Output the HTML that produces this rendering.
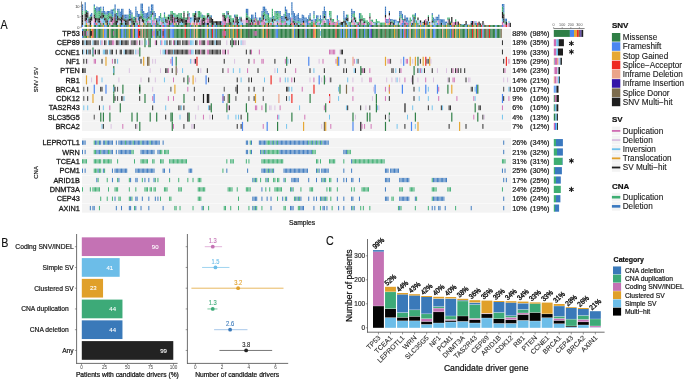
<!DOCTYPE html>
<html><head><meta charset="utf-8"><style>
html,body{margin:0;padding:0;background:#fff;width:685px;height:379px;overflow:hidden}
svg{display:block;will-change:transform}
text{font-family:"Liberation Sans", sans-serif;stroke-linejoin:round}
</style></head><body>
<svg width="685" height="379" viewBox="0 0 685 379" shape-rendering="auto">
<text x="0" y="0" font-size="12.6" fill="#111" stroke="#111" stroke-width="0.15" transform="translate(0.55,28.7) scale(0.85,1)">A</text>
<rect x="82.00" y="28.88" width="429.00" height="9.05" fill="#f3f3f3"/>
<rect x="82.00" y="38.18" width="429.00" height="9.05" fill="#f3f3f3"/>
<rect x="82.00" y="47.48" width="429.00" height="9.05" fill="#f3f3f3"/>
<rect x="82.00" y="56.77" width="429.00" height="9.05" fill="#f3f3f3"/>
<rect x="82.00" y="66.07" width="429.00" height="9.05" fill="#f3f3f3"/>
<rect x="82.00" y="75.38" width="429.00" height="9.05" fill="#f3f3f3"/>
<rect x="82.00" y="84.67" width="429.00" height="9.05" fill="#f3f3f3"/>
<rect x="82.00" y="93.97" width="429.00" height="9.05" fill="#f3f3f3"/>
<rect x="82.00" y="103.28" width="429.00" height="9.05" fill="#f3f3f3"/>
<rect x="82.00" y="112.57" width="429.00" height="9.05" fill="#f3f3f3"/>
<rect x="82.00" y="121.88" width="429.00" height="9.05" fill="#f3f3f3"/>
<rect x="82.00" y="138.12" width="429.00" height="9.05" fill="#f3f3f3"/>
<rect x="82.00" y="147.47" width="429.00" height="9.05" fill="#f3f3f3"/>
<rect x="82.00" y="156.82" width="429.00" height="9.05" fill="#f3f3f3"/>
<rect x="82.00" y="166.17" width="429.00" height="9.05" fill="#f3f3f3"/>
<rect x="82.00" y="175.53" width="429.00" height="9.05" fill="#f3f3f3"/>
<rect x="82.00" y="184.88" width="429.00" height="9.05" fill="#f3f3f3"/>
<rect x="82.00" y="194.22" width="429.00" height="9.05" fill="#f3f3f3"/>
<rect x="82.00" y="203.58" width="429.00" height="9.05" fill="#f3f3f3"/>
<rect x="82.00" y="28.88" width="1.18" height="9.05" fill="#4a86f0"/>
<rect x="82.05" y="31.00" width="0.92" height="4.80" fill="#1e1e1e"/>
<rect x="83.30" y="28.88" width="1.18" height="9.05" fill="#2f7f46"/>
<rect x="83.35" y="31.00" width="0.92" height="4.80" fill="#cf6cb2"/>
<rect x="84.60" y="28.88" width="1.18" height="9.05" fill="#2f7f46"/>
<rect x="84.65" y="31.00" width="0.92" height="4.80" fill="#404040"/>
<rect x="85.90" y="28.88" width="1.18" height="9.05" fill="#2f7f46"/>
<rect x="85.95" y="31.00" width="0.92" height="4.80" fill="#cf6cb2"/>
<rect x="87.20" y="28.88" width="1.18" height="9.05" fill="#e6a834"/>
<rect x="87.25" y="31.00" width="0.92" height="4.80" fill="#6cc0ec"/>
<rect x="88.50" y="28.88" width="1.18" height="9.05" fill="#7c6c4e"/>
<rect x="88.55" y="31.00" width="0.92" height="4.80" fill="#d9bfe0"/>
<rect x="89.80" y="28.88" width="1.18" height="9.05" fill="#2f7f46"/>
<rect x="89.85" y="31.00" width="0.92" height="4.80" fill="#1e1e1e"/>
<rect x="91.10" y="28.88" width="1.18" height="9.05" fill="#e6a834"/>
<rect x="91.15" y="31.00" width="0.92" height="4.80" fill="#1e1e1e"/>
<rect x="92.40" y="28.88" width="1.18" height="9.05" fill="#ee2a24"/>
<rect x="93.70" y="28.88" width="1.18" height="9.05" fill="#2f7f46"/>
<rect x="95.00" y="28.88" width="1.18" height="9.05" fill="#2f7f46"/>
<rect x="96.30" y="28.88" width="1.18" height="9.05" fill="#4a86f0"/>
<rect x="97.60" y="28.88" width="1.18" height="9.05" fill="#2f7f46"/>
<rect x="98.90" y="28.88" width="1.18" height="9.05" fill="#2f7f46"/>
<rect x="100.20" y="28.88" width="1.18" height="9.05" fill="#2f7f46"/>
<rect x="101.50" y="28.88" width="1.18" height="9.05" fill="#2f7f46"/>
<rect x="102.80" y="28.88" width="1.18" height="9.05" fill="#e6a834"/>
<rect x="104.10" y="28.88" width="1.18" height="9.05" fill="#4a86f0"/>
<rect x="105.40" y="28.88" width="1.18" height="9.05" fill="#4a86f0"/>
<rect x="106.70" y="28.88" width="1.18" height="9.05" fill="#2f7f46"/>
<rect x="108.00" y="28.88" width="1.18" height="9.05" fill="#2f7f46"/>
<rect x="109.30" y="28.88" width="1.18" height="9.05" fill="#eba48a"/>
<rect x="110.60" y="28.88" width="1.18" height="9.05" fill="#2f7f46"/>
<rect x="111.90" y="28.88" width="1.18" height="9.05" fill="#2f7f46"/>
<rect x="113.20" y="28.88" width="1.18" height="9.05" fill="#2f7f46"/>
<rect x="113.25" y="31.00" width="0.92" height="4.80" fill="#cf6cb2"/>
<rect x="114.50" y="28.88" width="1.18" height="9.05" fill="#2f7f46"/>
<rect x="115.80" y="28.88" width="1.18" height="9.05" fill="#2f7f46"/>
<rect x="117.10" y="28.88" width="1.18" height="9.05" fill="#2f7f46"/>
<rect x="118.40" y="28.88" width="1.18" height="9.05" fill="#e6a834"/>
<rect x="119.70" y="28.88" width="1.18" height="9.05" fill="#2f7f46"/>
<rect x="121.00" y="28.88" width="1.18" height="9.05" fill="#4a86f0"/>
<rect x="122.30" y="28.88" width="1.18" height="9.05" fill="#4a86f0"/>
<rect x="123.60" y="28.88" width="1.18" height="9.05" fill="#2f7f46"/>
<rect x="124.90" y="28.88" width="1.18" height="9.05" fill="#4a86f0"/>
<rect x="126.20" y="28.88" width="1.18" height="9.05" fill="#2f7f46"/>
<rect x="127.50" y="28.88" width="1.18" height="9.05" fill="#2f7f46"/>
<rect x="128.80" y="28.88" width="1.18" height="9.05" fill="#e6a834"/>
<rect x="130.10" y="28.88" width="1.18" height="9.05" fill="#2f7f46"/>
<rect x="131.40" y="28.88" width="1.18" height="9.05" fill="#3414a8"/>
<rect x="132.70" y="28.88" width="1.18" height="9.05" fill="#e6a834"/>
<rect x="134.00" y="28.88" width="1.18" height="9.05" fill="#2f7f46"/>
<rect x="135.30" y="28.88" width="1.18" height="9.05" fill="#4a86f0"/>
<rect x="136.60" y="28.88" width="1.18" height="9.05" fill="#4a86f0"/>
<rect x="137.90" y="28.88" width="1.18" height="9.05" fill="#ee2a24"/>
<rect x="139.20" y="28.88" width="1.18" height="9.05" fill="#ee2a24"/>
<rect x="139.25" y="31.00" width="0.92" height="4.80" fill="#1e1e1e"/>
<rect x="140.50" y="28.88" width="1.18" height="9.05" fill="#2f7f46"/>
<rect x="141.80" y="28.88" width="1.18" height="9.05" fill="#eba48a"/>
<rect x="143.10" y="28.88" width="1.18" height="9.05" fill="#2f7f46"/>
<rect x="144.40" y="28.88" width="1.18" height="9.05" fill="#7c6c4e"/>
<rect x="145.70" y="28.88" width="1.18" height="9.05" fill="#2f7f46"/>
<rect x="147.00" y="28.88" width="1.18" height="9.05" fill="#7c6c4e"/>
<rect x="148.30" y="28.88" width="1.18" height="9.05" fill="#2f7f46"/>
<rect x="149.60" y="28.88" width="1.18" height="9.05" fill="#2f7f46"/>
<rect x="150.90" y="28.88" width="1.18" height="9.05" fill="#2f7f46"/>
<rect x="152.20" y="28.88" width="1.18" height="9.05" fill="#4a86f0"/>
<rect x="152.25" y="31.00" width="0.92" height="4.80" fill="#cf6cb2"/>
<rect x="153.50" y="28.88" width="1.18" height="9.05" fill="#e6a834"/>
<rect x="153.55" y="31.00" width="0.92" height="4.80" fill="#cf6cb2"/>
<rect x="154.80" y="28.88" width="1.18" height="9.05" fill="#4a86f0"/>
<rect x="156.10" y="28.88" width="1.18" height="9.05" fill="#2f7f46"/>
<rect x="157.40" y="28.88" width="1.18" height="9.05" fill="#2f7f46"/>
<rect x="157.45" y="31.00" width="0.92" height="4.80" fill="#1e1e1e"/>
<rect x="158.70" y="28.88" width="1.18" height="9.05" fill="#2f7f46"/>
<rect x="158.75" y="31.00" width="0.92" height="4.80" fill="#6cc0ec"/>
<rect x="160.00" y="28.88" width="1.18" height="9.05" fill="#2f7f46"/>
<rect x="161.30" y="28.88" width="1.18" height="9.05" fill="#4a86f0"/>
<rect x="162.60" y="28.88" width="1.18" height="9.05" fill="#ee2a24"/>
<rect x="162.65" y="31.00" width="0.92" height="4.80" fill="#404040"/>
<rect x="163.90" y="28.88" width="1.18" height="9.05" fill="#4a86f0"/>
<rect x="165.20" y="28.88" width="1.18" height="9.05" fill="#4a86f0"/>
<rect x="166.50" y="28.88" width="1.18" height="9.05" fill="#2f7f46"/>
<rect x="167.80" y="28.88" width="1.18" height="9.05" fill="#7c6c4e"/>
<rect x="169.10" y="28.88" width="1.18" height="9.05" fill="#2f7f46"/>
<rect x="170.40" y="28.88" width="1.18" height="9.05" fill="#4a86f0"/>
<rect x="171.70" y="28.88" width="1.18" height="9.05" fill="#4a86f0"/>
<rect x="173.00" y="28.88" width="1.18" height="9.05" fill="#4a86f0"/>
<rect x="174.30" y="28.88" width="1.18" height="9.05" fill="#2f7f46"/>
<rect x="175.60" y="28.88" width="1.18" height="9.05" fill="#2f7f46"/>
<rect x="176.90" y="28.88" width="1.18" height="9.05" fill="#2f7f46"/>
<rect x="178.20" y="28.88" width="1.18" height="9.05" fill="#2f7f46"/>
<rect x="179.50" y="28.88" width="1.18" height="9.05" fill="#2f7f46"/>
<rect x="180.80" y="28.88" width="1.18" height="9.05" fill="#2f7f46"/>
<rect x="182.10" y="28.88" width="1.18" height="9.05" fill="#2f7f46"/>
<rect x="183.40" y="28.88" width="1.18" height="9.05" fill="#2f7f46"/>
<rect x="184.70" y="28.88" width="1.18" height="9.05" fill="#ee2a24"/>
<rect x="186.00" y="28.88" width="1.18" height="9.05" fill="#2f7f46"/>
<rect x="187.30" y="28.88" width="1.18" height="9.05" fill="#2f7f46"/>
<rect x="188.60" y="28.88" width="1.18" height="9.05" fill="#2f7f46"/>
<rect x="189.90" y="28.88" width="1.18" height="9.05" fill="#4a86f0"/>
<rect x="191.20" y="28.88" width="1.18" height="9.05" fill="#2f7f46"/>
<rect x="192.50" y="28.88" width="1.18" height="9.05" fill="#2f7f46"/>
<rect x="193.80" y="28.88" width="1.18" height="9.05" fill="#eba48a"/>
<rect x="195.10" y="28.88" width="1.18" height="9.05" fill="#2f7f46"/>
<rect x="196.40" y="28.88" width="1.18" height="9.05" fill="#e6a834"/>
<rect x="197.70" y="28.88" width="1.18" height="9.05" fill="#2f7f46"/>
<rect x="199.00" y="28.88" width="1.18" height="9.05" fill="#2f7f46"/>
<rect x="200.30" y="28.88" width="1.18" height="9.05" fill="#1e1e1e"/>
<rect x="201.60" y="28.88" width="1.18" height="9.05" fill="#2f7f46"/>
<rect x="202.90" y="28.88" width="1.18" height="9.05" fill="#2f7f46"/>
<rect x="204.20" y="28.88" width="1.18" height="9.05" fill="#2f7f46"/>
<rect x="205.50" y="28.88" width="1.18" height="9.05" fill="#4a86f0"/>
<rect x="206.80" y="28.88" width="1.18" height="9.05" fill="#e6a834"/>
<rect x="208.10" y="28.88" width="1.18" height="9.05" fill="#2f7f46"/>
<rect x="209.40" y="28.88" width="1.18" height="9.05" fill="#4a86f0"/>
<rect x="210.70" y="28.88" width="1.18" height="9.05" fill="#2f7f46"/>
<rect x="212.00" y="28.88" width="1.18" height="9.05" fill="#ee2a24"/>
<rect x="213.30" y="28.88" width="1.18" height="9.05" fill="#4a86f0"/>
<rect x="214.60" y="28.88" width="1.18" height="9.05" fill="#2f7f46"/>
<rect x="215.90" y="28.88" width="1.18" height="9.05" fill="#4a86f0"/>
<rect x="217.20" y="28.88" width="1.18" height="9.05" fill="#2f7f46"/>
<rect x="218.50" y="28.88" width="1.18" height="9.05" fill="#2f7f46"/>
<rect x="219.80" y="28.88" width="1.18" height="9.05" fill="#2f7f46"/>
<rect x="221.10" y="28.88" width="1.18" height="9.05" fill="#2f7f46"/>
<rect x="222.40" y="28.88" width="1.18" height="9.05" fill="#2f7f46"/>
<rect x="222.45" y="31.00" width="0.92" height="4.80" fill="#cf6cb2"/>
<rect x="223.70" y="28.88" width="1.18" height="9.05" fill="#ee2a24"/>
<rect x="223.75" y="31.00" width="0.92" height="4.80" fill="#cf6cb2"/>
<rect x="225.00" y="28.88" width="1.18" height="9.05" fill="#2f7f46"/>
<rect x="225.05" y="31.00" width="0.92" height="4.80" fill="#cf6cb2"/>
<rect x="226.30" y="28.88" width="1.18" height="9.05" fill="#2f7f46"/>
<rect x="227.60" y="28.88" width="1.18" height="9.05" fill="#2f7f46"/>
<rect x="228.90" y="28.88" width="1.18" height="9.05" fill="#e6a834"/>
<rect x="230.20" y="28.88" width="1.18" height="9.05" fill="#2f7f46"/>
<rect x="231.50" y="28.88" width="1.18" height="9.05" fill="#2f7f46"/>
<rect x="232.80" y="28.88" width="1.18" height="9.05" fill="#e6a834"/>
<rect x="234.10" y="28.88" width="1.18" height="9.05" fill="#2f7f46"/>
<rect x="235.40" y="28.88" width="1.18" height="9.05" fill="#2f7f46"/>
<rect x="236.70" y="28.88" width="1.18" height="9.05" fill="#ee2a24"/>
<rect x="238.00" y="28.88" width="1.18" height="9.05" fill="#2f7f46"/>
<rect x="239.30" y="28.88" width="1.18" height="9.05" fill="#2f7f46"/>
<rect x="240.60" y="28.88" width="1.18" height="9.05" fill="#e6a834"/>
<rect x="241.90" y="28.88" width="1.18" height="9.05" fill="#2f7f46"/>
<rect x="243.20" y="28.88" width="1.18" height="9.05" fill="#2f7f46"/>
<rect x="244.50" y="28.88" width="1.18" height="9.05" fill="#2f7f46"/>
<rect x="245.80" y="28.88" width="1.18" height="9.05" fill="#2f7f46"/>
<rect x="247.10" y="28.88" width="1.18" height="9.05" fill="#2f7f46"/>
<rect x="248.40" y="28.88" width="1.18" height="9.05" fill="#1e1e1e"/>
<rect x="249.70" y="28.88" width="1.18" height="9.05" fill="#2f7f46"/>
<rect x="251.00" y="28.88" width="1.18" height="9.05" fill="#2f7f46"/>
<rect x="252.30" y="28.88" width="1.18" height="9.05" fill="#2f7f46"/>
<rect x="253.60" y="28.88" width="1.18" height="9.05" fill="#2f7f46"/>
<rect x="253.65" y="31.00" width="0.92" height="4.80" fill="#cf6cb2"/>
<rect x="254.90" y="28.88" width="1.18" height="9.05" fill="#2f7f46"/>
<rect x="254.95" y="31.00" width="0.92" height="4.80" fill="#cf6cb2"/>
<rect x="256.20" y="28.88" width="1.18" height="9.05" fill="#2f7f46"/>
<rect x="256.25" y="31.00" width="0.92" height="4.80" fill="#cf6cb2"/>
<rect x="257.50" y="28.88" width="1.18" height="9.05" fill="#2f7f46"/>
<rect x="258.80" y="28.88" width="1.18" height="9.05" fill="#2f7f46"/>
<rect x="260.10" y="28.88" width="1.18" height="9.05" fill="#2f7f46"/>
<rect x="261.40" y="28.88" width="1.18" height="9.05" fill="#2f7f46"/>
<rect x="262.70" y="28.88" width="1.18" height="9.05" fill="#e6a834"/>
<rect x="264.00" y="28.88" width="1.18" height="9.05" fill="#2f7f46"/>
<rect x="265.30" y="28.88" width="1.18" height="9.05" fill="#2f7f46"/>
<rect x="266.60" y="28.88" width="1.18" height="9.05" fill="#ee2a24"/>
<rect x="267.90" y="28.88" width="1.18" height="9.05" fill="#2f7f46"/>
<rect x="269.20" y="28.88" width="1.18" height="9.05" fill="#7c6c4e"/>
<rect x="270.50" y="28.88" width="1.18" height="9.05" fill="#2f7f46"/>
<rect x="271.80" y="28.88" width="1.18" height="9.05" fill="#2f7f46"/>
<rect x="273.10" y="28.88" width="1.18" height="9.05" fill="#2f7f46"/>
<rect x="274.40" y="28.88" width="1.18" height="9.05" fill="#2f7f46"/>
<rect x="275.70" y="28.88" width="1.18" height="9.05" fill="#4a86f0"/>
<rect x="277.00" y="28.88" width="1.18" height="9.05" fill="#4a86f0"/>
<rect x="278.30" y="28.88" width="1.18" height="9.05" fill="#2f7f46"/>
<rect x="279.60" y="28.88" width="1.18" height="9.05" fill="#2f7f46"/>
<rect x="280.90" y="28.88" width="1.18" height="9.05" fill="#2f7f46"/>
<rect x="282.20" y="28.88" width="1.18" height="9.05" fill="#2f7f46"/>
<rect x="283.50" y="28.88" width="1.18" height="9.05" fill="#2f7f46"/>
<rect x="284.80" y="28.88" width="1.18" height="9.05" fill="#2f7f46"/>
<rect x="286.10" y="28.88" width="1.18" height="9.05" fill="#2f7f46"/>
<rect x="287.40" y="28.88" width="1.18" height="9.05" fill="#2f7f46"/>
<rect x="288.70" y="28.88" width="1.18" height="9.05" fill="#2f7f46"/>
<rect x="290.00" y="28.88" width="1.18" height="9.05" fill="#2f7f46"/>
<rect x="291.30" y="28.88" width="1.18" height="9.05" fill="#2f7f46"/>
<rect x="292.60" y="28.88" width="1.18" height="9.05" fill="#e6a834"/>
<rect x="293.90" y="28.88" width="1.18" height="9.05" fill="#4a86f0"/>
<rect x="295.20" y="28.88" width="1.18" height="9.05" fill="#2f7f46"/>
<rect x="296.50" y="28.88" width="1.18" height="9.05" fill="#2f7f46"/>
<rect x="297.80" y="28.88" width="1.18" height="9.05" fill="#1e1e1e"/>
<rect x="299.10" y="28.88" width="1.18" height="9.05" fill="#2f7f46"/>
<rect x="300.40" y="28.88" width="1.18" height="9.05" fill="#2f7f46"/>
<rect x="301.70" y="28.88" width="1.18" height="9.05" fill="#2f7f46"/>
<rect x="303.00" y="28.88" width="1.18" height="9.05" fill="#2f7f46"/>
<rect x="304.30" y="28.88" width="1.18" height="9.05" fill="#7c6c4e"/>
<rect x="305.60" y="28.88" width="1.18" height="9.05" fill="#4a86f0"/>
<rect x="306.90" y="28.88" width="1.18" height="9.05" fill="#2f7f46"/>
<rect x="308.20" y="28.88" width="1.18" height="9.05" fill="#2f7f46"/>
<rect x="309.50" y="28.88" width="1.18" height="9.05" fill="#2f7f46"/>
<rect x="310.80" y="28.88" width="1.18" height="9.05" fill="#2f7f46"/>
<rect x="312.10" y="28.88" width="1.18" height="9.05" fill="#2f7f46"/>
<rect x="313.40" y="28.88" width="1.18" height="9.05" fill="#ee2a24"/>
<rect x="314.70" y="28.88" width="1.18" height="9.05" fill="#e6a834"/>
<rect x="316.00" y="28.88" width="1.18" height="9.05" fill="#2f7f46"/>
<rect x="317.30" y="28.88" width="1.18" height="9.05" fill="#2f7f46"/>
<rect x="318.60" y="28.88" width="1.18" height="9.05" fill="#2f7f46"/>
<rect x="319.90" y="28.88" width="1.18" height="9.05" fill="#f3f3f3"/>
<rect x="319.95" y="31.00" width="0.92" height="4.80" fill="#6cc0ec"/>
<rect x="321.20" y="28.88" width="1.18" height="9.05" fill="#2f7f46"/>
<rect x="322.50" y="28.88" width="1.18" height="9.05" fill="#2f7f46"/>
<rect x="323.80" y="28.88" width="1.18" height="9.05" fill="#2f7f46"/>
<rect x="325.10" y="28.88" width="1.18" height="9.05" fill="#2f7f46"/>
<rect x="326.40" y="28.88" width="1.18" height="9.05" fill="#2f7f46"/>
<rect x="327.70" y="28.88" width="1.18" height="9.05" fill="#2f7f46"/>
<rect x="329.00" y="28.88" width="1.18" height="9.05" fill="#2f7f46"/>
<rect x="330.30" y="28.88" width="1.18" height="9.05" fill="#2f7f46"/>
<rect x="331.60" y="28.88" width="1.18" height="9.05" fill="#2f7f46"/>
<rect x="332.90" y="28.88" width="1.18" height="9.05" fill="#2f7f46"/>
<rect x="334.20" y="28.88" width="1.18" height="9.05" fill="#2f7f46"/>
<rect x="335.50" y="28.88" width="1.18" height="9.05" fill="#ee2a24"/>
<rect x="336.80" y="28.88" width="1.18" height="9.05" fill="#2f7f46"/>
<rect x="338.10" y="28.88" width="1.18" height="9.05" fill="#2f7f46"/>
<rect x="339.40" y="28.88" width="1.18" height="9.05" fill="#2f7f46"/>
<rect x="340.70" y="28.88" width="1.18" height="9.05" fill="#4a86f0"/>
<rect x="342.00" y="28.88" width="1.18" height="9.05" fill="#2f7f46"/>
<rect x="343.30" y="28.88" width="1.18" height="9.05" fill="#4a86f0"/>
<rect x="344.60" y="28.88" width="1.18" height="9.05" fill="#2f7f46"/>
<rect x="345.90" y="28.88" width="1.18" height="9.05" fill="#e6a834"/>
<rect x="347.20" y="28.88" width="1.18" height="9.05" fill="#2f7f46"/>
<rect x="348.50" y="28.88" width="1.18" height="9.05" fill="#4a86f0"/>
<rect x="349.80" y="28.88" width="1.18" height="9.05" fill="#2f7f46"/>
<rect x="351.10" y="28.88" width="1.18" height="9.05" fill="#4a86f0"/>
<rect x="352.40" y="28.88" width="1.18" height="9.05" fill="#2f7f46"/>
<rect x="353.70" y="28.88" width="1.18" height="9.05" fill="#2f7f46"/>
<rect x="355.00" y="28.88" width="1.18" height="9.05" fill="#2f7f46"/>
<rect x="356.30" y="28.88" width="1.18" height="9.05" fill="#ee2a24"/>
<rect x="357.60" y="28.88" width="1.18" height="9.05" fill="#4a86f0"/>
<rect x="358.90" y="28.88" width="1.18" height="9.05" fill="#2f7f46"/>
<rect x="360.20" y="28.88" width="1.18" height="9.05" fill="#2f7f46"/>
<rect x="361.50" y="28.88" width="1.18" height="9.05" fill="#2f7f46"/>
<rect x="362.80" y="28.88" width="1.18" height="9.05" fill="#2f7f46"/>
<rect x="364.10" y="28.88" width="1.18" height="9.05" fill="#4a86f0"/>
<rect x="365.40" y="28.88" width="1.18" height="9.05" fill="#2f7f46"/>
<rect x="366.70" y="28.88" width="1.18" height="9.05" fill="#2f7f46"/>
<rect x="368.00" y="28.88" width="1.18" height="9.05" fill="#2f7f46"/>
<rect x="369.30" y="28.88" width="1.18" height="9.05" fill="#4a86f0"/>
<rect x="370.60" y="28.88" width="1.18" height="9.05" fill="#3414a8"/>
<rect x="371.90" y="28.88" width="1.18" height="9.05" fill="#2f7f46"/>
<rect x="373.20" y="28.88" width="1.18" height="9.05" fill="#2f7f46"/>
<rect x="374.50" y="28.88" width="1.18" height="9.05" fill="#2f7f46"/>
<rect x="375.80" y="28.88" width="1.18" height="9.05" fill="#2f7f46"/>
<rect x="377.10" y="28.88" width="1.18" height="9.05" fill="#2f7f46"/>
<rect x="378.40" y="28.88" width="1.18" height="9.05" fill="#7c6c4e"/>
<rect x="379.70" y="28.88" width="1.18" height="9.05" fill="#2f7f46"/>
<rect x="381.00" y="28.88" width="1.18" height="9.05" fill="#2f7f46"/>
<rect x="382.30" y="28.88" width="1.18" height="9.05" fill="#2f7f46"/>
<rect x="383.60" y="28.88" width="1.18" height="9.05" fill="#2f7f46"/>
<rect x="384.90" y="28.88" width="1.18" height="9.05" fill="#7c6c4e"/>
<rect x="386.20" y="28.88" width="1.18" height="9.05" fill="#2f7f46"/>
<rect x="387.50" y="28.88" width="1.18" height="9.05" fill="#2f7f46"/>
<rect x="388.80" y="28.88" width="1.18" height="9.05" fill="#2f7f46"/>
<rect x="390.10" y="28.88" width="1.18" height="9.05" fill="#2f7f46"/>
<rect x="391.40" y="28.88" width="1.18" height="9.05" fill="#2f7f46"/>
<rect x="392.70" y="28.88" width="1.18" height="9.05" fill="#2f7f46"/>
<rect x="394.00" y="28.88" width="1.18" height="9.05" fill="#e6a834"/>
<rect x="395.30" y="28.88" width="1.18" height="9.05" fill="#2f7f46"/>
<rect x="396.60" y="28.88" width="1.18" height="9.05" fill="#7c6c4e"/>
<rect x="397.90" y="28.88" width="1.18" height="9.05" fill="#2f7f46"/>
<rect x="399.20" y="28.88" width="1.18" height="9.05" fill="#2f7f46"/>
<rect x="400.50" y="28.88" width="1.18" height="9.05" fill="#4a86f0"/>
<rect x="401.80" y="28.88" width="1.18" height="9.05" fill="#2f7f46"/>
<rect x="403.10" y="28.88" width="1.18" height="9.05" fill="#4a86f0"/>
<rect x="404.40" y="28.88" width="1.18" height="9.05" fill="#ee2a24"/>
<rect x="405.70" y="28.88" width="1.18" height="9.05" fill="#2f7f46"/>
<rect x="407.00" y="28.88" width="1.18" height="9.05" fill="#4a86f0"/>
<rect x="408.30" y="28.88" width="1.18" height="9.05" fill="#2f7f46"/>
<rect x="409.60" y="28.88" width="1.18" height="9.05" fill="#eba48a"/>
<rect x="410.90" y="28.88" width="1.18" height="9.05" fill="#2f7f46"/>
<rect x="412.20" y="28.88" width="1.18" height="9.05" fill="#2f7f46"/>
<rect x="413.50" y="28.88" width="1.18" height="9.05" fill="#2f7f46"/>
<rect x="414.80" y="28.88" width="1.18" height="9.05" fill="#e6a834"/>
<rect x="416.10" y="28.88" width="1.18" height="9.05" fill="#4a86f0"/>
<rect x="417.40" y="28.88" width="1.18" height="9.05" fill="#2f7f46"/>
<rect x="418.70" y="28.88" width="1.18" height="9.05" fill="#2f7f46"/>
<rect x="420.00" y="28.88" width="1.18" height="9.05" fill="#e6a834"/>
<rect x="421.30" y="28.88" width="1.18" height="9.05" fill="#2f7f46"/>
<rect x="422.60" y="28.88" width="1.18" height="9.05" fill="#2f7f46"/>
<rect x="423.90" y="28.88" width="1.18" height="9.05" fill="#4a86f0"/>
<rect x="425.20" y="28.88" width="1.18" height="9.05" fill="#e6a834"/>
<rect x="426.50" y="28.88" width="1.18" height="9.05" fill="#2f7f46"/>
<rect x="427.80" y="28.88" width="1.18" height="9.05" fill="#2f7f46"/>
<rect x="429.10" y="28.88" width="1.18" height="9.05" fill="#2f7f46"/>
<rect x="430.40" y="28.88" width="1.18" height="9.05" fill="#e6a834"/>
<rect x="431.70" y="28.88" width="1.18" height="9.05" fill="#2f7f46"/>
<rect x="433.00" y="28.88" width="1.18" height="9.05" fill="#4a86f0"/>
<rect x="434.30" y="28.88" width="1.18" height="9.05" fill="#4a86f0"/>
<rect x="435.60" y="28.88" width="1.18" height="9.05" fill="#2f7f46"/>
<rect x="436.90" y="28.88" width="1.18" height="9.05" fill="#2f7f46"/>
<rect x="438.20" y="28.88" width="1.18" height="9.05" fill="#2f7f46"/>
<rect x="439.50" y="28.88" width="1.18" height="9.05" fill="#2f7f46"/>
<rect x="440.80" y="28.88" width="1.18" height="9.05" fill="#2f7f46"/>
<rect x="442.10" y="28.88" width="1.18" height="9.05" fill="#eba48a"/>
<rect x="443.40" y="28.88" width="1.18" height="9.05" fill="#2f7f46"/>
<rect x="444.70" y="28.88" width="1.18" height="9.05" fill="#2f7f46"/>
<rect x="446.00" y="28.88" width="1.18" height="9.05" fill="#e6a834"/>
<rect x="447.30" y="28.88" width="1.18" height="9.05" fill="#2f7f46"/>
<rect x="448.60" y="28.88" width="1.18" height="9.05" fill="#2f7f46"/>
<rect x="449.90" y="28.88" width="1.18" height="9.05" fill="#4a86f0"/>
<rect x="451.20" y="28.88" width="1.18" height="9.05" fill="#2f7f46"/>
<rect x="452.50" y="28.88" width="1.18" height="9.05" fill="#ee2a24"/>
<rect x="453.80" y="28.88" width="1.18" height="9.05" fill="#2f7f46"/>
<rect x="455.10" y="28.88" width="1.18" height="9.05" fill="#e6a834"/>
<rect x="456.40" y="28.88" width="1.18" height="9.05" fill="#2f7f46"/>
<rect x="457.70" y="28.88" width="1.18" height="9.05" fill="#2f7f46"/>
<rect x="459.00" y="28.88" width="1.18" height="9.05" fill="#e6a834"/>
<rect x="460.30" y="28.88" width="1.18" height="9.05" fill="#2f7f46"/>
<rect x="461.60" y="28.88" width="1.18" height="9.05" fill="#2f7f46"/>
<rect x="462.90" y="28.88" width="1.18" height="9.05" fill="#2f7f46"/>
<rect x="464.20" y="28.88" width="1.18" height="9.05" fill="#2f7f46"/>
<rect x="465.50" y="28.88" width="1.18" height="9.05" fill="#4a86f0"/>
<rect x="466.80" y="28.88" width="1.18" height="9.05" fill="#2f7f46"/>
<rect x="468.10" y="28.88" width="1.18" height="9.05" fill="#e6a834"/>
<rect x="469.40" y="28.88" width="1.18" height="9.05" fill="#2f7f46"/>
<rect x="470.70" y="28.88" width="1.18" height="9.05" fill="#2f7f46"/>
<rect x="472.00" y="28.88" width="1.18" height="9.05" fill="#ee2a24"/>
<rect x="473.30" y="28.88" width="1.18" height="9.05" fill="#2f7f46"/>
<rect x="474.60" y="28.88" width="1.18" height="9.05" fill="#e6a834"/>
<rect x="475.90" y="28.88" width="1.18" height="9.05" fill="#2f7f46"/>
<rect x="477.20" y="28.88" width="1.18" height="9.05" fill="#ee2a24"/>
<rect x="478.50" y="28.88" width="1.18" height="9.05" fill="#2f7f46"/>
<rect x="479.80" y="28.88" width="1.18" height="9.05" fill="#2f7f46"/>
<rect x="481.10" y="28.88" width="1.18" height="9.05" fill="#ee2a24"/>
<rect x="482.40" y="28.88" width="1.18" height="9.05" fill="#4a86f0"/>
<rect x="483.70" y="28.88" width="1.18" height="9.05" fill="#2f7f46"/>
<rect x="485.00" y="28.88" width="1.18" height="9.05" fill="#7c6c4e"/>
<rect x="486.30" y="28.88" width="1.18" height="9.05" fill="#7c6c4e"/>
<rect x="487.60" y="28.88" width="1.18" height="9.05" fill="#2f7f46"/>
<rect x="488.90" y="28.88" width="1.18" height="9.05" fill="#ee2a24"/>
<rect x="490.20" y="28.88" width="1.18" height="9.05" fill="#2f7f46"/>
<rect x="491.50" y="28.88" width="1.18" height="9.05" fill="#2f7f46"/>
<rect x="492.80" y="28.88" width="1.18" height="9.05" fill="#2f7f46"/>
<rect x="494.10" y="28.88" width="1.18" height="9.05" fill="#2f7f46"/>
<rect x="495.40" y="28.88" width="1.18" height="9.05" fill="#4a86f0"/>
<rect x="496.70" y="28.88" width="1.18" height="9.05" fill="#2f7f46"/>
<rect x="498.00" y="28.88" width="1.18" height="9.05" fill="#2f7f46"/>
<rect x="499.30" y="28.88" width="1.18" height="9.05" fill="#2f7f46"/>
<rect x="500.60" y="28.88" width="1.18" height="9.05" fill="#7c6c4e"/>
<rect x="82.05" y="40.30" width="0.92" height="4.80" fill="#1e1e1e"/>
<rect x="83.35" y="40.30" width="0.92" height="4.80" fill="#404040"/>
<rect x="84.65" y="40.30" width="0.92" height="4.80" fill="#6cc0ec"/>
<rect x="85.95" y="40.30" width="0.92" height="4.80" fill="#1e1e1e"/>
<rect x="87.25" y="40.30" width="0.92" height="4.80" fill="#404040"/>
<rect x="88.55" y="40.30" width="0.92" height="4.80" fill="#1e1e1e"/>
<rect x="89.85" y="40.30" width="0.92" height="4.80" fill="#404040"/>
<rect x="92.45" y="40.30" width="0.92" height="4.80" fill="#6cc0ec"/>
<rect x="93.75" y="40.30" width="0.92" height="4.80" fill="#1e1e1e"/>
<rect x="95.05" y="40.30" width="0.92" height="4.80" fill="#404040"/>
<rect x="96.35" y="40.30" width="0.92" height="4.80" fill="#404040"/>
<rect x="97.65" y="40.30" width="0.92" height="4.80" fill="#1e1e1e"/>
<rect x="100.25" y="40.30" width="0.92" height="4.80" fill="#6cc0ec"/>
<rect x="101.55" y="40.30" width="0.92" height="4.80" fill="#cf6cb2"/>
<rect x="104.15" y="40.30" width="0.92" height="4.80" fill="#1e1e1e"/>
<rect x="105.45" y="40.30" width="0.92" height="4.80" fill="#404040"/>
<rect x="108.05" y="40.30" width="0.92" height="4.80" fill="#6cc0ec"/>
<rect x="109.35" y="40.30" width="0.92" height="4.80" fill="#1e1e1e"/>
<rect x="110.65" y="40.30" width="0.92" height="4.80" fill="#1e1e1e"/>
<rect x="111.95" y="40.30" width="0.92" height="4.80" fill="#cf6cb2"/>
<rect x="113.25" y="40.30" width="0.92" height="4.80" fill="#cf6cb2"/>
<rect x="115.85" y="40.30" width="0.92" height="4.80" fill="#1e1e1e"/>
<rect x="117.15" y="40.30" width="0.92" height="4.80" fill="#404040"/>
<rect x="118.45" y="40.30" width="0.92" height="4.80" fill="#404040"/>
<rect x="119.75" y="40.30" width="0.92" height="4.80" fill="#6cc0ec"/>
<rect x="121.05" y="40.30" width="0.92" height="4.80" fill="#1e1e1e"/>
<rect x="122.35" y="40.30" width="0.92" height="4.80" fill="#1e1e1e"/>
<rect x="123.65" y="40.30" width="0.92" height="4.80" fill="#404040"/>
<rect x="124.95" y="40.30" width="0.92" height="4.80" fill="#404040"/>
<rect x="126.25" y="40.30" width="0.92" height="4.80" fill="#1e1e1e"/>
<rect x="127.55" y="40.30" width="0.92" height="4.80" fill="#1e1e1e"/>
<rect x="130.15" y="40.30" width="0.92" height="4.80" fill="#d9bfe0"/>
<rect x="131.45" y="40.30" width="0.92" height="4.80" fill="#1e1e1e"/>
<rect x="132.75" y="40.30" width="0.92" height="4.80" fill="#404040"/>
<rect x="134.05" y="40.30" width="0.92" height="4.80" fill="#404040"/>
<rect x="135.35" y="40.30" width="0.92" height="4.80" fill="#1e1e1e"/>
<rect x="136.65" y="40.30" width="0.92" height="4.80" fill="#cf6cb2"/>
<rect x="139.25" y="40.30" width="0.92" height="4.80" fill="#1e1e1e"/>
<rect x="140.55" y="40.30" width="0.92" height="4.80" fill="#d9bfe0"/>
<rect x="141.85" y="40.30" width="0.92" height="4.80" fill="#d9bfe0"/>
<rect x="144.40" y="38.18" width="1.18" height="9.05" fill="#2f7f46"/>
<rect x="145.75" y="40.30" width="0.92" height="4.80" fill="#6cc0ec"/>
<rect x="148.30" y="38.18" width="1.18" height="9.05" fill="#2f7f46"/>
<rect x="148.35" y="40.30" width="0.92" height="4.80" fill="#cf6cb2"/>
<rect x="149.60" y="38.18" width="1.18" height="9.05" fill="#2f7f46"/>
<rect x="154.85" y="40.30" width="0.92" height="4.80" fill="#cf6cb2"/>
<rect x="156.15" y="40.30" width="0.92" height="4.80" fill="#1e1e1e"/>
<rect x="160.05" y="40.30" width="0.92" height="4.80" fill="#6cc0ec"/>
<rect x="161.35" y="40.30" width="0.92" height="4.80" fill="#cf6cb2"/>
<rect x="163.95" y="40.30" width="0.92" height="4.80" fill="#6cc0ec"/>
<rect x="165.25" y="40.30" width="0.92" height="4.80" fill="#6cc0ec"/>
<rect x="166.55" y="40.30" width="0.92" height="4.80" fill="#1e1e1e"/>
<rect x="169.15" y="40.30" width="0.92" height="4.80" fill="#404040"/>
<rect x="170.45" y="40.30" width="0.92" height="4.80" fill="#404040"/>
<rect x="173.05" y="40.30" width="0.92" height="4.80" fill="#cf6cb2"/>
<rect x="174.35" y="40.30" width="0.92" height="4.80" fill="#1e1e1e"/>
<rect x="175.65" y="40.30" width="0.92" height="4.80" fill="#6cc0ec"/>
<rect x="176.95" y="40.30" width="0.92" height="4.80" fill="#1e1e1e"/>
<rect x="178.25" y="40.30" width="0.92" height="4.80" fill="#404040"/>
<rect x="179.55" y="40.30" width="0.92" height="4.80" fill="#1e1e1e"/>
<rect x="182.15" y="40.30" width="0.92" height="4.80" fill="#404040"/>
<rect x="183.45" y="40.30" width="0.92" height="4.80" fill="#404040"/>
<rect x="184.75" y="40.30" width="0.92" height="4.80" fill="#404040"/>
<rect x="186.05" y="40.30" width="0.92" height="4.80" fill="#404040"/>
<rect x="187.35" y="40.30" width="0.92" height="4.80" fill="#404040"/>
<rect x="188.65" y="40.30" width="0.92" height="4.80" fill="#cf6cb2"/>
<rect x="189.95" y="40.30" width="0.92" height="4.80" fill="#6cc0ec"/>
<rect x="191.25" y="40.30" width="0.92" height="4.80" fill="#6cc0ec"/>
<rect x="192.55" y="40.30" width="0.92" height="4.80" fill="#6cc0ec"/>
<rect x="195.15" y="40.30" width="0.92" height="4.80" fill="#1e1e1e"/>
<rect x="196.45" y="40.30" width="0.92" height="4.80" fill="#1e1e1e"/>
<rect x="199.05" y="40.30" width="0.92" height="4.80" fill="#cf6cb2"/>
<rect x="200.35" y="40.30" width="0.92" height="4.80" fill="#cf6cb2"/>
<rect x="201.65" y="40.30" width="0.92" height="4.80" fill="#1e1e1e"/>
<rect x="202.95" y="40.30" width="0.92" height="4.80" fill="#404040"/>
<rect x="204.25" y="40.30" width="0.92" height="4.80" fill="#1e1e1e"/>
<rect x="206.85" y="40.30" width="0.92" height="4.80" fill="#cf6cb2"/>
<rect x="208.15" y="40.30" width="0.92" height="4.80" fill="#cf6cb2"/>
<rect x="209.45" y="40.30" width="0.92" height="4.80" fill="#1e1e1e"/>
<rect x="210.75" y="40.30" width="0.92" height="4.80" fill="#404040"/>
<rect x="212.05" y="40.30" width="0.92" height="4.80" fill="#1e1e1e"/>
<rect x="213.35" y="40.30" width="0.92" height="4.80" fill="#404040"/>
<rect x="214.65" y="40.30" width="0.92" height="4.80" fill="#6cc0ec"/>
<rect x="215.95" y="40.30" width="0.92" height="4.80" fill="#1e1e1e"/>
<rect x="217.25" y="40.30" width="0.92" height="4.80" fill="#404040"/>
<rect x="218.55" y="40.30" width="0.92" height="4.80" fill="#1e1e1e"/>
<rect x="219.85" y="40.30" width="0.92" height="4.80" fill="#404040"/>
<rect x="226.35" y="40.30" width="0.92" height="4.80" fill="#d9bfe0"/>
<rect x="230.25" y="40.30" width="0.92" height="4.80" fill="#1e1e1e"/>
<rect x="231.50" y="38.18" width="1.18" height="9.05" fill="#2f7f46"/>
<rect x="232.85" y="40.30" width="0.92" height="4.80" fill="#1e1e1e"/>
<rect x="234.15" y="40.30" width="0.92" height="4.80" fill="#cf6cb2"/>
<rect x="235.45" y="40.30" width="0.92" height="4.80" fill="#1e1e1e"/>
<rect x="238.05" y="40.30" width="0.92" height="4.80" fill="#1e1e1e"/>
<rect x="240.65" y="40.30" width="0.92" height="4.80" fill="#6cc0ec"/>
<rect x="241.95" y="40.30" width="0.92" height="4.80" fill="#d9bfe0"/>
<rect x="243.25" y="40.30" width="0.92" height="4.80" fill="#d9bfe0"/>
<rect x="244.55" y="40.30" width="0.92" height="4.80" fill="#d9bfe0"/>
<rect x="501.95" y="40.30" width="0.92" height="4.80" fill="#1e1e1e"/>
<rect x="82.05" y="49.60" width="0.92" height="4.80" fill="#1e1e1e"/>
<rect x="83.35" y="49.60" width="0.92" height="4.80" fill="#6cc0ec"/>
<rect x="85.95" y="49.60" width="0.92" height="4.80" fill="#1e1e1e"/>
<rect x="87.25" y="49.60" width="0.92" height="4.80" fill="#6cc0ec"/>
<rect x="88.55" y="49.60" width="0.92" height="4.80" fill="#1e1e1e"/>
<rect x="89.85" y="49.60" width="0.92" height="4.80" fill="#404040"/>
<rect x="92.40" y="47.48" width="1.18" height="9.05" fill="#2f7f46"/>
<rect x="92.45" y="49.60" width="0.92" height="4.80" fill="#6cc0ec"/>
<rect x="93.75" y="49.60" width="0.92" height="4.80" fill="#cf6cb2"/>
<rect x="95.05" y="49.60" width="0.92" height="4.80" fill="#1e1e1e"/>
<rect x="97.65" y="49.60" width="0.92" height="4.80" fill="#404040"/>
<rect x="98.95" y="49.60" width="0.92" height="4.80" fill="#1e1e1e"/>
<rect x="102.85" y="49.60" width="0.92" height="4.80" fill="#6cc0ec"/>
<rect x="104.15" y="49.60" width="0.92" height="4.80" fill="#6cc0ec"/>
<rect x="105.45" y="49.60" width="0.92" height="4.80" fill="#1e1e1e"/>
<rect x="106.75" y="49.60" width="0.92" height="4.80" fill="#404040"/>
<rect x="109.35" y="49.60" width="0.92" height="4.80" fill="#6cc0ec"/>
<rect x="110.65" y="49.60" width="0.92" height="4.80" fill="#1e1e1e"/>
<rect x="111.95" y="49.60" width="0.92" height="4.80" fill="#1e1e1e"/>
<rect x="115.85" y="49.60" width="0.92" height="4.80" fill="#1e1e1e"/>
<rect x="119.75" y="49.60" width="0.92" height="4.80" fill="#1e1e1e"/>
<rect x="121.05" y="49.60" width="0.92" height="4.80" fill="#404040"/>
<rect x="123.65" y="49.60" width="0.92" height="4.80" fill="#6cc0ec"/>
<rect x="124.95" y="49.60" width="0.92" height="4.80" fill="#1e1e1e"/>
<rect x="126.25" y="49.60" width="0.92" height="4.80" fill="#1e1e1e"/>
<rect x="127.55" y="49.60" width="0.92" height="4.80" fill="#404040"/>
<rect x="128.85" y="49.60" width="0.92" height="4.80" fill="#404040"/>
<rect x="130.15" y="49.60" width="0.92" height="4.80" fill="#1e1e1e"/>
<rect x="131.45" y="49.60" width="0.92" height="4.80" fill="#1e1e1e"/>
<rect x="132.75" y="49.60" width="0.92" height="4.80" fill="#404040"/>
<rect x="135.35" y="49.60" width="0.92" height="4.80" fill="#6cc0ec"/>
<rect x="136.65" y="49.60" width="0.92" height="4.80" fill="#d9bfe0"/>
<rect x="137.95" y="49.60" width="0.92" height="4.80" fill="#d9bfe0"/>
<rect x="139.20" y="47.48" width="1.18" height="9.05" fill="#2f7f46"/>
<rect x="160.05" y="49.60" width="0.92" height="4.80" fill="#d9bfe0"/>
<rect x="162.65" y="49.60" width="0.92" height="4.80" fill="#6cc0ec"/>
<rect x="163.95" y="49.60" width="0.92" height="4.80" fill="#6cc0ec"/>
<rect x="165.25" y="49.60" width="0.92" height="4.80" fill="#1e1e1e"/>
<rect x="166.55" y="49.60" width="0.92" height="4.80" fill="#cf6cb2"/>
<rect x="167.85" y="49.60" width="0.92" height="4.80" fill="#1e1e1e"/>
<rect x="169.15" y="49.60" width="0.92" height="4.80" fill="#404040"/>
<rect x="170.45" y="49.60" width="0.92" height="4.80" fill="#1e1e1e"/>
<rect x="171.75" y="49.60" width="0.92" height="4.80" fill="#404040"/>
<rect x="173.05" y="49.60" width="0.92" height="4.80" fill="#6cc0ec"/>
<rect x="174.35" y="49.60" width="0.92" height="4.80" fill="#1e1e1e"/>
<rect x="175.65" y="49.60" width="0.92" height="4.80" fill="#1e1e1e"/>
<rect x="176.95" y="49.60" width="0.92" height="4.80" fill="#1e1e1e"/>
<rect x="178.25" y="49.60" width="0.92" height="4.80" fill="#404040"/>
<rect x="179.55" y="49.60" width="0.92" height="4.80" fill="#1e1e1e"/>
<rect x="180.85" y="49.60" width="0.92" height="4.80" fill="#404040"/>
<rect x="182.15" y="49.60" width="0.92" height="4.80" fill="#1e1e1e"/>
<rect x="183.45" y="49.60" width="0.92" height="4.80" fill="#404040"/>
<rect x="184.75" y="49.60" width="0.92" height="4.80" fill="#1e1e1e"/>
<rect x="186.05" y="49.60" width="0.92" height="4.80" fill="#404040"/>
<rect x="187.35" y="49.60" width="0.92" height="4.80" fill="#1e1e1e"/>
<rect x="188.65" y="49.60" width="0.92" height="4.80" fill="#cf6cb2"/>
<rect x="189.95" y="49.60" width="0.92" height="4.80" fill="#cf6cb2"/>
<rect x="191.25" y="49.60" width="0.92" height="4.80" fill="#6cc0ec"/>
<rect x="192.55" y="49.60" width="0.92" height="4.80" fill="#6cc0ec"/>
<rect x="195.15" y="49.60" width="0.92" height="4.80" fill="#1e1e1e"/>
<rect x="196.45" y="49.60" width="0.92" height="4.80" fill="#404040"/>
<rect x="197.75" y="49.60" width="0.92" height="4.80" fill="#1e1e1e"/>
<rect x="199.05" y="49.60" width="0.92" height="4.80" fill="#404040"/>
<rect x="200.35" y="49.60" width="0.92" height="4.80" fill="#cf6cb2"/>
<rect x="201.65" y="49.60" width="0.92" height="4.80" fill="#1e1e1e"/>
<rect x="202.95" y="49.60" width="0.92" height="4.80" fill="#404040"/>
<rect x="204.25" y="49.60" width="0.92" height="4.80" fill="#1e1e1e"/>
<rect x="206.85" y="49.60" width="0.92" height="4.80" fill="#cf6cb2"/>
<rect x="208.15" y="49.60" width="0.92" height="4.80" fill="#cf6cb2"/>
<rect x="209.45" y="49.60" width="0.92" height="4.80" fill="#1e1e1e"/>
<rect x="210.75" y="49.60" width="0.92" height="4.80" fill="#404040"/>
<rect x="212.05" y="49.60" width="0.92" height="4.80" fill="#1e1e1e"/>
<rect x="213.35" y="49.60" width="0.92" height="4.80" fill="#404040"/>
<rect x="214.65" y="49.60" width="0.92" height="4.80" fill="#1e1e1e"/>
<rect x="215.95" y="49.60" width="0.92" height="4.80" fill="#404040"/>
<rect x="217.25" y="49.60" width="0.92" height="4.80" fill="#1e1e1e"/>
<rect x="218.55" y="49.60" width="0.92" height="4.80" fill="#404040"/>
<rect x="219.85" y="49.60" width="0.92" height="4.80" fill="#1e1e1e"/>
<rect x="222.45" y="49.60" width="0.92" height="4.80" fill="#cf6cb2"/>
<rect x="223.75" y="49.60" width="0.92" height="4.80" fill="#cf6cb2"/>
<rect x="225.05" y="49.60" width="0.92" height="4.80" fill="#1e1e1e"/>
<rect x="227.65" y="49.60" width="0.92" height="4.80" fill="#cf6cb2"/>
<rect x="245.85" y="49.60" width="0.92" height="4.80" fill="#1e1e1e"/>
<rect x="249.75" y="49.60" width="0.92" height="4.80" fill="#1e1e1e"/>
<rect x="251.05" y="49.60" width="0.92" height="4.80" fill="#cf6cb2"/>
<rect x="258.85" y="49.60" width="0.92" height="4.80" fill="#cf6cb2"/>
<rect x="329.05" y="49.60" width="0.92" height="4.80" fill="#cf6cb2"/>
<rect x="330.35" y="49.60" width="0.92" height="4.80" fill="#cf6cb2"/>
<rect x="331.65" y="49.60" width="0.92" height="4.80" fill="#cf6cb2"/>
<rect x="332.95" y="49.60" width="0.92" height="4.80" fill="#cf6cb2"/>
<rect x="334.25" y="49.60" width="0.92" height="4.80" fill="#cf6cb2"/>
<rect x="339.45" y="49.60" width="0.92" height="4.80" fill="#d9bfe0"/>
<rect x="340.75" y="49.60" width="0.92" height="4.80" fill="#1e1e1e"/>
<rect x="342.05" y="49.60" width="0.92" height="4.80" fill="#1e1e1e"/>
<rect x="501.95" y="49.60" width="0.92" height="4.80" fill="#1e1e1e"/>
<rect x="83.35" y="58.90" width="0.92" height="4.80" fill="#1e1e1e"/>
<rect x="85.95" y="58.90" width="0.92" height="4.80" fill="#404040"/>
<rect x="87.25" y="58.90" width="0.92" height="4.80" fill="#d9bfe0"/>
<rect x="93.75" y="58.90" width="0.92" height="4.80" fill="#cf6cb2"/>
<rect x="95.05" y="58.90" width="0.92" height="4.80" fill="#cf6cb2"/>
<rect x="101.55" y="58.90" width="0.92" height="4.80" fill="#1e1e1e"/>
<rect x="105.40" y="56.77" width="1.18" height="9.05" fill="#e6a834"/>
<rect x="111.95" y="58.90" width="0.92" height="4.80" fill="#cf6cb2"/>
<rect x="114.55" y="58.90" width="0.92" height="4.80" fill="#1e1e1e"/>
<rect x="117.15" y="58.90" width="0.92" height="4.80" fill="#6cc0ec"/>
<rect x="140.55" y="58.90" width="0.92" height="4.80" fill="#1e1e1e"/>
<rect x="143.10" y="56.77" width="1.18" height="9.05" fill="#e6a834"/>
<rect x="147.00" y="56.77" width="1.18" height="9.05" fill="#7c6c4e"/>
<rect x="148.30" y="56.77" width="1.18" height="9.05" fill="#7c6c4e"/>
<rect x="152.25" y="58.90" width="0.92" height="4.80" fill="#d9bfe0"/>
<rect x="154.85" y="58.90" width="0.92" height="4.80" fill="#d9bfe0"/>
<rect x="170.45" y="58.90" width="0.92" height="4.80" fill="#cf6cb2"/>
<rect x="171.70" y="56.77" width="1.18" height="9.05" fill="#4a86f0"/>
<rect x="175.60" y="56.77" width="1.18" height="9.05" fill="#2f7f46"/>
<rect x="189.95" y="58.90" width="0.92" height="4.80" fill="#6cc0ec"/>
<rect x="191.25" y="58.90" width="0.92" height="4.80" fill="#d9bfe0"/>
<rect x="193.85" y="58.90" width="0.92" height="4.80" fill="#cf6cb2"/>
<rect x="195.15" y="58.90" width="0.92" height="4.80" fill="#1e1e1e"/>
<rect x="196.40" y="56.77" width="1.18" height="9.05" fill="#ee2a24"/>
<rect x="223.75" y="58.90" width="0.92" height="4.80" fill="#1e1e1e"/>
<rect x="234.15" y="58.90" width="0.92" height="4.80" fill="#d9bfe0"/>
<rect x="248.45" y="58.90" width="0.92" height="4.80" fill="#1e1e1e"/>
<rect x="253.65" y="58.90" width="0.92" height="4.80" fill="#cf6cb2"/>
<rect x="261.45" y="58.90" width="0.92" height="4.80" fill="#cf6cb2"/>
<rect x="262.75" y="58.90" width="0.92" height="4.80" fill="#cf6cb2"/>
<rect x="274.45" y="58.90" width="0.92" height="4.80" fill="#1e1e1e"/>
<rect x="284.85" y="58.90" width="0.92" height="4.80" fill="#cf6cb2"/>
<rect x="286.10" y="56.77" width="1.18" height="9.05" fill="#2f7f46"/>
<rect x="287.45" y="58.90" width="0.92" height="4.80" fill="#6cc0ec"/>
<rect x="290.05" y="58.90" width="0.92" height="4.80" fill="#1e1e1e"/>
<rect x="308.20" y="56.77" width="1.18" height="9.05" fill="#4a86f0"/>
<rect x="318.65" y="58.90" width="0.92" height="4.80" fill="#d9bfe0"/>
<rect x="322.55" y="58.90" width="0.92" height="4.80" fill="#cf6cb2"/>
<rect x="335.55" y="58.90" width="0.92" height="4.80" fill="#cf6cb2"/>
<rect x="336.80" y="56.77" width="1.18" height="9.05" fill="#e6a834"/>
<rect x="338.10" y="56.77" width="1.18" height="9.05" fill="#4a86f0"/>
<rect x="344.65" y="58.90" width="0.92" height="4.80" fill="#404040"/>
<rect x="352.40" y="56.77" width="1.18" height="9.05" fill="#eba48a"/>
<rect x="353.75" y="58.90" width="0.92" height="4.80" fill="#cf6cb2"/>
<rect x="356.35" y="58.90" width="0.92" height="4.80" fill="#6cc0ec"/>
<rect x="357.65" y="58.90" width="0.92" height="4.80" fill="#404040"/>
<rect x="384.90" y="56.77" width="1.18" height="9.05" fill="#e6a834"/>
<rect x="387.55" y="58.90" width="0.92" height="4.80" fill="#cf6cb2"/>
<rect x="388.85" y="58.90" width="0.92" height="4.80" fill="#cf6cb2"/>
<rect x="390.15" y="58.90" width="0.92" height="4.80" fill="#404040"/>
<rect x="400.55" y="58.90" width="0.92" height="4.80" fill="#d9bfe0"/>
<rect x="403.10" y="56.77" width="1.18" height="9.05" fill="#4a86f0"/>
<rect x="405.75" y="58.90" width="0.92" height="4.80" fill="#cf6cb2"/>
<rect x="407.05" y="58.90" width="0.92" height="4.80" fill="#cf6cb2"/>
<rect x="409.60" y="56.77" width="1.18" height="9.05" fill="#e6a834"/>
<rect x="412.25" y="58.90" width="0.92" height="4.80" fill="#d9bfe0"/>
<rect x="414.80" y="56.77" width="1.18" height="9.05" fill="#e6a834"/>
<rect x="417.40" y="56.77" width="1.18" height="9.05" fill="#2f7f46"/>
<rect x="418.75" y="58.90" width="0.92" height="4.80" fill="#d9bfe0"/>
<rect x="420.05" y="58.90" width="0.92" height="4.80" fill="#404040"/>
<rect x="422.60" y="56.77" width="1.18" height="9.05" fill="#e6a834"/>
<rect x="425.20" y="56.77" width="1.18" height="9.05" fill="#ee2a24"/>
<rect x="426.55" y="58.90" width="0.92" height="4.80" fill="#404040"/>
<rect x="427.85" y="58.90" width="0.92" height="4.80" fill="#404040"/>
<rect x="429.10" y="56.77" width="1.18" height="9.05" fill="#e6a834"/>
<rect x="430.45" y="58.90" width="0.92" height="4.80" fill="#d9bfe0"/>
<rect x="503.25" y="58.90" width="0.92" height="4.80" fill="#1e1e1e"/>
<rect x="505.80" y="56.77" width="1.18" height="9.05" fill="#ee2a24"/>
<rect x="508.45" y="58.90" width="0.92" height="4.80" fill="#cf6cb2"/>
<rect x="82.05" y="68.20" width="0.92" height="4.80" fill="#1e1e1e"/>
<rect x="83.35" y="68.20" width="0.92" height="4.80" fill="#1e1e1e"/>
<rect x="84.65" y="68.20" width="0.92" height="4.80" fill="#1e1e1e"/>
<rect x="113.20" y="66.07" width="1.18" height="9.05" fill="#2f7f46"/>
<rect x="113.25" y="68.20" width="0.92" height="4.80" fill="#6cc0ec"/>
<rect x="128.85" y="68.20" width="0.92" height="4.80" fill="#d9bfe0"/>
<rect x="149.65" y="68.20" width="0.92" height="4.80" fill="#d9bfe0"/>
<rect x="160.05" y="68.20" width="0.92" height="4.80" fill="#d9bfe0"/>
<rect x="165.25" y="68.20" width="0.92" height="4.80" fill="#1e1e1e"/>
<rect x="166.55" y="68.20" width="0.92" height="4.80" fill="#1e1e1e"/>
<rect x="167.85" y="68.20" width="0.92" height="4.80" fill="#cf6cb2"/>
<rect x="171.75" y="68.20" width="0.92" height="4.80" fill="#1e1e1e"/>
<rect x="175.60" y="66.07" width="1.18" height="9.05" fill="#7c6c4e"/>
<rect x="176.95" y="68.20" width="0.92" height="4.80" fill="#d9bfe0"/>
<rect x="182.15" y="68.20" width="0.92" height="4.80" fill="#6cc0ec"/>
<rect x="197.75" y="68.20" width="0.92" height="4.80" fill="#1e1e1e"/>
<rect x="200.35" y="68.20" width="0.92" height="4.80" fill="#d9bfe0"/>
<rect x="206.85" y="68.20" width="0.92" height="4.80" fill="#1e1e1e"/>
<rect x="222.45" y="68.20" width="0.92" height="4.80" fill="#1e1e1e"/>
<rect x="227.65" y="68.20" width="0.92" height="4.80" fill="#cf6cb2"/>
<rect x="232.85" y="68.20" width="0.92" height="4.80" fill="#6cc0ec"/>
<rect x="239.35" y="68.20" width="0.92" height="4.80" fill="#6cc0ec"/>
<rect x="247.15" y="68.20" width="0.92" height="4.80" fill="#cf6cb2"/>
<rect x="257.55" y="68.20" width="0.92" height="4.80" fill="#1e1e1e"/>
<rect x="274.45" y="68.20" width="0.92" height="4.80" fill="#d9bfe0"/>
<rect x="277.05" y="68.20" width="0.92" height="4.80" fill="#6cc0ec"/>
<rect x="284.85" y="68.20" width="0.92" height="4.80" fill="#404040"/>
<rect x="295.25" y="68.20" width="0.92" height="4.80" fill="#cf6cb2"/>
<rect x="309.55" y="68.20" width="0.92" height="4.80" fill="#1e1e1e"/>
<rect x="313.45" y="68.20" width="0.92" height="4.80" fill="#6cc0ec"/>
<rect x="323.85" y="68.20" width="0.92" height="4.80" fill="#1e1e1e"/>
<rect x="343.35" y="68.20" width="0.92" height="4.80" fill="#1e1e1e"/>
<rect x="345.95" y="68.20" width="0.92" height="4.80" fill="#1e1e1e"/>
<rect x="353.75" y="68.20" width="0.92" height="4.80" fill="#6cc0ec"/>
<rect x="355.05" y="68.20" width="0.92" height="4.80" fill="#1e1e1e"/>
<rect x="360.20" y="66.07" width="1.18" height="9.05" fill="#2f7f46"/>
<rect x="361.55" y="68.20" width="0.92" height="4.80" fill="#1e1e1e"/>
<rect x="362.85" y="68.20" width="0.92" height="4.80" fill="#cf6cb2"/>
<rect x="364.15" y="68.20" width="0.92" height="4.80" fill="#1e1e1e"/>
<rect x="369.35" y="68.20" width="0.92" height="4.80" fill="#cf6cb2"/>
<rect x="391.45" y="68.20" width="0.92" height="4.80" fill="#1e1e1e"/>
<rect x="392.75" y="68.20" width="0.92" height="4.80" fill="#404040"/>
<rect x="395.35" y="68.20" width="0.92" height="4.80" fill="#6cc0ec"/>
<rect x="399.25" y="68.20" width="0.92" height="4.80" fill="#1e1e1e"/>
<rect x="400.55" y="68.20" width="0.92" height="4.80" fill="#cf6cb2"/>
<rect x="413.50" y="66.07" width="1.18" height="9.05" fill="#2f7f46"/>
<rect x="417.45" y="68.20" width="0.92" height="4.80" fill="#1e1e1e"/>
<rect x="418.75" y="68.20" width="0.92" height="4.80" fill="#6cc0ec"/>
<rect x="420.05" y="68.20" width="0.92" height="4.80" fill="#cf6cb2"/>
<rect x="421.35" y="68.20" width="0.92" height="4.80" fill="#6cc0ec"/>
<rect x="423.95" y="68.20" width="0.92" height="4.80" fill="#1e1e1e"/>
<rect x="431.75" y="68.20" width="0.92" height="4.80" fill="#1e1e1e"/>
<rect x="436.95" y="68.20" width="0.92" height="4.80" fill="#d9bfe0"/>
<rect x="446.05" y="68.20" width="0.92" height="4.80" fill="#d9bfe0"/>
<rect x="451.25" y="68.20" width="0.92" height="4.80" fill="#1e1e1e"/>
<rect x="452.55" y="68.20" width="0.92" height="4.80" fill="#cf6cb2"/>
<rect x="455.15" y="68.20" width="0.92" height="4.80" fill="#1e1e1e"/>
<rect x="456.45" y="68.20" width="0.92" height="4.80" fill="#cf6cb2"/>
<rect x="457.75" y="68.20" width="0.92" height="4.80" fill="#1e1e1e"/>
<rect x="460.35" y="68.20" width="0.92" height="4.80" fill="#1e1e1e"/>
<rect x="464.25" y="68.20" width="0.92" height="4.80" fill="#1e1e1e"/>
<rect x="503.25" y="68.20" width="0.92" height="4.80" fill="#1e1e1e"/>
<rect x="504.55" y="68.20" width="0.92" height="4.80" fill="#cf6cb2"/>
<rect x="85.90" y="75.38" width="1.18" height="9.05" fill="#e6a834"/>
<rect x="91.15" y="77.50" width="0.92" height="4.80" fill="#d9bfe0"/>
<rect x="96.30" y="75.38" width="1.18" height="9.05" fill="#ee2a24"/>
<rect x="101.55" y="77.50" width="0.92" height="4.80" fill="#6cc0ec"/>
<rect x="118.45" y="77.50" width="0.92" height="4.80" fill="#d9bfe0"/>
<rect x="140.55" y="77.50" width="0.92" height="4.80" fill="#d9bfe0"/>
<rect x="148.35" y="77.50" width="0.92" height="4.80" fill="#1e1e1e"/>
<rect x="154.85" y="77.50" width="0.92" height="4.80" fill="#d9bfe0"/>
<rect x="163.95" y="77.50" width="0.92" height="4.80" fill="#6cc0ec"/>
<rect x="173.05" y="77.50" width="0.92" height="4.80" fill="#cf6cb2"/>
<rect x="183.45" y="77.50" width="0.92" height="4.80" fill="#1e1e1e"/>
<rect x="187.30" y="75.38" width="1.18" height="9.05" fill="#2f7f46"/>
<rect x="188.65" y="77.50" width="0.92" height="4.80" fill="#cf6cb2"/>
<rect x="192.50" y="75.38" width="1.18" height="9.05" fill="#e6a834"/>
<rect x="195.15" y="77.50" width="0.92" height="4.80" fill="#d9bfe0"/>
<rect x="205.50" y="75.38" width="1.18" height="9.05" fill="#4a86f0"/>
<rect x="208.15" y="77.50" width="0.92" height="4.80" fill="#1e1e1e"/>
<rect x="236.75" y="77.50" width="0.92" height="4.80" fill="#1e1e1e"/>
<rect x="240.65" y="77.50" width="0.92" height="4.80" fill="#6cc0ec"/>
<rect x="248.45" y="77.50" width="0.92" height="4.80" fill="#1e1e1e"/>
<rect x="251.05" y="77.50" width="0.92" height="4.80" fill="#1e1e1e"/>
<rect x="264.05" y="77.50" width="0.92" height="4.80" fill="#6cc0ec"/>
<rect x="270.50" y="75.38" width="1.18" height="9.05" fill="#ee2a24"/>
<rect x="279.65" y="77.50" width="0.92" height="4.80" fill="#cf6cb2"/>
<rect x="284.85" y="77.50" width="0.92" height="4.80" fill="#6cc0ec"/>
<rect x="287.45" y="77.50" width="0.92" height="4.80" fill="#6cc0ec"/>
<rect x="291.35" y="77.50" width="0.92" height="4.80" fill="#cf6cb2"/>
<rect x="293.95" y="77.50" width="0.92" height="4.80" fill="#1e1e1e"/>
<rect x="309.55" y="77.50" width="0.92" height="4.80" fill="#d9bfe0"/>
<rect x="313.45" y="77.50" width="0.92" height="4.80" fill="#cf6cb2"/>
<rect x="318.60" y="75.38" width="1.18" height="9.05" fill="#4a86f0"/>
<rect x="321.25" y="77.50" width="0.92" height="4.80" fill="#d9bfe0"/>
<rect x="323.80" y="75.38" width="1.18" height="9.05" fill="#2f7f46"/>
<rect x="325.15" y="77.50" width="0.92" height="4.80" fill="#d9bfe0"/>
<rect x="329.05" y="77.50" width="0.92" height="4.80" fill="#d9bfe0"/>
<rect x="330.35" y="77.50" width="0.92" height="4.80" fill="#1e1e1e"/>
<rect x="347.25" y="77.50" width="0.92" height="4.80" fill="#6cc0ec"/>
<rect x="352.45" y="77.50" width="0.92" height="4.80" fill="#d9bfe0"/>
<rect x="361.55" y="77.50" width="0.92" height="4.80" fill="#d9bfe0"/>
<rect x="369.35" y="77.50" width="0.92" height="4.80" fill="#cf6cb2"/>
<rect x="370.65" y="77.50" width="0.92" height="4.80" fill="#cf6cb2"/>
<rect x="386.25" y="77.50" width="0.92" height="4.80" fill="#d9bfe0"/>
<rect x="391.45" y="77.50" width="0.92" height="4.80" fill="#d9bfe0"/>
<rect x="395.35" y="77.50" width="0.92" height="4.80" fill="#d9bfe0"/>
<rect x="396.65" y="77.50" width="0.92" height="4.80" fill="#6cc0ec"/>
<rect x="399.25" y="77.50" width="0.92" height="4.80" fill="#d9bfe0"/>
<rect x="404.45" y="77.50" width="0.92" height="4.80" fill="#cf6cb2"/>
<rect x="410.95" y="77.50" width="0.92" height="4.80" fill="#d9bfe0"/>
<rect x="412.20" y="75.38" width="1.18" height="9.05" fill="#1e1e1e"/>
<rect x="417.45" y="77.50" width="0.92" height="4.80" fill="#d9bfe0"/>
<rect x="425.25" y="77.50" width="0.92" height="4.80" fill="#cf6cb2"/>
<rect x="433.05" y="77.50" width="0.92" height="4.80" fill="#d9bfe0"/>
<rect x="447.35" y="77.50" width="0.92" height="4.80" fill="#d9bfe0"/>
<rect x="448.65" y="77.50" width="0.92" height="4.80" fill="#1e1e1e"/>
<rect x="452.55" y="77.50" width="0.92" height="4.80" fill="#cf6cb2"/>
<rect x="453.85" y="77.50" width="0.92" height="4.80" fill="#cf6cb2"/>
<rect x="465.55" y="77.50" width="0.92" height="4.80" fill="#1e1e1e"/>
<rect x="468.15" y="77.50" width="0.92" height="4.80" fill="#d9bfe0"/>
<rect x="469.45" y="77.50" width="0.92" height="4.80" fill="#d9bfe0"/>
<rect x="503.25" y="77.50" width="0.92" height="4.80" fill="#d9bfe0"/>
<rect x="507.15" y="77.50" width="0.92" height="4.80" fill="#d9bfe0"/>
<rect x="83.35" y="86.80" width="0.92" height="4.80" fill="#404040"/>
<rect x="87.25" y="86.80" width="0.92" height="4.80" fill="#1e1e1e"/>
<rect x="93.70" y="84.67" width="1.18" height="9.05" fill="#4a86f0"/>
<rect x="100.25" y="86.80" width="0.92" height="4.80" fill="#1e1e1e"/>
<rect x="101.55" y="86.80" width="0.92" height="4.80" fill="#1e1e1e"/>
<rect x="105.40" y="84.67" width="1.18" height="9.05" fill="#4a86f0"/>
<rect x="113.20" y="84.67" width="1.18" height="9.05" fill="#2f7f46"/>
<rect x="113.25" y="86.80" width="0.92" height="4.80" fill="#6cc0ec"/>
<rect x="114.55" y="86.80" width="0.92" height="4.80" fill="#1e1e1e"/>
<rect x="117.15" y="86.80" width="0.92" height="4.80" fill="#404040"/>
<rect x="122.30" y="84.67" width="1.18" height="9.05" fill="#2f7f46"/>
<rect x="139.20" y="84.67" width="1.18" height="9.05" fill="#2f7f46"/>
<rect x="139.25" y="86.80" width="0.92" height="4.80" fill="#1e1e1e"/>
<rect x="152.25" y="86.80" width="0.92" height="4.80" fill="#d9bfe0"/>
<rect x="170.45" y="86.80" width="0.92" height="4.80" fill="#404040"/>
<rect x="174.30" y="84.67" width="1.18" height="9.05" fill="#e6a834"/>
<rect x="187.35" y="86.80" width="0.92" height="4.80" fill="#cf6cb2"/>
<rect x="193.85" y="86.80" width="0.92" height="4.80" fill="#404040"/>
<rect x="223.75" y="86.80" width="0.92" height="4.80" fill="#404040"/>
<rect x="235.45" y="86.80" width="0.92" height="4.80" fill="#404040"/>
<rect x="236.70" y="84.67" width="1.18" height="9.05" fill="#1e1e1e"/>
<rect x="248.45" y="86.80" width="0.92" height="4.80" fill="#1e1e1e"/>
<rect x="253.65" y="86.80" width="0.92" height="4.80" fill="#1e1e1e"/>
<rect x="262.75" y="86.80" width="0.92" height="4.80" fill="#404040"/>
<rect x="286.15" y="86.80" width="0.92" height="4.80" fill="#1e1e1e"/>
<rect x="287.45" y="86.80" width="0.92" height="4.80" fill="#1e1e1e"/>
<rect x="288.75" y="86.80" width="0.92" height="4.80" fill="#6cc0ec"/>
<rect x="291.35" y="86.80" width="0.92" height="4.80" fill="#6cc0ec"/>
<rect x="301.75" y="86.80" width="0.92" height="4.80" fill="#cf6cb2"/>
<rect x="313.40" y="84.67" width="1.18" height="9.05" fill="#ee2a24"/>
<rect x="338.15" y="86.80" width="0.92" height="4.80" fill="#6cc0ec"/>
<rect x="339.40" y="84.67" width="1.18" height="9.05" fill="#2f7f46"/>
<rect x="345.90" y="84.67" width="1.18" height="9.05" fill="#7c6c4e"/>
<rect x="352.45" y="86.80" width="0.92" height="4.80" fill="#cf6cb2"/>
<rect x="373.25" y="86.80" width="0.92" height="4.80" fill="#d9bfe0"/>
<rect x="374.50" y="84.67" width="1.18" height="9.05" fill="#4a86f0"/>
<rect x="384.95" y="86.80" width="0.92" height="4.80" fill="#cf6cb2"/>
<rect x="388.80" y="84.67" width="1.18" height="9.05" fill="#e6a834"/>
<rect x="388.85" y="86.80" width="0.92" height="4.80" fill="#cf6cb2"/>
<rect x="401.80" y="84.67" width="1.18" height="9.05" fill="#4a86f0"/>
<rect x="413.55" y="86.80" width="0.92" height="4.80" fill="#1e1e1e"/>
<rect x="418.75" y="86.80" width="0.92" height="4.80" fill="#6cc0ec"/>
<rect x="425.20" y="84.67" width="1.18" height="9.05" fill="#4a86f0"/>
<rect x="427.85" y="86.80" width="0.92" height="4.80" fill="#6cc0ec"/>
<rect x="436.90" y="84.67" width="1.18" height="9.05" fill="#4a86f0"/>
<rect x="438.25" y="86.80" width="0.92" height="4.80" fill="#cf6cb2"/>
<rect x="447.30" y="84.67" width="1.18" height="9.05" fill="#2f7f46"/>
<rect x="451.20" y="84.67" width="1.18" height="9.05" fill="#e6a834"/>
<rect x="470.75" y="86.80" width="0.92" height="4.80" fill="#404040"/>
<rect x="472.05" y="86.80" width="0.92" height="4.80" fill="#404040"/>
<rect x="474.65" y="86.80" width="0.92" height="4.80" fill="#6cc0ec"/>
<rect x="475.90" y="84.67" width="1.18" height="9.05" fill="#4a86f0"/>
<rect x="477.20" y="84.67" width="1.18" height="9.05" fill="#2f7f46"/>
<rect x="503.25" y="86.80" width="0.92" height="4.80" fill="#404040"/>
<rect x="508.45" y="86.80" width="0.92" height="4.80" fill="#6cc0ec"/>
<rect x="509.75" y="86.80" width="0.92" height="4.80" fill="#1e1e1e"/>
<rect x="83.35" y="96.10" width="0.92" height="4.80" fill="#404040"/>
<rect x="87.25" y="96.10" width="0.92" height="4.80" fill="#1e1e1e"/>
<rect x="92.40" y="93.97" width="1.18" height="9.05" fill="#e6a834"/>
<rect x="101.55" y="96.10" width="0.92" height="4.80" fill="#1e1e1e"/>
<rect x="113.20" y="93.97" width="1.18" height="9.05" fill="#2f7f46"/>
<rect x="114.55" y="96.10" width="0.92" height="4.80" fill="#1e1e1e"/>
<rect x="117.15" y="96.10" width="0.92" height="4.80" fill="#404040"/>
<rect x="121.05" y="96.10" width="0.92" height="4.80" fill="#404040"/>
<rect x="122.35" y="96.10" width="0.92" height="4.80" fill="#404040"/>
<rect x="123.65" y="96.10" width="0.92" height="4.80" fill="#6cc0ec"/>
<rect x="139.25" y="96.10" width="0.92" height="4.80" fill="#1e1e1e"/>
<rect x="144.40" y="93.97" width="1.18" height="9.05" fill="#2f7f46"/>
<rect x="152.25" y="96.10" width="0.92" height="4.80" fill="#cf6cb2"/>
<rect x="153.50" y="93.97" width="1.18" height="9.05" fill="#4a86f0"/>
<rect x="167.85" y="96.10" width="0.92" height="4.80" fill="#cf6cb2"/>
<rect x="173.05" y="96.10" width="0.92" height="4.80" fill="#cf6cb2"/>
<rect x="183.40" y="93.97" width="1.18" height="9.05" fill="#2f7f46"/>
<rect x="193.85" y="96.10" width="0.92" height="4.80" fill="#404040"/>
<rect x="202.90" y="93.97" width="1.18" height="9.05" fill="#1e1e1e"/>
<rect x="206.80" y="93.97" width="1.18" height="9.05" fill="#1e1e1e"/>
<rect x="208.10" y="93.97" width="1.18" height="9.05" fill="#1e1e1e"/>
<rect x="222.40" y="93.97" width="1.18" height="9.05" fill="#4a86f0"/>
<rect x="222.45" y="96.10" width="0.92" height="4.80" fill="#cf6cb2"/>
<rect x="223.75" y="96.10" width="0.92" height="4.80" fill="#404040"/>
<rect x="227.60" y="93.97" width="1.18" height="9.05" fill="#7c6c4e"/>
<rect x="228.90" y="93.97" width="1.18" height="9.05" fill="#2f7f46"/>
<rect x="235.45" y="96.10" width="0.92" height="4.80" fill="#404040"/>
<rect x="248.45" y="96.10" width="0.92" height="4.80" fill="#404040"/>
<rect x="253.65" y="96.10" width="0.92" height="4.80" fill="#1e1e1e"/>
<rect x="254.90" y="93.97" width="1.18" height="9.05" fill="#e6a834"/>
<rect x="262.75" y="96.10" width="0.92" height="4.80" fill="#404040"/>
<rect x="278.30" y="93.97" width="1.18" height="9.05" fill="#eba48a"/>
<rect x="286.15" y="96.10" width="0.92" height="4.80" fill="#1e1e1e"/>
<rect x="288.75" y="96.10" width="0.92" height="4.80" fill="#6cc0ec"/>
<rect x="291.30" y="93.97" width="1.18" height="9.05" fill="#ee2a24"/>
<rect x="309.50" y="93.97" width="1.18" height="9.05" fill="#2f7f46"/>
<rect x="329.00" y="93.97" width="1.18" height="9.05" fill="#ee2a24"/>
<rect x="329.05" y="96.10" width="0.92" height="4.80" fill="#d9bfe0"/>
<rect x="338.15" y="96.10" width="0.92" height="4.80" fill="#6cc0ec"/>
<rect x="352.45" y="96.10" width="0.92" height="4.80" fill="#cf6cb2"/>
<rect x="371.95" y="96.10" width="0.92" height="4.80" fill="#d9bfe0"/>
<rect x="375.80" y="93.97" width="1.18" height="9.05" fill="#2f7f46"/>
<rect x="384.95" y="96.10" width="0.92" height="4.80" fill="#cf6cb2"/>
<rect x="388.85" y="96.10" width="0.92" height="4.80" fill="#1e1e1e"/>
<rect x="413.55" y="96.10" width="0.92" height="4.80" fill="#1e1e1e"/>
<rect x="418.75" y="96.10" width="0.92" height="4.80" fill="#6cc0ec"/>
<rect x="427.85" y="96.10" width="0.92" height="4.80" fill="#6cc0ec"/>
<rect x="438.25" y="96.10" width="0.92" height="4.80" fill="#cf6cb2"/>
<rect x="456.45" y="96.10" width="0.92" height="4.80" fill="#cf6cb2"/>
<rect x="473.35" y="96.10" width="0.92" height="4.80" fill="#cf6cb2"/>
<rect x="474.65" y="96.10" width="0.92" height="4.80" fill="#6cc0ec"/>
<rect x="501.90" y="93.97" width="1.18" height="9.05" fill="#4a86f0"/>
<rect x="503.25" y="96.10" width="0.92" height="4.80" fill="#1e1e1e"/>
<rect x="508.45" y="96.10" width="0.92" height="4.80" fill="#cf6cb2"/>
<rect x="83.35" y="105.40" width="0.92" height="4.80" fill="#6cc0ec"/>
<rect x="87.25" y="105.40" width="0.92" height="4.80" fill="#6cc0ec"/>
<rect x="98.95" y="105.40" width="0.92" height="4.80" fill="#1e1e1e"/>
<rect x="102.85" y="105.40" width="0.92" height="4.80" fill="#6cc0ec"/>
<rect x="109.35" y="105.40" width="0.92" height="4.80" fill="#cf6cb2"/>
<rect x="119.70" y="103.28" width="1.18" height="9.05" fill="#2f7f46"/>
<rect x="152.25" y="105.40" width="0.92" height="4.80" fill="#1e1e1e"/>
<rect x="165.25" y="105.40" width="0.92" height="4.80" fill="#6cc0ec"/>
<rect x="178.25" y="105.40" width="0.92" height="4.80" fill="#404040"/>
<rect x="179.55" y="105.40" width="0.92" height="4.80" fill="#404040"/>
<rect x="180.85" y="105.40" width="0.92" height="4.80" fill="#6cc0ec"/>
<rect x="183.45" y="105.40" width="0.92" height="4.80" fill="#1e1e1e"/>
<rect x="197.75" y="105.40" width="0.92" height="4.80" fill="#d9bfe0"/>
<rect x="208.15" y="105.40" width="0.92" height="4.80" fill="#6cc0ec"/>
<rect x="209.45" y="105.40" width="0.92" height="4.80" fill="#1e1e1e"/>
<rect x="210.70" y="103.28" width="1.18" height="9.05" fill="#2f7f46"/>
<rect x="226.30" y="103.28" width="1.18" height="9.05" fill="#2f7f46"/>
<rect x="227.65" y="105.40" width="0.92" height="4.80" fill="#cf6cb2"/>
<rect x="228.95" y="105.40" width="0.92" height="4.80" fill="#1e1e1e"/>
<rect x="245.80" y="103.28" width="1.18" height="9.05" fill="#2f7f46"/>
<rect x="254.95" y="105.40" width="0.92" height="4.80" fill="#cf6cb2"/>
<rect x="256.25" y="105.40" width="0.92" height="4.80" fill="#cf6cb2"/>
<rect x="261.45" y="105.40" width="0.92" height="4.80" fill="#cf6cb2"/>
<rect x="265.30" y="103.28" width="1.18" height="9.05" fill="#2f7f46"/>
<rect x="269.25" y="105.40" width="0.92" height="4.80" fill="#d9bfe0"/>
<rect x="270.55" y="105.40" width="0.92" height="4.80" fill="#d9bfe0"/>
<rect x="274.45" y="105.40" width="0.92" height="4.80" fill="#d9bfe0"/>
<rect x="279.65" y="105.40" width="0.92" height="4.80" fill="#cf6cb2"/>
<rect x="299.15" y="105.40" width="0.92" height="4.80" fill="#6cc0ec"/>
<rect x="323.85" y="105.40" width="0.92" height="4.80" fill="#cf6cb2"/>
<rect x="325.10" y="103.28" width="1.18" height="9.05" fill="#2f7f46"/>
<rect x="345.95" y="105.40" width="0.92" height="4.80" fill="#6cc0ec"/>
<rect x="347.25" y="105.40" width="0.92" height="4.80" fill="#1e1e1e"/>
<rect x="360.25" y="105.40" width="0.92" height="4.80" fill="#1e1e1e"/>
<rect x="365.45" y="105.40" width="0.92" height="4.80" fill="#d9bfe0"/>
<rect x="369.35" y="105.40" width="0.92" height="4.80" fill="#404040"/>
<rect x="375.80" y="103.28" width="1.18" height="9.05" fill="#2f7f46"/>
<rect x="377.15" y="105.40" width="0.92" height="4.80" fill="#6cc0ec"/>
<rect x="378.45" y="105.40" width="0.92" height="4.80" fill="#d9bfe0"/>
<rect x="404.40" y="103.28" width="1.18" height="9.05" fill="#1e1e1e"/>
<rect x="412.25" y="105.40" width="0.92" height="4.80" fill="#6cc0ec"/>
<rect x="427.85" y="105.40" width="0.92" height="4.80" fill="#1e1e1e"/>
<rect x="431.75" y="105.40" width="0.92" height="4.80" fill="#6cc0ec"/>
<rect x="440.85" y="105.40" width="0.92" height="4.80" fill="#1e1e1e"/>
<rect x="442.15" y="105.40" width="0.92" height="4.80" fill="#6cc0ec"/>
<rect x="448.65" y="105.40" width="0.92" height="4.80" fill="#1e1e1e"/>
<rect x="449.95" y="105.40" width="0.92" height="4.80" fill="#1e1e1e"/>
<rect x="474.60" y="103.28" width="1.18" height="9.05" fill="#2f7f46"/>
<rect x="478.55" y="105.40" width="0.92" height="4.80" fill="#1e1e1e"/>
<rect x="479.85" y="105.40" width="0.92" height="4.80" fill="#1e1e1e"/>
<rect x="501.95" y="105.40" width="0.92" height="4.80" fill="#cf6cb2"/>
<rect x="93.75" y="114.70" width="0.92" height="4.80" fill="#404040"/>
<rect x="100.20" y="112.57" width="1.18" height="9.05" fill="#2f7f46"/>
<rect x="102.80" y="112.57" width="1.18" height="9.05" fill="#2f7f46"/>
<rect x="109.30" y="112.57" width="1.18" height="9.05" fill="#2f7f46"/>
<rect x="131.40" y="112.57" width="1.18" height="9.05" fill="#2f7f46"/>
<rect x="136.60" y="112.57" width="1.18" height="9.05" fill="#2f7f46"/>
<rect x="149.60" y="112.57" width="1.18" height="9.05" fill="#2f7f46"/>
<rect x="156.10" y="112.57" width="1.18" height="9.05" fill="#2f7f46"/>
<rect x="165.25" y="114.70" width="0.92" height="4.80" fill="#1e1e1e"/>
<rect x="170.40" y="112.57" width="1.18" height="9.05" fill="#2f7f46"/>
<rect x="171.70" y="112.57" width="1.18" height="9.05" fill="#2f7f46"/>
<rect x="179.55" y="114.70" width="0.92" height="4.80" fill="#6cc0ec"/>
<rect x="187.30" y="112.57" width="1.18" height="9.05" fill="#1e1e1e"/>
<rect x="188.60" y="112.57" width="1.18" height="9.05" fill="#2f7f46"/>
<rect x="195.15" y="114.70" width="0.92" height="4.80" fill="#d9bfe0"/>
<rect x="202.95" y="114.70" width="0.92" height="4.80" fill="#cf6cb2"/>
<rect x="209.45" y="114.70" width="0.92" height="4.80" fill="#d9bfe0"/>
<rect x="212.05" y="114.70" width="0.92" height="4.80" fill="#1e1e1e"/>
<rect x="227.65" y="114.70" width="0.92" height="4.80" fill="#6cc0ec"/>
<rect x="235.45" y="114.70" width="0.92" height="4.80" fill="#6cc0ec"/>
<rect x="238.05" y="114.70" width="0.92" height="4.80" fill="#6cc0ec"/>
<rect x="240.65" y="114.70" width="0.92" height="4.80" fill="#1e1e1e"/>
<rect x="247.10" y="112.57" width="1.18" height="9.05" fill="#2f7f46"/>
<rect x="277.05" y="114.70" width="0.92" height="4.80" fill="#cf6cb2"/>
<rect x="278.35" y="114.70" width="0.92" height="4.80" fill="#6cc0ec"/>
<rect x="291.30" y="112.57" width="1.18" height="9.05" fill="#2f7f46"/>
<rect x="304.35" y="114.70" width="0.92" height="4.80" fill="#cf6cb2"/>
<rect x="329.05" y="114.70" width="0.92" height="4.80" fill="#6cc0ec"/>
<rect x="352.40" y="112.57" width="1.18" height="9.05" fill="#2f7f46"/>
<rect x="355.05" y="114.70" width="0.92" height="4.80" fill="#d9bfe0"/>
<rect x="366.70" y="112.57" width="1.18" height="9.05" fill="#2f7f46"/>
<rect x="369.30" y="112.57" width="1.18" height="9.05" fill="#2f7f46"/>
<rect x="384.95" y="114.70" width="0.92" height="4.80" fill="#1e1e1e"/>
<rect x="388.80" y="112.57" width="1.18" height="9.05" fill="#2f7f46"/>
<rect x="388.85" y="114.70" width="0.92" height="4.80" fill="#d9bfe0"/>
<rect x="407.05" y="114.70" width="0.92" height="4.80" fill="#6cc0ec"/>
<rect x="414.80" y="112.57" width="1.18" height="9.05" fill="#2f7f46"/>
<rect x="451.20" y="112.57" width="1.18" height="9.05" fill="#2f7f46"/>
<rect x="473.35" y="114.70" width="0.92" height="4.80" fill="#cf6cb2"/>
<rect x="477.20" y="112.57" width="1.18" height="9.05" fill="#2f7f46"/>
<rect x="482.45" y="114.70" width="0.92" height="4.80" fill="#1e1e1e"/>
<rect x="483.75" y="114.70" width="0.92" height="4.80" fill="#d9bfe0"/>
<rect x="501.95" y="114.70" width="0.92" height="4.80" fill="#6cc0ec"/>
<rect x="101.55" y="124.00" width="0.92" height="4.80" fill="#6cc0ec"/>
<rect x="102.85" y="124.00" width="0.92" height="4.80" fill="#1e1e1e"/>
<rect x="110.65" y="124.00" width="0.92" height="4.80" fill="#d9bfe0"/>
<rect x="122.35" y="124.00" width="0.92" height="4.80" fill="#cf6cb2"/>
<rect x="135.35" y="124.00" width="0.92" height="4.80" fill="#1e1e1e"/>
<rect x="136.65" y="124.00" width="0.92" height="4.80" fill="#d9bfe0"/>
<rect x="139.20" y="121.88" width="1.18" height="9.05" fill="#2f7f46"/>
<rect x="171.70" y="121.88" width="1.18" height="9.05" fill="#2f7f46"/>
<rect x="173.05" y="124.00" width="0.92" height="4.80" fill="#cf6cb2"/>
<rect x="183.45" y="124.00" width="0.92" height="4.80" fill="#1e1e1e"/>
<rect x="191.25" y="124.00" width="0.92" height="4.80" fill="#d9bfe0"/>
<rect x="192.55" y="124.00" width="0.92" height="4.80" fill="#d9bfe0"/>
<rect x="193.85" y="124.00" width="0.92" height="4.80" fill="#1e1e1e"/>
<rect x="236.75" y="124.00" width="0.92" height="4.80" fill="#1e1e1e"/>
<rect x="240.65" y="124.00" width="0.92" height="4.80" fill="#1e1e1e"/>
<rect x="241.90" y="121.88" width="1.18" height="9.05" fill="#4a86f0"/>
<rect x="262.75" y="124.00" width="0.92" height="4.80" fill="#cf6cb2"/>
<rect x="266.60" y="121.88" width="1.18" height="9.05" fill="#4a86f0"/>
<rect x="277.00" y="121.88" width="1.18" height="9.05" fill="#2f7f46"/>
<rect x="286.15" y="124.00" width="0.92" height="4.80" fill="#6cc0ec"/>
<rect x="303.00" y="121.88" width="1.18" height="9.05" fill="#e6a834"/>
<rect x="321.25" y="124.00" width="0.92" height="4.80" fill="#d9bfe0"/>
<rect x="323.80" y="121.88" width="1.18" height="9.05" fill="#7c6c4e"/>
<rect x="325.10" y="121.88" width="1.18" height="9.05" fill="#e6a834"/>
<rect x="330.35" y="124.00" width="0.92" height="4.80" fill="#cf6cb2"/>
<rect x="352.40" y="121.88" width="1.18" height="9.05" fill="#4a86f0"/>
<rect x="360.20" y="121.88" width="1.18" height="9.05" fill="#1e1e1e"/>
<rect x="361.55" y="124.00" width="0.92" height="4.80" fill="#cf6cb2"/>
<rect x="364.15" y="124.00" width="0.92" height="4.80" fill="#cf6cb2"/>
<rect x="370.65" y="124.00" width="0.92" height="4.80" fill="#cf6cb2"/>
<rect x="384.90" y="121.88" width="1.18" height="9.05" fill="#2f7f46"/>
<rect x="396.65" y="124.00" width="0.92" height="4.80" fill="#6cc0ec"/>
<rect x="404.45" y="124.00" width="0.92" height="4.80" fill="#1e1e1e"/>
<rect x="410.90" y="121.88" width="1.18" height="9.05" fill="#4a86f0"/>
<rect x="414.85" y="124.00" width="0.92" height="4.80" fill="#6cc0ec"/>
<rect x="417.40" y="121.88" width="1.18" height="9.05" fill="#e6a834"/>
<rect x="448.65" y="124.00" width="0.92" height="4.80" fill="#1e1e1e"/>
<rect x="459.00" y="121.88" width="1.18" height="9.05" fill="#e6a834"/>
<rect x="465.55" y="124.00" width="0.92" height="4.80" fill="#1e1e1e"/>
<rect x="482.45" y="124.00" width="0.92" height="4.80" fill="#1e1e1e"/>
<rect x="82.05" y="140.50" width="0.95" height="4.30" fill="#3a78bf"/>
<rect x="83.35" y="140.50" width="0.95" height="4.30" fill="#3a78bf"/>
<rect x="84.65" y="140.50" width="0.95" height="4.30" fill="#3a78bf"/>
<rect x="93.75" y="140.50" width="0.95" height="4.30" fill="#3eae72"/>
<rect x="95.05" y="140.50" width="0.95" height="4.30" fill="#3a78bf"/>
<rect x="96.35" y="140.50" width="0.95" height="4.30" fill="#3a78bf"/>
<rect x="97.65" y="140.50" width="0.95" height="4.30" fill="#3eae72"/>
<rect x="98.95" y="140.50" width="0.95" height="4.30" fill="#3a78bf"/>
<rect x="100.25" y="140.50" width="0.95" height="4.30" fill="#3a78bf"/>
<rect x="102.85" y="140.50" width="0.95" height="4.30" fill="#3a78bf"/>
<rect x="104.15" y="140.50" width="0.95" height="4.30" fill="#3a78bf"/>
<rect x="105.45" y="140.50" width="0.95" height="4.30" fill="#3eae72"/>
<rect x="106.75" y="140.50" width="0.95" height="4.30" fill="#3a78bf"/>
<rect x="108.05" y="140.50" width="0.95" height="4.30" fill="#3a78bf"/>
<rect x="109.35" y="140.50" width="0.95" height="4.30" fill="#3a78bf"/>
<rect x="110.65" y="140.50" width="0.95" height="4.30" fill="#3a78bf"/>
<rect x="111.95" y="140.50" width="0.95" height="4.30" fill="#3a78bf"/>
<rect x="115.85" y="140.50" width="0.95" height="4.30" fill="#3a78bf"/>
<rect x="118.45" y="140.50" width="0.95" height="4.30" fill="#3a78bf"/>
<rect x="119.75" y="140.50" width="0.95" height="4.30" fill="#3a78bf"/>
<rect x="121.05" y="140.50" width="0.95" height="4.30" fill="#3a78bf"/>
<rect x="122.35" y="140.50" width="0.95" height="4.30" fill="#3a78bf"/>
<rect x="123.65" y="140.50" width="0.95" height="4.30" fill="#3a78bf"/>
<rect x="124.95" y="140.50" width="0.95" height="4.30" fill="#3eae72"/>
<rect x="126.25" y="140.50" width="0.95" height="4.30" fill="#3a78bf"/>
<rect x="127.55" y="140.50" width="0.95" height="4.30" fill="#3a78bf"/>
<rect x="128.85" y="140.50" width="0.95" height="4.30" fill="#3a78bf"/>
<rect x="130.15" y="140.50" width="0.95" height="4.30" fill="#3a78bf"/>
<rect x="131.45" y="140.50" width="0.95" height="4.30" fill="#3a78bf"/>
<rect x="132.75" y="140.50" width="0.95" height="4.30" fill="#3eae72"/>
<rect x="134.05" y="140.50" width="0.95" height="4.30" fill="#3a78bf"/>
<rect x="135.35" y="140.50" width="0.95" height="4.30" fill="#3a78bf"/>
<rect x="136.65" y="140.50" width="0.95" height="4.30" fill="#3a78bf"/>
<rect x="137.95" y="140.50" width="0.95" height="4.30" fill="#3a78bf"/>
<rect x="139.25" y="140.50" width="0.95" height="4.30" fill="#3a78bf"/>
<rect x="140.55" y="140.50" width="0.95" height="4.30" fill="#3eae72"/>
<rect x="141.85" y="140.50" width="0.95" height="4.30" fill="#3a78bf"/>
<rect x="143.15" y="140.50" width="0.95" height="4.30" fill="#3a78bf"/>
<rect x="144.45" y="140.50" width="0.95" height="4.30" fill="#3a78bf"/>
<rect x="145.75" y="140.50" width="0.95" height="4.30" fill="#3a78bf"/>
<rect x="147.05" y="140.50" width="0.95" height="4.30" fill="#3a78bf"/>
<rect x="148.35" y="140.50" width="0.95" height="4.30" fill="#3a78bf"/>
<rect x="149.65" y="140.50" width="0.95" height="4.30" fill="#3eae72"/>
<rect x="150.95" y="140.50" width="0.95" height="4.30" fill="#3a78bf"/>
<rect x="152.25" y="140.50" width="0.95" height="4.30" fill="#3a78bf"/>
<rect x="153.55" y="140.50" width="0.95" height="4.30" fill="#3a78bf"/>
<rect x="154.85" y="140.50" width="0.95" height="4.30" fill="#3a78bf"/>
<rect x="156.15" y="140.50" width="0.95" height="4.30" fill="#3a78bf"/>
<rect x="157.45" y="140.50" width="0.95" height="4.30" fill="#3a78bf"/>
<rect x="158.75" y="140.50" width="0.95" height="4.30" fill="#3a78bf"/>
<rect x="162.65" y="140.50" width="0.95" height="4.30" fill="#3a78bf"/>
<rect x="245.85" y="140.50" width="0.95" height="4.30" fill="#3a78bf"/>
<rect x="247.15" y="140.50" width="0.95" height="4.30" fill="#3a78bf"/>
<rect x="249.75" y="140.50" width="0.95" height="4.30" fill="#3eae72"/>
<rect x="251.05" y="140.50" width="0.95" height="4.30" fill="#3a78bf"/>
<rect x="258.85" y="140.50" width="0.95" height="4.30" fill="#3a78bf"/>
<rect x="260.15" y="140.50" width="0.95" height="4.30" fill="#3a78bf"/>
<rect x="261.45" y="140.50" width="0.95" height="4.30" fill="#3a78bf"/>
<rect x="262.75" y="140.50" width="0.95" height="4.30" fill="#3a78bf"/>
<rect x="264.05" y="140.50" width="0.95" height="4.30" fill="#3a78bf"/>
<rect x="265.35" y="140.50" width="0.95" height="4.30" fill="#3a78bf"/>
<rect x="266.65" y="140.50" width="0.95" height="4.30" fill="#3eae72"/>
<rect x="267.95" y="140.50" width="0.95" height="4.30" fill="#3eae72"/>
<rect x="269.25" y="140.50" width="0.95" height="4.30" fill="#3eae72"/>
<rect x="270.55" y="140.50" width="0.95" height="4.30" fill="#3a78bf"/>
<rect x="271.85" y="140.50" width="0.95" height="4.30" fill="#3eae72"/>
<rect x="273.15" y="140.50" width="0.95" height="4.30" fill="#3a78bf"/>
<rect x="274.45" y="140.50" width="0.95" height="4.30" fill="#3eae72"/>
<rect x="275.75" y="140.50" width="0.95" height="4.30" fill="#3a78bf"/>
<rect x="277.05" y="140.50" width="0.95" height="4.30" fill="#3eae72"/>
<rect x="278.35" y="140.50" width="0.95" height="4.30" fill="#3a78bf"/>
<rect x="279.65" y="140.50" width="0.95" height="4.30" fill="#3a78bf"/>
<rect x="280.95" y="140.50" width="0.95" height="4.30" fill="#3a78bf"/>
<rect x="282.25" y="140.50" width="0.95" height="4.30" fill="#3a78bf"/>
<rect x="283.55" y="140.50" width="0.95" height="4.30" fill="#3a78bf"/>
<rect x="284.85" y="140.50" width="0.95" height="4.30" fill="#3a78bf"/>
<rect x="286.15" y="140.50" width="0.95" height="4.30" fill="#3a78bf"/>
<rect x="287.45" y="140.50" width="0.95" height="4.30" fill="#3a78bf"/>
<rect x="288.75" y="140.50" width="0.95" height="4.30" fill="#3a78bf"/>
<rect x="290.05" y="140.50" width="0.95" height="4.30" fill="#3a78bf"/>
<rect x="291.35" y="140.50" width="0.95" height="4.30" fill="#3a78bf"/>
<rect x="292.65" y="140.50" width="0.95" height="4.30" fill="#3a78bf"/>
<rect x="293.95" y="140.50" width="0.95" height="4.30" fill="#3a78bf"/>
<rect x="295.25" y="140.50" width="0.95" height="4.30" fill="#3a78bf"/>
<rect x="296.55" y="140.50" width="0.95" height="4.30" fill="#3a78bf"/>
<rect x="297.85" y="140.50" width="0.95" height="4.30" fill="#3a78bf"/>
<rect x="299.15" y="140.50" width="0.95" height="4.30" fill="#3a78bf"/>
<rect x="300.45" y="140.50" width="0.95" height="4.30" fill="#3a78bf"/>
<rect x="301.75" y="140.50" width="0.95" height="4.30" fill="#3a78bf"/>
<rect x="303.05" y="140.50" width="0.95" height="4.30" fill="#3a78bf"/>
<rect x="304.35" y="140.50" width="0.95" height="4.30" fill="#3a78bf"/>
<rect x="305.65" y="140.50" width="0.95" height="4.30" fill="#3a78bf"/>
<rect x="306.95" y="140.50" width="0.95" height="4.30" fill="#3a78bf"/>
<rect x="308.25" y="140.50" width="0.95" height="4.30" fill="#3eae72"/>
<rect x="309.55" y="140.50" width="0.95" height="4.30" fill="#3a78bf"/>
<rect x="310.85" y="140.50" width="0.95" height="4.30" fill="#3eae72"/>
<rect x="312.15" y="140.50" width="0.95" height="4.30" fill="#3a78bf"/>
<rect x="313.45" y="140.50" width="0.95" height="4.30" fill="#3eae72"/>
<rect x="314.75" y="140.50" width="0.95" height="4.30" fill="#3a78bf"/>
<rect x="316.05" y="140.50" width="0.95" height="4.30" fill="#3eae72"/>
<rect x="317.35" y="140.50" width="0.95" height="4.30" fill="#3a78bf"/>
<rect x="318.65" y="140.50" width="0.95" height="4.30" fill="#3eae72"/>
<rect x="319.95" y="140.50" width="0.95" height="4.30" fill="#3a78bf"/>
<rect x="321.25" y="140.50" width="0.95" height="4.30" fill="#3eae72"/>
<rect x="322.55" y="140.50" width="0.95" height="4.30" fill="#3a78bf"/>
<rect x="323.85" y="140.50" width="0.95" height="4.30" fill="#3a78bf"/>
<rect x="325.15" y="140.50" width="0.95" height="4.30" fill="#3a78bf"/>
<rect x="326.45" y="140.50" width="0.95" height="4.30" fill="#3a78bf"/>
<rect x="327.75" y="140.50" width="0.95" height="4.30" fill="#3a78bf"/>
<rect x="503.25" y="140.50" width="0.95" height="4.30" fill="#3a78bf"/>
<rect x="82.05" y="149.85" width="0.95" height="4.30" fill="#3a78bf"/>
<rect x="84.65" y="149.85" width="0.95" height="4.30" fill="#3a78bf"/>
<rect x="93.75" y="149.85" width="0.95" height="4.30" fill="#3eae72"/>
<rect x="95.05" y="149.85" width="0.95" height="4.30" fill="#3eae72"/>
<rect x="96.35" y="149.85" width="0.95" height="4.30" fill="#3a78bf"/>
<rect x="97.65" y="149.85" width="0.95" height="4.30" fill="#3a78bf"/>
<rect x="98.95" y="149.85" width="0.95" height="4.30" fill="#3a78bf"/>
<rect x="100.25" y="149.85" width="0.95" height="4.30" fill="#3eae72"/>
<rect x="101.55" y="149.85" width="0.95" height="4.30" fill="#3a78bf"/>
<rect x="102.85" y="149.85" width="0.95" height="4.30" fill="#3a78bf"/>
<rect x="104.15" y="149.85" width="0.95" height="4.30" fill="#3a78bf"/>
<rect x="105.45" y="149.85" width="0.95" height="4.30" fill="#3a78bf"/>
<rect x="106.75" y="149.85" width="0.95" height="4.30" fill="#3a78bf"/>
<rect x="108.05" y="149.85" width="0.95" height="4.30" fill="#3eae72"/>
<rect x="109.35" y="149.85" width="0.95" height="4.30" fill="#3eae72"/>
<rect x="110.65" y="149.85" width="0.95" height="4.30" fill="#3a78bf"/>
<rect x="111.95" y="149.85" width="0.95" height="4.30" fill="#3a78bf"/>
<rect x="115.85" y="149.85" width="0.95" height="4.30" fill="#3a78bf"/>
<rect x="118.45" y="149.85" width="0.95" height="4.30" fill="#3a78bf"/>
<rect x="119.75" y="149.85" width="0.95" height="4.30" fill="#3a78bf"/>
<rect x="121.05" y="149.85" width="0.95" height="4.30" fill="#3a78bf"/>
<rect x="122.35" y="149.85" width="0.95" height="4.30" fill="#3a78bf"/>
<rect x="123.65" y="149.85" width="0.95" height="4.30" fill="#3a78bf"/>
<rect x="124.95" y="149.85" width="0.95" height="4.30" fill="#3a78bf"/>
<rect x="126.25" y="149.85" width="0.95" height="4.30" fill="#3a78bf"/>
<rect x="127.55" y="149.85" width="0.95" height="4.30" fill="#3a78bf"/>
<rect x="128.85" y="149.85" width="0.95" height="4.30" fill="#3a78bf"/>
<rect x="130.15" y="149.85" width="0.95" height="4.30" fill="#3a78bf"/>
<rect x="131.45" y="149.85" width="0.95" height="4.30" fill="#3eae72"/>
<rect x="132.75" y="149.85" width="0.95" height="4.30" fill="#3eae72"/>
<rect x="140.55" y="149.85" width="0.95" height="4.30" fill="#3a78bf"/>
<rect x="141.85" y="149.85" width="0.95" height="4.30" fill="#3a78bf"/>
<rect x="143.15" y="149.85" width="0.95" height="4.30" fill="#3a78bf"/>
<rect x="144.45" y="149.85" width="0.95" height="4.30" fill="#3a78bf"/>
<rect x="145.75" y="149.85" width="0.95" height="4.30" fill="#3a78bf"/>
<rect x="147.05" y="149.85" width="0.95" height="4.30" fill="#3a78bf"/>
<rect x="148.35" y="149.85" width="0.95" height="4.30" fill="#3a78bf"/>
<rect x="149.65" y="149.85" width="0.95" height="4.30" fill="#3a78bf"/>
<rect x="150.95" y="149.85" width="0.95" height="4.30" fill="#3a78bf"/>
<rect x="152.25" y="149.85" width="0.95" height="4.30" fill="#3a78bf"/>
<rect x="153.55" y="149.85" width="0.95" height="4.30" fill="#3a78bf"/>
<rect x="157.45" y="149.85" width="0.95" height="4.30" fill="#3a78bf"/>
<rect x="158.75" y="149.85" width="0.95" height="4.30" fill="#3a78bf"/>
<rect x="160.05" y="149.85" width="0.95" height="4.30" fill="#3eae72"/>
<rect x="161.35" y="149.85" width="0.95" height="4.30" fill="#3eae72"/>
<rect x="163.95" y="149.85" width="0.95" height="4.30" fill="#3eae72"/>
<rect x="165.25" y="149.85" width="0.95" height="4.30" fill="#3eae72"/>
<rect x="166.55" y="149.85" width="0.95" height="4.30" fill="#3eae72"/>
<rect x="167.85" y="149.85" width="0.95" height="4.30" fill="#3eae72"/>
<rect x="245.85" y="149.85" width="0.95" height="4.30" fill="#3a78bf"/>
<rect x="247.15" y="149.85" width="0.95" height="4.30" fill="#3a78bf"/>
<rect x="249.75" y="149.85" width="0.95" height="4.30" fill="#3eae72"/>
<rect x="251.05" y="149.85" width="0.95" height="4.30" fill="#3a78bf"/>
<rect x="260.15" y="149.85" width="0.95" height="4.30" fill="#3a78bf"/>
<rect x="261.45" y="149.85" width="0.95" height="4.30" fill="#3eae72"/>
<rect x="262.75" y="149.85" width="0.95" height="4.30" fill="#3a78bf"/>
<rect x="264.05" y="149.85" width="0.95" height="4.30" fill="#3eae72"/>
<rect x="265.35" y="149.85" width="0.95" height="4.30" fill="#3a78bf"/>
<rect x="266.65" y="149.85" width="0.95" height="4.30" fill="#3eae72"/>
<rect x="267.95" y="149.85" width="0.95" height="4.30" fill="#3eae72"/>
<rect x="269.25" y="149.85" width="0.95" height="4.30" fill="#3eae72"/>
<rect x="270.55" y="149.85" width="0.95" height="4.30" fill="#3eae72"/>
<rect x="271.85" y="149.85" width="0.95" height="4.30" fill="#3eae72"/>
<rect x="273.15" y="149.85" width="0.95" height="4.30" fill="#3eae72"/>
<rect x="274.45" y="149.85" width="0.95" height="4.30" fill="#3eae72"/>
<rect x="275.75" y="149.85" width="0.95" height="4.30" fill="#3eae72"/>
<rect x="277.05" y="149.85" width="0.95" height="4.30" fill="#3eae72"/>
<rect x="278.35" y="149.85" width="0.95" height="4.30" fill="#3eae72"/>
<rect x="279.65" y="149.85" width="0.95" height="4.30" fill="#3a78bf"/>
<rect x="280.95" y="149.85" width="0.95" height="4.30" fill="#3a78bf"/>
<rect x="282.25" y="149.85" width="0.95" height="4.30" fill="#3a78bf"/>
<rect x="283.55" y="149.85" width="0.95" height="4.30" fill="#3a78bf"/>
<rect x="284.85" y="149.85" width="0.95" height="4.30" fill="#3a78bf"/>
<rect x="286.15" y="149.85" width="0.95" height="4.30" fill="#3a78bf"/>
<rect x="287.45" y="149.85" width="0.95" height="4.30" fill="#3a78bf"/>
<rect x="288.75" y="149.85" width="0.95" height="4.30" fill="#3a78bf"/>
<rect x="290.05" y="149.85" width="0.95" height="4.30" fill="#3a78bf"/>
<rect x="291.35" y="149.85" width="0.95" height="4.30" fill="#3a78bf"/>
<rect x="292.65" y="149.85" width="0.95" height="4.30" fill="#3a78bf"/>
<rect x="293.95" y="149.85" width="0.95" height="4.30" fill="#3a78bf"/>
<rect x="295.25" y="149.85" width="0.95" height="4.30" fill="#3a78bf"/>
<rect x="296.55" y="149.85" width="0.95" height="4.30" fill="#3a78bf"/>
<rect x="297.85" y="149.85" width="0.95" height="4.30" fill="#3a78bf"/>
<rect x="299.15" y="149.85" width="0.95" height="4.30" fill="#3a78bf"/>
<rect x="300.45" y="149.85" width="0.95" height="4.30" fill="#3a78bf"/>
<rect x="301.75" y="149.85" width="0.95" height="4.30" fill="#3a78bf"/>
<rect x="303.05" y="149.85" width="0.95" height="4.30" fill="#3a78bf"/>
<rect x="304.35" y="149.85" width="0.95" height="4.30" fill="#3a78bf"/>
<rect x="305.65" y="149.85" width="0.95" height="4.30" fill="#3a78bf"/>
<rect x="306.95" y="149.85" width="0.95" height="4.30" fill="#3a78bf"/>
<rect x="308.25" y="149.85" width="0.95" height="4.30" fill="#3a78bf"/>
<rect x="309.55" y="149.85" width="0.95" height="4.30" fill="#3a78bf"/>
<rect x="310.85" y="149.85" width="0.95" height="4.30" fill="#3a78bf"/>
<rect x="312.15" y="149.85" width="0.95" height="4.30" fill="#3eae72"/>
<rect x="313.45" y="149.85" width="0.95" height="4.30" fill="#3eae72"/>
<rect x="314.75" y="149.85" width="0.95" height="4.30" fill="#3eae72"/>
<rect x="343.35" y="149.85" width="0.95" height="4.30" fill="#3a78bf"/>
<rect x="344.65" y="149.85" width="0.95" height="4.30" fill="#3a78bf"/>
<rect x="345.95" y="149.85" width="0.95" height="4.30" fill="#3a78bf"/>
<rect x="347.25" y="149.85" width="0.95" height="4.30" fill="#3eae72"/>
<rect x="348.55" y="149.85" width="0.95" height="4.30" fill="#3eae72"/>
<rect x="349.85" y="149.85" width="0.95" height="4.30" fill="#3eae72"/>
<rect x="503.25" y="149.85" width="0.95" height="4.30" fill="#3a78bf"/>
<rect x="82.05" y="159.20" width="0.95" height="4.30" fill="#3eae72"/>
<rect x="83.35" y="159.20" width="0.95" height="4.30" fill="#3eae72"/>
<rect x="84.65" y="159.20" width="0.95" height="4.30" fill="#3eae72"/>
<rect x="85.95" y="159.20" width="0.95" height="4.30" fill="#3eae72"/>
<rect x="93.75" y="159.20" width="0.95" height="4.30" fill="#3eae72"/>
<rect x="95.05" y="159.20" width="0.95" height="4.30" fill="#3eae72"/>
<rect x="96.35" y="159.20" width="0.95" height="4.30" fill="#3eae72"/>
<rect x="97.65" y="159.20" width="0.95" height="4.30" fill="#3eae72"/>
<rect x="98.95" y="159.20" width="0.95" height="4.30" fill="#3eae72"/>
<rect x="100.25" y="159.20" width="0.95" height="4.30" fill="#3eae72"/>
<rect x="102.85" y="159.20" width="0.95" height="4.30" fill="#3eae72"/>
<rect x="104.15" y="159.20" width="0.95" height="4.30" fill="#3eae72"/>
<rect x="105.45" y="159.20" width="0.95" height="4.30" fill="#3eae72"/>
<rect x="106.75" y="159.20" width="0.95" height="4.30" fill="#3eae72"/>
<rect x="108.05" y="159.20" width="0.95" height="4.30" fill="#3eae72"/>
<rect x="109.35" y="159.20" width="0.95" height="4.30" fill="#3eae72"/>
<rect x="110.65" y="159.20" width="0.95" height="4.30" fill="#3eae72"/>
<rect x="117.15" y="159.20" width="0.95" height="4.30" fill="#3eae72"/>
<rect x="134.05" y="159.20" width="0.95" height="4.30" fill="#3eae72"/>
<rect x="140.55" y="159.20" width="0.95" height="4.30" fill="#3eae72"/>
<rect x="141.85" y="159.20" width="0.95" height="4.30" fill="#3eae72"/>
<rect x="143.15" y="159.20" width="0.95" height="4.30" fill="#3eae72"/>
<rect x="144.45" y="159.20" width="0.95" height="4.30" fill="#3eae72"/>
<rect x="145.75" y="159.20" width="0.95" height="4.30" fill="#3eae72"/>
<rect x="147.05" y="159.20" width="0.95" height="4.30" fill="#3eae72"/>
<rect x="152.25" y="159.20" width="0.95" height="4.30" fill="#3eae72"/>
<rect x="153.55" y="159.20" width="0.95" height="4.30" fill="#3eae72"/>
<rect x="160.05" y="159.20" width="0.95" height="4.30" fill="#3eae72"/>
<rect x="161.35" y="159.20" width="0.95" height="4.30" fill="#3eae72"/>
<rect x="162.65" y="159.20" width="0.95" height="4.30" fill="#3eae72"/>
<rect x="169.15" y="159.20" width="0.95" height="4.30" fill="#3eae72"/>
<rect x="170.45" y="159.20" width="0.95" height="4.30" fill="#3eae72"/>
<rect x="171.75" y="159.20" width="0.95" height="4.30" fill="#3eae72"/>
<rect x="173.05" y="159.20" width="0.95" height="4.30" fill="#3eae72"/>
<rect x="174.35" y="159.20" width="0.95" height="4.30" fill="#3eae72"/>
<rect x="175.65" y="159.20" width="0.95" height="4.30" fill="#3eae72"/>
<rect x="176.95" y="159.20" width="0.95" height="4.30" fill="#3eae72"/>
<rect x="178.25" y="159.20" width="0.95" height="4.30" fill="#3eae72"/>
<rect x="179.55" y="159.20" width="0.95" height="4.30" fill="#3eae72"/>
<rect x="180.85" y="159.20" width="0.95" height="4.30" fill="#3eae72"/>
<rect x="182.15" y="159.20" width="0.95" height="4.30" fill="#3eae72"/>
<rect x="183.45" y="159.20" width="0.95" height="4.30" fill="#3eae72"/>
<rect x="184.75" y="159.20" width="0.95" height="4.30" fill="#3eae72"/>
<rect x="186.05" y="159.20" width="0.95" height="4.30" fill="#3eae72"/>
<rect x="226.35" y="159.20" width="0.95" height="4.30" fill="#3eae72"/>
<rect x="230.25" y="159.20" width="0.95" height="4.30" fill="#3eae72"/>
<rect x="231.55" y="159.20" width="0.95" height="4.30" fill="#3eae72"/>
<rect x="232.85" y="159.20" width="0.95" height="4.30" fill="#3eae72"/>
<rect x="245.85" y="159.20" width="0.95" height="4.30" fill="#3eae72"/>
<rect x="248.45" y="159.20" width="0.95" height="4.30" fill="#3eae72"/>
<rect x="261.45" y="159.20" width="0.95" height="4.30" fill="#3eae72"/>
<rect x="262.75" y="159.20" width="0.95" height="4.30" fill="#3eae72"/>
<rect x="264.05" y="159.20" width="0.95" height="4.30" fill="#3eae72"/>
<rect x="265.35" y="159.20" width="0.95" height="4.30" fill="#3eae72"/>
<rect x="266.65" y="159.20" width="0.95" height="4.30" fill="#3eae72"/>
<rect x="267.95" y="159.20" width="0.95" height="4.30" fill="#3eae72"/>
<rect x="269.25" y="159.20" width="0.95" height="4.30" fill="#3eae72"/>
<rect x="270.55" y="159.20" width="0.95" height="4.30" fill="#3eae72"/>
<rect x="271.85" y="159.20" width="0.95" height="4.30" fill="#3eae72"/>
<rect x="273.15" y="159.20" width="0.95" height="4.30" fill="#3eae72"/>
<rect x="274.45" y="159.20" width="0.95" height="4.30" fill="#3eae72"/>
<rect x="275.75" y="159.20" width="0.95" height="4.30" fill="#3eae72"/>
<rect x="277.05" y="159.20" width="0.95" height="4.30" fill="#3eae72"/>
<rect x="278.35" y="159.20" width="0.95" height="4.30" fill="#3eae72"/>
<rect x="279.65" y="159.20" width="0.95" height="4.30" fill="#3eae72"/>
<rect x="280.95" y="159.20" width="0.95" height="4.30" fill="#3eae72"/>
<rect x="282.25" y="159.20" width="0.95" height="4.30" fill="#3eae72"/>
<rect x="316.05" y="159.20" width="0.95" height="4.30" fill="#3eae72"/>
<rect x="317.35" y="159.20" width="0.95" height="4.30" fill="#3eae72"/>
<rect x="319.95" y="159.20" width="0.95" height="4.30" fill="#3eae72"/>
<rect x="329.05" y="159.20" width="0.95" height="4.30" fill="#3eae72"/>
<rect x="330.35" y="159.20" width="0.95" height="4.30" fill="#3eae72"/>
<rect x="331.65" y="159.20" width="0.95" height="4.30" fill="#3eae72"/>
<rect x="332.95" y="159.20" width="0.95" height="4.30" fill="#3eae72"/>
<rect x="334.25" y="159.20" width="0.95" height="4.30" fill="#3eae72"/>
<rect x="343.35" y="159.20" width="0.95" height="4.30" fill="#3eae72"/>
<rect x="351.15" y="159.20" width="0.95" height="4.30" fill="#3a78bf"/>
<rect x="352.45" y="159.20" width="0.95" height="4.30" fill="#3eae72"/>
<rect x="353.75" y="159.20" width="0.95" height="4.30" fill="#3eae72"/>
<rect x="355.05" y="159.20" width="0.95" height="4.30" fill="#3eae72"/>
<rect x="356.35" y="159.20" width="0.95" height="4.30" fill="#3eae72"/>
<rect x="357.65" y="159.20" width="0.95" height="4.30" fill="#3eae72"/>
<rect x="358.95" y="159.20" width="0.95" height="4.30" fill="#3eae72"/>
<rect x="360.25" y="159.20" width="0.95" height="4.30" fill="#3eae72"/>
<rect x="361.55" y="159.20" width="0.95" height="4.30" fill="#3eae72"/>
<rect x="362.85" y="159.20" width="0.95" height="4.30" fill="#3eae72"/>
<rect x="364.15" y="159.20" width="0.95" height="4.30" fill="#3eae72"/>
<rect x="365.45" y="159.20" width="0.95" height="4.30" fill="#3eae72"/>
<rect x="366.75" y="159.20" width="0.95" height="4.30" fill="#3eae72"/>
<rect x="368.05" y="159.20" width="0.95" height="4.30" fill="#3eae72"/>
<rect x="369.35" y="159.20" width="0.95" height="4.30" fill="#3eae72"/>
<rect x="370.65" y="159.20" width="0.95" height="4.30" fill="#3eae72"/>
<rect x="371.95" y="159.20" width="0.95" height="4.30" fill="#3eae72"/>
<rect x="373.25" y="159.20" width="0.95" height="4.30" fill="#3eae72"/>
<rect x="374.55" y="159.20" width="0.95" height="4.30" fill="#3eae72"/>
<rect x="375.85" y="159.20" width="0.95" height="4.30" fill="#3eae72"/>
<rect x="377.15" y="159.20" width="0.95" height="4.30" fill="#3eae72"/>
<rect x="378.45" y="159.20" width="0.95" height="4.30" fill="#3eae72"/>
<rect x="379.75" y="159.20" width="0.95" height="4.30" fill="#3eae72"/>
<rect x="381.05" y="159.20" width="0.95" height="4.30" fill="#3eae72"/>
<rect x="382.35" y="159.20" width="0.95" height="4.30" fill="#3eae72"/>
<rect x="383.65" y="159.20" width="0.95" height="4.30" fill="#3eae72"/>
<rect x="501.95" y="159.20" width="0.95" height="4.30" fill="#3eae72"/>
<rect x="503.25" y="159.20" width="0.95" height="4.30" fill="#3eae72"/>
<rect x="504.55" y="159.20" width="0.95" height="4.30" fill="#3eae72"/>
<rect x="82.05" y="168.55" width="0.95" height="4.30" fill="#3a78bf"/>
<rect x="84.65" y="168.55" width="0.95" height="4.30" fill="#3a78bf"/>
<rect x="93.75" y="168.55" width="0.95" height="4.30" fill="#3eae72"/>
<rect x="95.05" y="168.55" width="0.95" height="4.30" fill="#3eae72"/>
<rect x="96.35" y="168.55" width="0.95" height="4.30" fill="#3eae72"/>
<rect x="97.65" y="168.55" width="0.95" height="4.30" fill="#3a78bf"/>
<rect x="98.95" y="168.55" width="0.95" height="4.30" fill="#3eae72"/>
<rect x="100.25" y="168.55" width="0.95" height="4.30" fill="#3eae72"/>
<rect x="102.85" y="168.55" width="0.95" height="4.30" fill="#3a78bf"/>
<rect x="104.15" y="168.55" width="0.95" height="4.30" fill="#3eae72"/>
<rect x="111.95" y="168.55" width="0.95" height="4.30" fill="#3a78bf"/>
<rect x="114.55" y="168.55" width="0.95" height="4.30" fill="#3a78bf"/>
<rect x="115.85" y="168.55" width="0.95" height="4.30" fill="#3a78bf"/>
<rect x="117.15" y="168.55" width="0.95" height="4.30" fill="#3a78bf"/>
<rect x="118.45" y="168.55" width="0.95" height="4.30" fill="#3a78bf"/>
<rect x="119.75" y="168.55" width="0.95" height="4.30" fill="#3a78bf"/>
<rect x="121.05" y="168.55" width="0.95" height="4.30" fill="#3a78bf"/>
<rect x="122.35" y="168.55" width="0.95" height="4.30" fill="#3a78bf"/>
<rect x="123.65" y="168.55" width="0.95" height="4.30" fill="#3a78bf"/>
<rect x="124.95" y="168.55" width="0.95" height="4.30" fill="#3a78bf"/>
<rect x="126.25" y="168.55" width="0.95" height="4.30" fill="#3a78bf"/>
<rect x="135.35" y="168.55" width="0.95" height="4.30" fill="#3a78bf"/>
<rect x="136.65" y="168.55" width="0.95" height="4.30" fill="#3a78bf"/>
<rect x="137.95" y="168.55" width="0.95" height="4.30" fill="#3a78bf"/>
<rect x="139.25" y="168.55" width="0.95" height="4.30" fill="#3a78bf"/>
<rect x="140.55" y="168.55" width="0.95" height="4.30" fill="#3a78bf"/>
<rect x="141.85" y="168.55" width="0.95" height="4.30" fill="#3a78bf"/>
<rect x="143.15" y="168.55" width="0.95" height="4.30" fill="#3a78bf"/>
<rect x="144.45" y="168.55" width="0.95" height="4.30" fill="#3a78bf"/>
<rect x="145.75" y="168.55" width="0.95" height="4.30" fill="#3a78bf"/>
<rect x="147.05" y="168.55" width="0.95" height="4.30" fill="#3a78bf"/>
<rect x="148.35" y="168.55" width="0.95" height="4.30" fill="#3a78bf"/>
<rect x="149.65" y="168.55" width="0.95" height="4.30" fill="#3a78bf"/>
<rect x="150.95" y="168.55" width="0.95" height="4.30" fill="#3a78bf"/>
<rect x="152.25" y="168.55" width="0.95" height="4.30" fill="#3a78bf"/>
<rect x="153.55" y="168.55" width="0.95" height="4.30" fill="#3a78bf"/>
<rect x="162.65" y="168.55" width="0.95" height="4.30" fill="#3a78bf"/>
<rect x="163.95" y="168.55" width="0.95" height="4.30" fill="#3a78bf"/>
<rect x="169.15" y="168.55" width="0.95" height="4.30" fill="#3a78bf"/>
<rect x="188.65" y="168.55" width="0.95" height="4.30" fill="#3a78bf"/>
<rect x="189.95" y="168.55" width="0.95" height="4.30" fill="#3a78bf"/>
<rect x="191.25" y="168.55" width="0.95" height="4.30" fill="#3a78bf"/>
<rect x="222.45" y="168.55" width="0.95" height="4.30" fill="#3eae72"/>
<rect x="226.35" y="168.55" width="0.95" height="4.30" fill="#3a78bf"/>
<rect x="247.15" y="168.55" width="0.95" height="4.30" fill="#3a78bf"/>
<rect x="261.45" y="168.55" width="0.95" height="4.30" fill="#3a78bf"/>
<rect x="262.75" y="168.55" width="0.95" height="4.30" fill="#3a78bf"/>
<rect x="264.05" y="168.55" width="0.95" height="4.30" fill="#3a78bf"/>
<rect x="265.35" y="168.55" width="0.95" height="4.30" fill="#3a78bf"/>
<rect x="266.65" y="168.55" width="0.95" height="4.30" fill="#3eae72"/>
<rect x="267.95" y="168.55" width="0.95" height="4.30" fill="#3a78bf"/>
<rect x="269.25" y="168.55" width="0.95" height="4.30" fill="#3eae72"/>
<rect x="270.55" y="168.55" width="0.95" height="4.30" fill="#3a78bf"/>
<rect x="271.85" y="168.55" width="0.95" height="4.30" fill="#3eae72"/>
<rect x="273.15" y="168.55" width="0.95" height="4.30" fill="#3a78bf"/>
<rect x="283.55" y="168.55" width="0.95" height="4.30" fill="#3a78bf"/>
<rect x="284.85" y="168.55" width="0.95" height="4.30" fill="#3a78bf"/>
<rect x="286.15" y="168.55" width="0.95" height="4.30" fill="#3a78bf"/>
<rect x="287.45" y="168.55" width="0.95" height="4.30" fill="#3a78bf"/>
<rect x="288.75" y="168.55" width="0.95" height="4.30" fill="#3a78bf"/>
<rect x="290.05" y="168.55" width="0.95" height="4.30" fill="#3a78bf"/>
<rect x="291.35" y="168.55" width="0.95" height="4.30" fill="#3a78bf"/>
<rect x="292.65" y="168.55" width="0.95" height="4.30" fill="#3a78bf"/>
<rect x="293.95" y="168.55" width="0.95" height="4.30" fill="#3a78bf"/>
<rect x="295.25" y="168.55" width="0.95" height="4.30" fill="#3a78bf"/>
<rect x="296.55" y="168.55" width="0.95" height="4.30" fill="#3a78bf"/>
<rect x="297.85" y="168.55" width="0.95" height="4.30" fill="#3a78bf"/>
<rect x="299.15" y="168.55" width="0.95" height="4.30" fill="#3a78bf"/>
<rect x="300.45" y="168.55" width="0.95" height="4.30" fill="#3a78bf"/>
<rect x="301.75" y="168.55" width="0.95" height="4.30" fill="#3a78bf"/>
<rect x="303.05" y="168.55" width="0.95" height="4.30" fill="#3a78bf"/>
<rect x="304.35" y="168.55" width="0.95" height="4.30" fill="#3a78bf"/>
<rect x="305.65" y="168.55" width="0.95" height="4.30" fill="#3a78bf"/>
<rect x="306.95" y="168.55" width="0.95" height="4.30" fill="#3a78bf"/>
<rect x="316.05" y="168.55" width="0.95" height="4.30" fill="#3a78bf"/>
<rect x="317.35" y="168.55" width="0.95" height="4.30" fill="#3eae72"/>
<rect x="318.65" y="168.55" width="0.95" height="4.30" fill="#3a78bf"/>
<rect x="321.25" y="168.55" width="0.95" height="4.30" fill="#3a78bf"/>
<rect x="322.55" y="168.55" width="0.95" height="4.30" fill="#3a78bf"/>
<rect x="323.85" y="168.55" width="0.95" height="4.30" fill="#3a78bf"/>
<rect x="325.15" y="168.55" width="0.95" height="4.30" fill="#3a78bf"/>
<rect x="326.45" y="168.55" width="0.95" height="4.30" fill="#3a78bf"/>
<rect x="327.75" y="168.55" width="0.95" height="4.30" fill="#3a78bf"/>
<rect x="343.35" y="168.55" width="0.95" height="4.30" fill="#3a78bf"/>
<rect x="351.15" y="168.55" width="0.95" height="4.30" fill="#3a78bf"/>
<rect x="384.95" y="168.55" width="0.95" height="4.30" fill="#3a78bf"/>
<rect x="386.25" y="168.55" width="0.95" height="4.30" fill="#3a78bf"/>
<rect x="387.55" y="168.55" width="0.95" height="4.30" fill="#3a78bf"/>
<rect x="390.15" y="168.55" width="0.95" height="4.30" fill="#3a78bf"/>
<rect x="391.45" y="168.55" width="0.95" height="4.30" fill="#3a78bf"/>
<rect x="392.75" y="168.55" width="0.95" height="4.30" fill="#3a78bf"/>
<rect x="394.05" y="168.55" width="0.95" height="4.30" fill="#3a78bf"/>
<rect x="395.35" y="168.55" width="0.95" height="4.30" fill="#3a78bf"/>
<rect x="396.65" y="168.55" width="0.95" height="4.30" fill="#3a78bf"/>
<rect x="397.95" y="168.55" width="0.95" height="4.30" fill="#3a78bf"/>
<rect x="501.95" y="168.55" width="0.95" height="4.30" fill="#3a78bf"/>
<rect x="504.55" y="168.55" width="0.95" height="4.30" fill="#3a78bf"/>
<rect x="96.35" y="177.90" width="0.95" height="4.30" fill="#3a78bf"/>
<rect x="97.65" y="177.90" width="0.95" height="4.30" fill="#3eae72"/>
<rect x="106.75" y="177.90" width="0.95" height="4.30" fill="#3eae72"/>
<rect x="111.95" y="177.90" width="0.95" height="4.30" fill="#3a78bf"/>
<rect x="117.15" y="177.90" width="0.95" height="4.30" fill="#3eae72"/>
<rect x="118.45" y="177.90" width="0.95" height="4.30" fill="#3a78bf"/>
<rect x="128.85" y="177.90" width="0.95" height="4.30" fill="#3eae72"/>
<rect x="130.15" y="177.90" width="0.95" height="4.30" fill="#3a78bf"/>
<rect x="135.35" y="177.90" width="0.95" height="4.30" fill="#3a78bf"/>
<rect x="136.65" y="177.90" width="0.95" height="4.30" fill="#3a78bf"/>
<rect x="141.85" y="177.90" width="0.95" height="4.30" fill="#3eae72"/>
<rect x="144.45" y="177.90" width="0.95" height="4.30" fill="#3a78bf"/>
<rect x="148.35" y="177.90" width="0.95" height="4.30" fill="#3a78bf"/>
<rect x="153.55" y="177.90" width="0.95" height="4.30" fill="#3a78bf"/>
<rect x="154.85" y="177.90" width="0.95" height="4.30" fill="#3eae72"/>
<rect x="157.45" y="177.90" width="0.95" height="4.30" fill="#3eae72"/>
<rect x="169.15" y="177.90" width="0.95" height="4.30" fill="#3eae72"/>
<rect x="178.25" y="177.90" width="0.95" height="4.30" fill="#3eae72"/>
<rect x="187.35" y="177.90" width="0.95" height="4.30" fill="#3eae72"/>
<rect x="192.55" y="177.90" width="0.95" height="4.30" fill="#3eae72"/>
<rect x="197.75" y="177.90" width="0.95" height="4.30" fill="#3eae72"/>
<rect x="199.05" y="177.90" width="0.95" height="4.30" fill="#3eae72"/>
<rect x="200.35" y="177.90" width="0.95" height="4.30" fill="#3eae72"/>
<rect x="252.35" y="177.90" width="0.95" height="4.30" fill="#3a78bf"/>
<rect x="253.65" y="177.90" width="0.95" height="4.30" fill="#3eae72"/>
<rect x="254.95" y="177.90" width="0.95" height="4.30" fill="#3a78bf"/>
<rect x="256.25" y="177.90" width="0.95" height="4.30" fill="#3eae72"/>
<rect x="260.15" y="177.90" width="0.95" height="4.30" fill="#3eae72"/>
<rect x="265.35" y="177.90" width="0.95" height="4.30" fill="#3eae72"/>
<rect x="266.65" y="177.90" width="0.95" height="4.30" fill="#3a78bf"/>
<rect x="267.95" y="177.90" width="0.95" height="4.30" fill="#3eae72"/>
<rect x="273.15" y="177.90" width="0.95" height="4.30" fill="#3eae72"/>
<rect x="274.45" y="177.90" width="0.95" height="4.30" fill="#3eae72"/>
<rect x="277.05" y="177.90" width="0.95" height="4.30" fill="#3eae72"/>
<rect x="278.35" y="177.90" width="0.95" height="4.30" fill="#3eae72"/>
<rect x="283.55" y="177.90" width="0.95" height="4.30" fill="#3a78bf"/>
<rect x="284.85" y="177.90" width="0.95" height="4.30" fill="#3eae72"/>
<rect x="291.35" y="177.90" width="0.95" height="4.30" fill="#3a78bf"/>
<rect x="292.65" y="177.90" width="0.95" height="4.30" fill="#3a78bf"/>
<rect x="293.95" y="177.90" width="0.95" height="4.30" fill="#3a78bf"/>
<rect x="295.25" y="177.90" width="0.95" height="4.30" fill="#3a78bf"/>
<rect x="296.55" y="177.90" width="0.95" height="4.30" fill="#3a78bf"/>
<rect x="297.85" y="177.90" width="0.95" height="4.30" fill="#3a78bf"/>
<rect x="308.25" y="177.90" width="0.95" height="4.30" fill="#3a78bf"/>
<rect x="316.05" y="177.90" width="0.95" height="4.30" fill="#3a78bf"/>
<rect x="321.25" y="177.90" width="0.95" height="4.30" fill="#3a78bf"/>
<rect x="322.55" y="177.90" width="0.95" height="4.30" fill="#3eae72"/>
<rect x="323.85" y="177.90" width="0.95" height="4.30" fill="#3a78bf"/>
<rect x="325.15" y="177.90" width="0.95" height="4.30" fill="#3eae72"/>
<rect x="329.05" y="177.90" width="0.95" height="4.30" fill="#3eae72"/>
<rect x="330.35" y="177.90" width="0.95" height="4.30" fill="#3eae72"/>
<rect x="336.85" y="177.90" width="0.95" height="4.30" fill="#3a78bf"/>
<rect x="343.35" y="177.90" width="0.95" height="4.30" fill="#3a78bf"/>
<rect x="345.95" y="177.90" width="0.95" height="4.30" fill="#3a78bf"/>
<rect x="351.15" y="177.90" width="0.95" height="4.30" fill="#3a78bf"/>
<rect x="352.45" y="177.90" width="0.95" height="4.30" fill="#3a78bf"/>
<rect x="358.95" y="177.90" width="0.95" height="4.30" fill="#3a78bf"/>
<rect x="384.95" y="177.90" width="0.95" height="4.30" fill="#3a78bf"/>
<rect x="386.25" y="177.90" width="0.95" height="4.30" fill="#3a78bf"/>
<rect x="387.55" y="177.90" width="0.95" height="4.30" fill="#3a78bf"/>
<rect x="388.85" y="177.90" width="0.95" height="4.30" fill="#3a78bf"/>
<rect x="399.25" y="177.90" width="0.95" height="4.30" fill="#3a78bf"/>
<rect x="400.55" y="177.90" width="0.95" height="4.30" fill="#3a78bf"/>
<rect x="401.85" y="177.90" width="0.95" height="4.30" fill="#3a78bf"/>
<rect x="403.15" y="177.90" width="0.95" height="4.30" fill="#3a78bf"/>
<rect x="404.45" y="177.90" width="0.95" height="4.30" fill="#3a78bf"/>
<rect x="405.75" y="177.90" width="0.95" height="4.30" fill="#3a78bf"/>
<rect x="407.05" y="177.90" width="0.95" height="4.30" fill="#3a78bf"/>
<rect x="408.35" y="177.90" width="0.95" height="4.30" fill="#3a78bf"/>
<rect x="431.75" y="177.90" width="0.95" height="4.30" fill="#3eae72"/>
<rect x="433.05" y="177.90" width="0.95" height="4.30" fill="#3a78bf"/>
<rect x="434.35" y="177.90" width="0.95" height="4.30" fill="#3a78bf"/>
<rect x="435.65" y="177.90" width="0.95" height="4.30" fill="#3a78bf"/>
<rect x="436.95" y="177.90" width="0.95" height="4.30" fill="#3a78bf"/>
<rect x="438.25" y="177.90" width="0.95" height="4.30" fill="#3a78bf"/>
<rect x="439.55" y="177.90" width="0.95" height="4.30" fill="#3a78bf"/>
<rect x="440.85" y="177.90" width="0.95" height="4.30" fill="#3a78bf"/>
<rect x="442.15" y="177.90" width="0.95" height="4.30" fill="#3a78bf"/>
<rect x="443.45" y="177.90" width="0.95" height="4.30" fill="#3a78bf"/>
<rect x="444.75" y="177.90" width="0.95" height="4.30" fill="#3a78bf"/>
<rect x="446.05" y="177.90" width="0.95" height="4.30" fill="#3a78bf"/>
<rect x="503.25" y="177.90" width="0.95" height="4.30" fill="#3a78bf"/>
<rect x="505.85" y="177.90" width="0.95" height="4.30" fill="#3a78bf"/>
<rect x="82.05" y="187.25" width="0.95" height="4.30" fill="#3eae72"/>
<rect x="89.85" y="187.25" width="0.95" height="4.30" fill="#3eae72"/>
<rect x="92.45" y="187.25" width="0.95" height="4.30" fill="#3eae72"/>
<rect x="93.75" y="187.25" width="0.95" height="4.30" fill="#3eae72"/>
<rect x="95.05" y="187.25" width="0.95" height="4.30" fill="#3eae72"/>
<rect x="96.35" y="187.25" width="0.95" height="4.30" fill="#3eae72"/>
<rect x="97.65" y="187.25" width="0.95" height="4.30" fill="#3eae72"/>
<rect x="98.95" y="187.25" width="0.95" height="4.30" fill="#3eae72"/>
<rect x="108.05" y="187.25" width="0.95" height="4.30" fill="#3eae72"/>
<rect x="114.55" y="187.25" width="0.95" height="4.30" fill="#3eae72"/>
<rect x="115.85" y="187.25" width="0.95" height="4.30" fill="#3eae72"/>
<rect x="117.15" y="187.25" width="0.95" height="4.30" fill="#3eae72"/>
<rect x="128.85" y="187.25" width="0.95" height="4.30" fill="#3eae72"/>
<rect x="135.35" y="187.25" width="0.95" height="4.30" fill="#3eae72"/>
<rect x="144.45" y="187.25" width="0.95" height="4.30" fill="#3eae72"/>
<rect x="145.75" y="187.25" width="0.95" height="4.30" fill="#3eae72"/>
<rect x="147.05" y="187.25" width="0.95" height="4.30" fill="#3eae72"/>
<rect x="149.65" y="187.25" width="0.95" height="4.30" fill="#3eae72"/>
<rect x="150.95" y="187.25" width="0.95" height="4.30" fill="#3eae72"/>
<rect x="153.55" y="187.25" width="0.95" height="4.30" fill="#3eae72"/>
<rect x="154.85" y="187.25" width="0.95" height="4.30" fill="#3eae72"/>
<rect x="163.95" y="187.25" width="0.95" height="4.30" fill="#3eae72"/>
<rect x="165.25" y="187.25" width="0.95" height="4.30" fill="#3eae72"/>
<rect x="166.55" y="187.25" width="0.95" height="4.30" fill="#3eae72"/>
<rect x="178.25" y="187.25" width="0.95" height="4.30" fill="#3eae72"/>
<rect x="179.55" y="187.25" width="0.95" height="4.30" fill="#3eae72"/>
<rect x="180.85" y="187.25" width="0.95" height="4.30" fill="#3eae72"/>
<rect x="197.75" y="187.25" width="0.95" height="4.30" fill="#3eae72"/>
<rect x="199.05" y="187.25" width="0.95" height="4.30" fill="#3eae72"/>
<rect x="200.35" y="187.25" width="0.95" height="4.30" fill="#3eae72"/>
<rect x="201.65" y="187.25" width="0.95" height="4.30" fill="#3eae72"/>
<rect x="202.95" y="187.25" width="0.95" height="4.30" fill="#3eae72"/>
<rect x="204.25" y="187.25" width="0.95" height="4.30" fill="#3eae72"/>
<rect x="227.65" y="187.25" width="0.95" height="4.30" fill="#3eae72"/>
<rect x="228.95" y="187.25" width="0.95" height="4.30" fill="#3eae72"/>
<rect x="230.25" y="187.25" width="0.95" height="4.30" fill="#3eae72"/>
<rect x="231.55" y="187.25" width="0.95" height="4.30" fill="#3eae72"/>
<rect x="236.75" y="187.25" width="0.95" height="4.30" fill="#3eae72"/>
<rect x="245.85" y="187.25" width="0.95" height="4.30" fill="#3eae72"/>
<rect x="247.15" y="187.25" width="0.95" height="4.30" fill="#3eae72"/>
<rect x="248.45" y="187.25" width="0.95" height="4.30" fill="#3eae72"/>
<rect x="249.75" y="187.25" width="0.95" height="4.30" fill="#3eae72"/>
<rect x="261.45" y="187.25" width="0.95" height="4.30" fill="#3a78bf"/>
<rect x="265.35" y="187.25" width="0.95" height="4.30" fill="#3eae72"/>
<rect x="269.25" y="187.25" width="0.95" height="4.30" fill="#3eae72"/>
<rect x="274.45" y="187.25" width="0.95" height="4.30" fill="#3eae72"/>
<rect x="275.75" y="187.25" width="0.95" height="4.30" fill="#3eae72"/>
<rect x="277.05" y="187.25" width="0.95" height="4.30" fill="#3eae72"/>
<rect x="278.35" y="187.25" width="0.95" height="4.30" fill="#3eae72"/>
<rect x="279.65" y="187.25" width="0.95" height="4.30" fill="#3eae72"/>
<rect x="280.95" y="187.25" width="0.95" height="4.30" fill="#3eae72"/>
<rect x="290.05" y="187.25" width="0.95" height="4.30" fill="#3eae72"/>
<rect x="291.35" y="187.25" width="0.95" height="4.30" fill="#3a78bf"/>
<rect x="292.65" y="187.25" width="0.95" height="4.30" fill="#3eae72"/>
<rect x="300.45" y="187.25" width="0.95" height="4.30" fill="#3eae72"/>
<rect x="309.55" y="187.25" width="0.95" height="4.30" fill="#3eae72"/>
<rect x="310.85" y="187.25" width="0.95" height="4.30" fill="#3eae72"/>
<rect x="312.15" y="187.25" width="0.95" height="4.30" fill="#3eae72"/>
<rect x="326.45" y="187.25" width="0.95" height="4.30" fill="#3eae72"/>
<rect x="329.05" y="187.25" width="0.95" height="4.30" fill="#3eae72"/>
<rect x="330.35" y="187.25" width="0.95" height="4.30" fill="#3eae72"/>
<rect x="336.85" y="187.25" width="0.95" height="4.30" fill="#3eae72"/>
<rect x="351.15" y="187.25" width="0.95" height="4.30" fill="#3eae72"/>
<rect x="353.75" y="187.25" width="0.95" height="4.30" fill="#3eae72"/>
<rect x="361.55" y="187.25" width="0.95" height="4.30" fill="#3eae72"/>
<rect x="362.85" y="187.25" width="0.95" height="4.30" fill="#3eae72"/>
<rect x="364.15" y="187.25" width="0.95" height="4.30" fill="#3eae72"/>
<rect x="365.45" y="187.25" width="0.95" height="4.30" fill="#3eae72"/>
<rect x="366.75" y="187.25" width="0.95" height="4.30" fill="#3eae72"/>
<rect x="368.05" y="187.25" width="0.95" height="4.30" fill="#3eae72"/>
<rect x="384.95" y="187.25" width="0.95" height="4.30" fill="#3a78bf"/>
<rect x="399.25" y="187.25" width="0.95" height="4.30" fill="#3eae72"/>
<rect x="400.55" y="187.25" width="0.95" height="4.30" fill="#3eae72"/>
<rect x="401.85" y="187.25" width="0.95" height="4.30" fill="#3eae72"/>
<rect x="409.65" y="187.25" width="0.95" height="4.30" fill="#3eae72"/>
<rect x="410.95" y="187.25" width="0.95" height="4.30" fill="#3eae72"/>
<rect x="412.25" y="187.25" width="0.95" height="4.30" fill="#3eae72"/>
<rect x="413.55" y="187.25" width="0.95" height="4.30" fill="#3eae72"/>
<rect x="431.75" y="187.25" width="0.95" height="4.30" fill="#3eae72"/>
<rect x="433.05" y="187.25" width="0.95" height="4.30" fill="#3eae72"/>
<rect x="434.35" y="187.25" width="0.95" height="4.30" fill="#3eae72"/>
<rect x="435.65" y="187.25" width="0.95" height="4.30" fill="#3eae72"/>
<rect x="447.35" y="187.25" width="0.95" height="4.30" fill="#3eae72"/>
<rect x="448.65" y="187.25" width="0.95" height="4.30" fill="#3eae72"/>
<rect x="449.95" y="187.25" width="0.95" height="4.30" fill="#3eae72"/>
<rect x="501.95" y="187.25" width="0.95" height="4.30" fill="#3eae72"/>
<rect x="100.25" y="196.60" width="0.95" height="4.30" fill="#3eae72"/>
<rect x="106.75" y="196.60" width="0.95" height="4.30" fill="#3eae72"/>
<rect x="111.95" y="196.60" width="0.95" height="4.30" fill="#3eae72"/>
<rect x="114.55" y="196.60" width="0.95" height="4.30" fill="#3a78bf"/>
<rect x="118.45" y="196.60" width="0.95" height="4.30" fill="#3eae72"/>
<rect x="119.75" y="196.60" width="0.95" height="4.30" fill="#3eae72"/>
<rect x="128.85" y="196.60" width="0.95" height="4.30" fill="#3eae72"/>
<rect x="130.15" y="196.60" width="0.95" height="4.30" fill="#3a78bf"/>
<rect x="131.45" y="196.60" width="0.95" height="4.30" fill="#3eae72"/>
<rect x="135.35" y="196.60" width="0.95" height="4.30" fill="#3a78bf"/>
<rect x="136.65" y="196.60" width="0.95" height="4.30" fill="#3a78bf"/>
<rect x="141.85" y="196.60" width="0.95" height="4.30" fill="#3a78bf"/>
<rect x="148.35" y="196.60" width="0.95" height="4.30" fill="#3a78bf"/>
<rect x="154.85" y="196.60" width="0.95" height="4.30" fill="#3a78bf"/>
<rect x="157.45" y="196.60" width="0.95" height="4.30" fill="#3a78bf"/>
<rect x="160.05" y="196.60" width="0.95" height="4.30" fill="#3eae72"/>
<rect x="169.15" y="196.60" width="0.95" height="4.30" fill="#3eae72"/>
<rect x="170.45" y="196.60" width="0.95" height="4.30" fill="#3eae72"/>
<rect x="197.75" y="196.60" width="0.95" height="4.30" fill="#3eae72"/>
<rect x="199.05" y="196.60" width="0.95" height="4.30" fill="#3eae72"/>
<rect x="200.35" y="196.60" width="0.95" height="4.30" fill="#3eae72"/>
<rect x="238.05" y="196.60" width="0.95" height="4.30" fill="#3eae72"/>
<rect x="252.35" y="196.60" width="0.95" height="4.30" fill="#3a78bf"/>
<rect x="253.65" y="196.60" width="0.95" height="4.30" fill="#3a78bf"/>
<rect x="254.95" y="196.60" width="0.95" height="4.30" fill="#3a78bf"/>
<rect x="256.25" y="196.60" width="0.95" height="4.30" fill="#3a78bf"/>
<rect x="261.45" y="196.60" width="0.95" height="4.30" fill="#3a78bf"/>
<rect x="266.65" y="196.60" width="0.95" height="4.30" fill="#3a78bf"/>
<rect x="270.55" y="196.60" width="0.95" height="4.30" fill="#3a78bf"/>
<rect x="277.05" y="196.60" width="0.95" height="4.30" fill="#3eae72"/>
<rect x="282.25" y="196.60" width="0.95" height="4.30" fill="#3a78bf"/>
<rect x="284.85" y="196.60" width="0.95" height="4.30" fill="#3eae72"/>
<rect x="286.15" y="196.60" width="0.95" height="4.30" fill="#3a78bf"/>
<rect x="293.95" y="196.60" width="0.95" height="4.30" fill="#3eae72"/>
<rect x="295.25" y="196.60" width="0.95" height="4.30" fill="#3a78bf"/>
<rect x="296.55" y="196.60" width="0.95" height="4.30" fill="#3eae72"/>
<rect x="297.85" y="196.60" width="0.95" height="4.30" fill="#3a78bf"/>
<rect x="299.15" y="196.60" width="0.95" height="4.30" fill="#3eae72"/>
<rect x="300.45" y="196.60" width="0.95" height="4.30" fill="#3a78bf"/>
<rect x="308.25" y="196.60" width="0.95" height="4.30" fill="#3a78bf"/>
<rect x="313.45" y="196.60" width="0.95" height="4.30" fill="#3a78bf"/>
<rect x="316.05" y="196.60" width="0.95" height="4.30" fill="#3a78bf"/>
<rect x="319.95" y="196.60" width="0.95" height="4.30" fill="#3a78bf"/>
<rect x="321.25" y="196.60" width="0.95" height="4.30" fill="#3eae72"/>
<rect x="322.55" y="196.60" width="0.95" height="4.30" fill="#3a78bf"/>
<rect x="323.85" y="196.60" width="0.95" height="4.30" fill="#3eae72"/>
<rect x="325.15" y="196.60" width="0.95" height="4.30" fill="#3a78bf"/>
<rect x="326.45" y="196.60" width="0.95" height="4.30" fill="#3eae72"/>
<rect x="330.35" y="196.60" width="0.95" height="4.30" fill="#3eae72"/>
<rect x="336.85" y="196.60" width="0.95" height="4.30" fill="#3a78bf"/>
<rect x="343.35" y="196.60" width="0.95" height="4.30" fill="#3a78bf"/>
<rect x="351.15" y="196.60" width="0.95" height="4.30" fill="#3a78bf"/>
<rect x="352.45" y="196.60" width="0.95" height="4.30" fill="#3a78bf"/>
<rect x="358.95" y="196.60" width="0.95" height="4.30" fill="#3a78bf"/>
<rect x="384.95" y="196.60" width="0.95" height="4.30" fill="#3a78bf"/>
<rect x="386.25" y="196.60" width="0.95" height="4.30" fill="#3a78bf"/>
<rect x="387.55" y="196.60" width="0.95" height="4.30" fill="#3a78bf"/>
<rect x="391.45" y="196.60" width="0.95" height="4.30" fill="#3eae72"/>
<rect x="392.75" y="196.60" width="0.95" height="4.30" fill="#3eae72"/>
<rect x="399.25" y="196.60" width="0.95" height="4.30" fill="#3a78bf"/>
<rect x="400.55" y="196.60" width="0.95" height="4.30" fill="#3a78bf"/>
<rect x="401.85" y="196.60" width="0.95" height="4.30" fill="#3a78bf"/>
<rect x="403.15" y="196.60" width="0.95" height="4.30" fill="#3a78bf"/>
<rect x="404.45" y="196.60" width="0.95" height="4.30" fill="#3a78bf"/>
<rect x="405.75" y="196.60" width="0.95" height="4.30" fill="#3a78bf"/>
<rect x="407.05" y="196.60" width="0.95" height="4.30" fill="#3a78bf"/>
<rect x="408.35" y="196.60" width="0.95" height="4.30" fill="#3a78bf"/>
<rect x="414.85" y="196.60" width="0.95" height="4.30" fill="#3a78bf"/>
<rect x="416.15" y="196.60" width="0.95" height="4.30" fill="#3eae72"/>
<rect x="431.75" y="196.60" width="0.95" height="4.30" fill="#3eae72"/>
<rect x="433.05" y="196.60" width="0.95" height="4.30" fill="#3a78bf"/>
<rect x="434.35" y="196.60" width="0.95" height="4.30" fill="#3a78bf"/>
<rect x="435.65" y="196.60" width="0.95" height="4.30" fill="#3a78bf"/>
<rect x="436.95" y="196.60" width="0.95" height="4.30" fill="#3a78bf"/>
<rect x="438.25" y="196.60" width="0.95" height="4.30" fill="#3a78bf"/>
<rect x="439.55" y="196.60" width="0.95" height="4.30" fill="#3a78bf"/>
<rect x="440.85" y="196.60" width="0.95" height="4.30" fill="#3a78bf"/>
<rect x="442.15" y="196.60" width="0.95" height="4.30" fill="#3a78bf"/>
<rect x="443.45" y="196.60" width="0.95" height="4.30" fill="#3a78bf"/>
<rect x="503.25" y="196.60" width="0.95" height="4.30" fill="#3a78bf"/>
<rect x="89.85" y="205.95" width="0.95" height="4.30" fill="#3a78bf"/>
<rect x="92.45" y="205.95" width="0.95" height="4.30" fill="#3a78bf"/>
<rect x="93.75" y="205.95" width="0.95" height="4.30" fill="#3a78bf"/>
<rect x="98.95" y="205.95" width="0.95" height="4.30" fill="#3eae72"/>
<rect x="115.85" y="205.95" width="0.95" height="4.30" fill="#3a78bf"/>
<rect x="121.05" y="205.95" width="0.95" height="4.30" fill="#3a78bf"/>
<rect x="128.85" y="205.95" width="0.95" height="4.30" fill="#3a78bf"/>
<rect x="130.15" y="205.95" width="0.95" height="4.30" fill="#3a78bf"/>
<rect x="134.05" y="205.95" width="0.95" height="4.30" fill="#3eae72"/>
<rect x="135.35" y="205.95" width="0.95" height="4.30" fill="#3a78bf"/>
<rect x="140.55" y="205.95" width="0.95" height="4.30" fill="#3a78bf"/>
<rect x="148.35" y="205.95" width="0.95" height="4.30" fill="#3a78bf"/>
<rect x="162.65" y="205.95" width="0.95" height="4.30" fill="#3a78bf"/>
<rect x="174.35" y="205.95" width="0.95" height="4.30" fill="#3eae72"/>
<rect x="175.65" y="205.95" width="0.95" height="4.30" fill="#3eae72"/>
<rect x="179.55" y="205.95" width="0.95" height="4.30" fill="#3eae72"/>
<rect x="192.55" y="205.95" width="0.95" height="4.30" fill="#3eae72"/>
<rect x="201.65" y="205.95" width="0.95" height="4.30" fill="#3a78bf"/>
<rect x="202.95" y="205.95" width="0.95" height="4.30" fill="#3eae72"/>
<rect x="208.15" y="205.95" width="0.95" height="4.30" fill="#3eae72"/>
<rect x="223.75" y="205.95" width="0.95" height="4.30" fill="#3eae72"/>
<rect x="225.05" y="205.95" width="0.95" height="4.30" fill="#3eae72"/>
<rect x="230.25" y="205.95" width="0.95" height="4.30" fill="#3eae72"/>
<rect x="238.05" y="205.95" width="0.95" height="4.30" fill="#3eae72"/>
<rect x="248.45" y="205.95" width="0.95" height="4.30" fill="#3eae72"/>
<rect x="252.35" y="205.95" width="0.95" height="4.30" fill="#3a78bf"/>
<rect x="253.65" y="205.95" width="0.95" height="4.30" fill="#3eae72"/>
<rect x="254.95" y="205.95" width="0.95" height="4.30" fill="#3a78bf"/>
<rect x="256.25" y="205.95" width="0.95" height="4.30" fill="#3eae72"/>
<rect x="261.45" y="205.95" width="0.95" height="4.30" fill="#3eae72"/>
<rect x="270.55" y="205.95" width="0.95" height="4.30" fill="#3a78bf"/>
<rect x="283.55" y="205.95" width="0.95" height="4.30" fill="#3eae72"/>
<rect x="284.85" y="205.95" width="0.95" height="4.30" fill="#3eae72"/>
<rect x="290.05" y="205.95" width="0.95" height="4.30" fill="#3a78bf"/>
<rect x="291.35" y="205.95" width="0.95" height="4.30" fill="#3a78bf"/>
<rect x="292.65" y="205.95" width="0.95" height="4.30" fill="#3a78bf"/>
<rect x="297.85" y="205.95" width="0.95" height="4.30" fill="#3eae72"/>
<rect x="299.15" y="205.95" width="0.95" height="4.30" fill="#3eae72"/>
<rect x="300.45" y="205.95" width="0.95" height="4.30" fill="#3a78bf"/>
<rect x="301.75" y="205.95" width="0.95" height="4.30" fill="#3a78bf"/>
<rect x="303.05" y="205.95" width="0.95" height="4.30" fill="#3a78bf"/>
<rect x="313.45" y="205.95" width="0.95" height="4.30" fill="#3a78bf"/>
<rect x="319.95" y="205.95" width="0.95" height="4.30" fill="#3eae72"/>
<rect x="322.55" y="205.95" width="0.95" height="4.30" fill="#3a78bf"/>
<rect x="323.85" y="205.95" width="0.95" height="4.30" fill="#3a78bf"/>
<rect x="326.45" y="205.95" width="0.95" height="4.30" fill="#3a78bf"/>
<rect x="331.65" y="205.95" width="0.95" height="4.30" fill="#3eae72"/>
<rect x="338.15" y="205.95" width="0.95" height="4.30" fill="#3a78bf"/>
<rect x="343.35" y="205.95" width="0.95" height="4.30" fill="#3a78bf"/>
<rect x="351.15" y="205.95" width="0.95" height="4.30" fill="#3a78bf"/>
<rect x="352.45" y="205.95" width="0.95" height="4.30" fill="#3eae72"/>
<rect x="353.75" y="205.95" width="0.95" height="4.30" fill="#3a78bf"/>
<rect x="360.25" y="205.95" width="0.95" height="4.30" fill="#3eae72"/>
<rect x="362.85" y="205.95" width="0.95" height="4.30" fill="#3eae72"/>
<rect x="369.35" y="205.95" width="0.95" height="4.30" fill="#3eae72"/>
<rect x="397.95" y="205.95" width="0.95" height="4.30" fill="#3eae72"/>
<rect x="399.25" y="205.95" width="0.95" height="4.30" fill="#3a78bf"/>
<rect x="400.55" y="205.95" width="0.95" height="4.30" fill="#3eae72"/>
<rect x="414.85" y="205.95" width="0.95" height="4.30" fill="#3eae72"/>
<rect x="427.85" y="205.95" width="0.95" height="4.30" fill="#3eae72"/>
<rect x="431.75" y="205.95" width="0.95" height="4.30" fill="#3a78bf"/>
<rect x="434.35" y="205.95" width="0.95" height="4.30" fill="#3a78bf"/>
<rect x="438.25" y="205.95" width="0.95" height="4.30" fill="#3a78bf"/>
<rect x="439.55" y="205.95" width="0.95" height="4.30" fill="#3a78bf"/>
<rect x="444.75" y="205.95" width="0.95" height="4.30" fill="#3a78bf"/>
<rect x="455.15" y="205.95" width="0.95" height="4.30" fill="#3eae72"/>
<rect x="470.75" y="205.95" width="0.95" height="4.30" fill="#3a78bf"/>
<rect x="503.25" y="205.95" width="0.95" height="4.30" fill="#3a78bf"/>
<rect x="82.00" y="24.90" width="1.18" height="2.10" fill="#4a86f0"/>
<rect x="82.00" y="22.34" width="1.18" height="2.56" fill="#1e1e1e"/>
<rect x="82.00" y="19.77" width="1.18" height="2.56" fill="#1e1e1e"/>
<rect x="82.00" y="17.21" width="1.18" height="2.56" fill="#1e1e1e"/>
<rect x="82.00" y="14.65" width="1.18" height="2.56" fill="#1e1e1e"/>
<rect x="82.00" y="12.60" width="1.18" height="2.05" fill="#3eae72"/>
<rect x="82.00" y="10.55" width="1.18" height="2.05" fill="#3eae72"/>
<rect x="82.00" y="8.50" width="1.18" height="2.05" fill="#3a78bf"/>
<rect x="82.00" y="6.45" width="1.18" height="2.05" fill="#3a78bf"/>
<rect x="82.00" y="4.40" width="1.18" height="2.05" fill="#3a78bf"/>
<rect x="84.60" y="24.90" width="1.18" height="2.10" fill="#2f7f46"/>
<rect x="84.60" y="21.24" width="1.18" height="3.66" fill="#6cc0ec"/>
<rect x="84.60" y="17.58" width="1.18" height="3.66" fill="#1e1e1e"/>
<rect x="84.60" y="13.92" width="1.18" height="3.66" fill="#1e1e1e"/>
<rect x="84.60" y="10.99" width="1.18" height="2.93" fill="#3eae72"/>
<rect x="84.60" y="8.06" width="1.18" height="2.93" fill="#3a78bf"/>
<rect x="84.60" y="5.13" width="1.18" height="2.93" fill="#3a78bf"/>
<rect x="84.60" y="2.20" width="1.18" height="2.93" fill="#3a78bf"/>
<rect x="85.90" y="24.90" width="1.18" height="2.10" fill="#2f7f46"/>
<rect x="85.90" y="22.80" width="1.18" height="2.10" fill="#e6a834"/>
<rect x="85.90" y="20.13" width="1.18" height="2.67" fill="#cf6cb2"/>
<rect x="85.90" y="17.47" width="1.18" height="2.67" fill="#1e1e1e"/>
<rect x="85.90" y="14.80" width="1.18" height="2.67" fill="#1e1e1e"/>
<rect x="85.90" y="12.13" width="1.18" height="2.67" fill="#1e1e1e"/>
<rect x="85.90" y="10.00" width="1.18" height="2.13" fill="#3eae72"/>
<rect x="87.20" y="24.90" width="1.18" height="2.10" fill="#e6a834"/>
<rect x="87.20" y="23.12" width="1.18" height="1.78" fill="#d9bfe0"/>
<rect x="87.20" y="21.34" width="1.18" height="1.78" fill="#6cc0ec"/>
<rect x="87.20" y="19.55" width="1.18" height="1.78" fill="#6cc0ec"/>
<rect x="87.20" y="17.77" width="1.18" height="1.78" fill="#6cc0ec"/>
<rect x="87.20" y="15.99" width="1.18" height="1.78" fill="#1e1e1e"/>
<rect x="87.20" y="14.21" width="1.18" height="1.78" fill="#1e1e1e"/>
<rect x="87.20" y="12.43" width="1.18" height="1.78" fill="#1e1e1e"/>
<rect x="87.20" y="11.00" width="1.18" height="1.43" fill="#3a78bf"/>
<rect x="88.50" y="24.90" width="1.18" height="2.10" fill="#7c6c4e"/>
<rect x="88.50" y="22.77" width="1.18" height="2.13" fill="#d9bfe0"/>
<rect x="88.50" y="20.64" width="1.18" height="2.13" fill="#1e1e1e"/>
<rect x="88.50" y="18.51" width="1.18" height="2.13" fill="#1e1e1e"/>
<rect x="88.50" y="16.80" width="1.18" height="1.71" fill="#3eae72"/>
<rect x="89.80" y="24.90" width="1.18" height="2.10" fill="#2f7f46"/>
<rect x="89.80" y="22.66" width="1.18" height="2.24" fill="#1e1e1e"/>
<rect x="89.80" y="20.42" width="1.18" height="2.24" fill="#1e1e1e"/>
<rect x="89.80" y="18.18" width="1.18" height="2.24" fill="#1e1e1e"/>
<rect x="89.80" y="16.39" width="1.18" height="1.79" fill="#3eae72"/>
<rect x="89.80" y="14.60" width="1.18" height="1.79" fill="#3a78bf"/>
<rect x="91.10" y="24.90" width="1.18" height="2.10" fill="#e6a834"/>
<rect x="91.10" y="20.65" width="1.18" height="4.25" fill="#d9bfe0"/>
<rect x="91.10" y="16.40" width="1.18" height="4.25" fill="#1e1e1e"/>
<rect x="91.10" y="13.00" width="1.18" height="3.40" fill="#3a78bf"/>
<rect x="93.70" y="24.90" width="1.18" height="2.10" fill="#2f7f46"/>
<rect x="93.70" y="22.80" width="1.18" height="2.10" fill="#4a86f0"/>
<rect x="93.70" y="20.71" width="1.18" height="2.09" fill="#cf6cb2"/>
<rect x="93.70" y="18.62" width="1.18" height="2.09" fill="#cf6cb2"/>
<rect x="93.70" y="16.53" width="1.18" height="2.09" fill="#1e1e1e"/>
<rect x="93.70" y="14.44" width="1.18" height="2.09" fill="#1e1e1e"/>
<rect x="93.70" y="12.76" width="1.18" height="1.67" fill="#3eae72"/>
<rect x="93.70" y="11.09" width="1.18" height="1.67" fill="#3eae72"/>
<rect x="93.70" y="9.42" width="1.18" height="1.67" fill="#3eae72"/>
<rect x="93.70" y="7.75" width="1.18" height="1.67" fill="#3eae72"/>
<rect x="93.70" y="6.07" width="1.18" height="1.67" fill="#3eae72"/>
<rect x="93.70" y="4.40" width="1.18" height="1.67" fill="#3a78bf"/>
<rect x="95.00" y="24.90" width="1.18" height="2.10" fill="#2f7f46"/>
<rect x="95.00" y="22.49" width="1.18" height="2.41" fill="#cf6cb2"/>
<rect x="95.00" y="20.07" width="1.18" height="2.41" fill="#1e1e1e"/>
<rect x="95.00" y="17.66" width="1.18" height="2.41" fill="#1e1e1e"/>
<rect x="95.00" y="15.73" width="1.18" height="1.93" fill="#3eae72"/>
<rect x="95.00" y="13.79" width="1.18" height="1.93" fill="#3eae72"/>
<rect x="95.00" y="11.86" width="1.18" height="1.93" fill="#3eae72"/>
<rect x="95.00" y="9.93" width="1.18" height="1.93" fill="#3eae72"/>
<rect x="95.00" y="8.00" width="1.18" height="1.93" fill="#3a78bf"/>
<rect x="96.30" y="24.90" width="1.18" height="2.10" fill="#4a86f0"/>
<rect x="96.30" y="22.80" width="1.18" height="2.10" fill="#ee2a24"/>
<rect x="96.30" y="20.42" width="1.18" height="2.38" fill="#6cc0ec"/>
<rect x="96.30" y="18.04" width="1.18" height="2.38" fill="#1e1e1e"/>
<rect x="96.30" y="16.13" width="1.18" height="1.91" fill="#3eae72"/>
<rect x="96.30" y="14.22" width="1.18" height="1.91" fill="#3eae72"/>
<rect x="96.30" y="12.32" width="1.18" height="1.91" fill="#3eae72"/>
<rect x="96.30" y="10.41" width="1.18" height="1.91" fill="#3a78bf"/>
<rect x="96.30" y="8.51" width="1.18" height="1.91" fill="#3a78bf"/>
<rect x="96.30" y="6.60" width="1.18" height="1.91" fill="#3a78bf"/>
<rect x="97.60" y="24.90" width="1.18" height="2.10" fill="#2f7f46"/>
<rect x="97.60" y="22.64" width="1.18" height="2.26" fill="#6cc0ec"/>
<rect x="97.60" y="20.39" width="1.18" height="2.26" fill="#1e1e1e"/>
<rect x="97.60" y="18.13" width="1.18" height="2.26" fill="#1e1e1e"/>
<rect x="97.60" y="16.33" width="1.18" height="1.81" fill="#3eae72"/>
<rect x="97.60" y="14.52" width="1.18" height="1.81" fill="#3eae72"/>
<rect x="97.60" y="12.72" width="1.18" height="1.81" fill="#3eae72"/>
<rect x="97.60" y="10.91" width="1.18" height="1.81" fill="#3eae72"/>
<rect x="97.60" y="9.11" width="1.18" height="1.81" fill="#3a78bf"/>
<rect x="97.60" y="7.30" width="1.18" height="1.81" fill="#3a78bf"/>
<rect x="98.90" y="24.90" width="1.18" height="2.10" fill="#2f7f46"/>
<rect x="98.90" y="22.64" width="1.18" height="2.26" fill="#6cc0ec"/>
<rect x="98.90" y="20.39" width="1.18" height="2.26" fill="#1e1e1e"/>
<rect x="98.90" y="18.13" width="1.18" height="2.26" fill="#1e1e1e"/>
<rect x="98.90" y="16.33" width="1.18" height="1.81" fill="#3eae72"/>
<rect x="98.90" y="14.52" width="1.18" height="1.81" fill="#3eae72"/>
<rect x="98.90" y="12.72" width="1.18" height="1.81" fill="#3eae72"/>
<rect x="98.90" y="10.91" width="1.18" height="1.81" fill="#3eae72"/>
<rect x="98.90" y="9.11" width="1.18" height="1.81" fill="#3a78bf"/>
<rect x="98.90" y="7.30" width="1.18" height="1.81" fill="#3a78bf"/>
<rect x="100.20" y="24.90" width="1.18" height="2.10" fill="#2f7f46"/>
<rect x="100.20" y="22.80" width="1.18" height="2.10" fill="#2f7f46"/>
<rect x="100.20" y="20.49" width="1.18" height="2.31" fill="#cf6cb2"/>
<rect x="100.20" y="18.17" width="1.18" height="2.31" fill="#6cc0ec"/>
<rect x="100.20" y="15.86" width="1.18" height="2.31" fill="#1e1e1e"/>
<rect x="100.20" y="14.01" width="1.18" height="1.85" fill="#3eae72"/>
<rect x="100.20" y="12.15" width="1.18" height="1.85" fill="#3eae72"/>
<rect x="100.20" y="10.30" width="1.18" height="1.85" fill="#3eae72"/>
<rect x="100.20" y="8.45" width="1.18" height="1.85" fill="#3eae72"/>
<rect x="100.20" y="6.60" width="1.18" height="1.85" fill="#3a78bf"/>
<rect x="101.50" y="24.90" width="1.18" height="2.10" fill="#2f7f46"/>
<rect x="101.50" y="22.86" width="1.18" height="2.04" fill="#cf6cb2"/>
<rect x="101.50" y="20.81" width="1.18" height="2.04" fill="#6cc0ec"/>
<rect x="101.50" y="18.77" width="1.18" height="2.04" fill="#6cc0ec"/>
<rect x="101.50" y="16.72" width="1.18" height="2.04" fill="#1e1e1e"/>
<rect x="101.50" y="14.68" width="1.18" height="2.04" fill="#1e1e1e"/>
<rect x="101.50" y="12.64" width="1.18" height="2.04" fill="#1e1e1e"/>
<rect x="101.50" y="11.00" width="1.18" height="1.64" fill="#3a78bf"/>
<rect x="102.80" y="24.90" width="1.18" height="2.10" fill="#e6a834"/>
<rect x="102.80" y="22.80" width="1.18" height="2.10" fill="#2f7f46"/>
<rect x="102.80" y="20.19" width="1.18" height="2.61" fill="#6cc0ec"/>
<rect x="102.80" y="17.57" width="1.18" height="2.61" fill="#6cc0ec"/>
<rect x="102.80" y="14.96" width="1.18" height="2.61" fill="#1e1e1e"/>
<rect x="102.80" y="12.87" width="1.18" height="2.09" fill="#3eae72"/>
<rect x="102.80" y="10.78" width="1.18" height="2.09" fill="#3a78bf"/>
<rect x="102.80" y="8.69" width="1.18" height="2.09" fill="#3a78bf"/>
<rect x="102.80" y="6.60" width="1.18" height="2.09" fill="#3a78bf"/>
<rect x="104.10" y="24.90" width="1.18" height="2.10" fill="#4a86f0"/>
<rect x="104.10" y="22.66" width="1.18" height="2.24" fill="#6cc0ec"/>
<rect x="104.10" y="20.42" width="1.18" height="2.24" fill="#6cc0ec"/>
<rect x="104.10" y="18.17" width="1.18" height="2.24" fill="#1e1e1e"/>
<rect x="104.10" y="16.38" width="1.18" height="1.79" fill="#3eae72"/>
<rect x="104.10" y="14.59" width="1.18" height="1.79" fill="#3eae72"/>
<rect x="104.10" y="12.79" width="1.18" height="1.79" fill="#3a78bf"/>
<rect x="104.10" y="11.00" width="1.18" height="1.79" fill="#3a78bf"/>
<rect x="105.40" y="24.90" width="1.18" height="2.10" fill="#4a86f0"/>
<rect x="105.40" y="22.80" width="1.18" height="2.10" fill="#e6a834"/>
<rect x="105.40" y="20.44" width="1.18" height="2.36" fill="#1e1e1e"/>
<rect x="105.40" y="18.07" width="1.18" height="2.36" fill="#1e1e1e"/>
<rect x="105.40" y="16.18" width="1.18" height="1.89" fill="#3eae72"/>
<rect x="105.40" y="14.29" width="1.18" height="1.89" fill="#3eae72"/>
<rect x="105.40" y="12.40" width="1.18" height="1.89" fill="#3a78bf"/>
<rect x="106.70" y="24.90" width="1.18" height="2.10" fill="#2f7f46"/>
<rect x="106.70" y="22.58" width="1.18" height="2.32" fill="#1e1e1e"/>
<rect x="106.70" y="20.27" width="1.18" height="2.32" fill="#1e1e1e"/>
<rect x="106.70" y="18.41" width="1.18" height="1.85" fill="#3eae72"/>
<rect x="106.70" y="16.56" width="1.18" height="1.85" fill="#3eae72"/>
<rect x="106.70" y="14.71" width="1.18" height="1.85" fill="#3eae72"/>
<rect x="106.70" y="12.85" width="1.18" height="1.85" fill="#3a78bf"/>
<rect x="106.70" y="11.00" width="1.18" height="1.85" fill="#3a78bf"/>
<rect x="108.00" y="24.90" width="1.18" height="2.10" fill="#2f7f46"/>
<rect x="108.00" y="22.23" width="1.18" height="2.67" fill="#6cc0ec"/>
<rect x="108.00" y="19.55" width="1.18" height="2.67" fill="#6cc0ec"/>
<rect x="108.00" y="17.42" width="1.18" height="2.14" fill="#3eae72"/>
<rect x="108.00" y="15.28" width="1.18" height="2.14" fill="#3eae72"/>
<rect x="108.00" y="13.14" width="1.18" height="2.14" fill="#3eae72"/>
<rect x="108.00" y="11.00" width="1.18" height="2.14" fill="#3a78bf"/>
<rect x="109.30" y="24.90" width="1.18" height="2.10" fill="#eba48a"/>
<rect x="109.30" y="22.80" width="1.18" height="2.10" fill="#2f7f46"/>
<rect x="109.30" y="20.61" width="1.18" height="2.19" fill="#cf6cb2"/>
<rect x="109.30" y="18.43" width="1.18" height="2.19" fill="#6cc0ec"/>
<rect x="109.30" y="16.24" width="1.18" height="2.19" fill="#1e1e1e"/>
<rect x="109.30" y="14.50" width="1.18" height="1.75" fill="#3eae72"/>
<rect x="109.30" y="12.75" width="1.18" height="1.75" fill="#3eae72"/>
<rect x="109.30" y="11.00" width="1.18" height="1.75" fill="#3a78bf"/>
<rect x="110.60" y="24.90" width="1.18" height="2.10" fill="#2f7f46"/>
<rect x="110.60" y="22.05" width="1.18" height="2.85" fill="#d9bfe0"/>
<rect x="110.60" y="19.20" width="1.18" height="2.85" fill="#1e1e1e"/>
<rect x="110.60" y="16.34" width="1.18" height="2.85" fill="#1e1e1e"/>
<rect x="110.60" y="14.06" width="1.18" height="2.28" fill="#3eae72"/>
<rect x="110.60" y="11.78" width="1.18" height="2.28" fill="#3a78bf"/>
<rect x="110.60" y="9.50" width="1.18" height="2.28" fill="#3a78bf"/>
<rect x="111.90" y="24.90" width="1.18" height="2.10" fill="#2f7f46"/>
<rect x="111.90" y="22.70" width="1.18" height="2.20" fill="#cf6cb2"/>
<rect x="111.90" y="20.50" width="1.18" height="2.20" fill="#cf6cb2"/>
<rect x="111.90" y="18.30" width="1.18" height="2.20" fill="#1e1e1e"/>
<rect x="111.90" y="16.54" width="1.18" height="1.76" fill="#3eae72"/>
<rect x="111.90" y="14.78" width="1.18" height="1.76" fill="#3a78bf"/>
<rect x="111.90" y="13.02" width="1.18" height="1.76" fill="#3a78bf"/>
<rect x="111.90" y="11.26" width="1.18" height="1.76" fill="#3a78bf"/>
<rect x="111.90" y="9.50" width="1.18" height="1.76" fill="#3a78bf"/>
<rect x="113.20" y="24.90" width="1.18" height="2.10" fill="#2f7f46"/>
<rect x="113.20" y="22.80" width="1.18" height="2.10" fill="#2f7f46"/>
<rect x="113.20" y="19.88" width="1.18" height="2.92" fill="#cf6cb2"/>
<rect x="113.20" y="16.97" width="1.18" height="2.92" fill="#cf6cb2"/>
<rect x="113.20" y="14.05" width="1.18" height="2.92" fill="#6cc0ec"/>
<rect x="113.20" y="11.13" width="1.18" height="2.92" fill="#6cc0ec"/>
<rect x="113.20" y="8.80" width="1.18" height="2.33" fill="#3eae72"/>
<rect x="114.50" y="24.90" width="1.18" height="2.10" fill="#2f7f46"/>
<rect x="114.50" y="21.10" width="1.18" height="3.80" fill="#1e1e1e"/>
<rect x="114.50" y="17.31" width="1.18" height="3.80" fill="#1e1e1e"/>
<rect x="114.50" y="13.51" width="1.18" height="3.80" fill="#1e1e1e"/>
<rect x="114.50" y="10.47" width="1.18" height="3.04" fill="#3eae72"/>
<rect x="114.50" y="7.44" width="1.18" height="3.04" fill="#3a78bf"/>
<rect x="114.50" y="4.40" width="1.18" height="3.04" fill="#3a78bf"/>
<rect x="115.80" y="24.90" width="1.18" height="2.10" fill="#2f7f46"/>
<rect x="115.80" y="22.92" width="1.18" height="1.98" fill="#1e1e1e"/>
<rect x="115.80" y="20.93" width="1.18" height="1.98" fill="#1e1e1e"/>
<rect x="115.80" y="19.35" width="1.18" height="1.59" fill="#3eae72"/>
<rect x="115.80" y="17.76" width="1.18" height="1.59" fill="#3a78bf"/>
<rect x="115.80" y="16.17" width="1.18" height="1.59" fill="#3a78bf"/>
<rect x="115.80" y="14.59" width="1.18" height="1.59" fill="#3a78bf"/>
<rect x="115.80" y="13.00" width="1.18" height="1.59" fill="#3a78bf"/>
<rect x="117.10" y="24.90" width="1.18" height="2.10" fill="#2f7f46"/>
<rect x="117.10" y="22.66" width="1.18" height="2.24" fill="#6cc0ec"/>
<rect x="117.10" y="20.43" width="1.18" height="2.24" fill="#1e1e1e"/>
<rect x="117.10" y="18.19" width="1.18" height="2.24" fill="#1e1e1e"/>
<rect x="117.10" y="15.96" width="1.18" height="2.24" fill="#1e1e1e"/>
<rect x="117.10" y="14.17" width="1.18" height="1.79" fill="#3eae72"/>
<rect x="117.10" y="12.38" width="1.18" height="1.79" fill="#3eae72"/>
<rect x="117.10" y="10.59" width="1.18" height="1.79" fill="#3eae72"/>
<rect x="117.10" y="8.80" width="1.18" height="1.79" fill="#3a78bf"/>
<rect x="118.40" y="24.90" width="1.18" height="2.10" fill="#e6a834"/>
<rect x="118.40" y="22.60" width="1.18" height="2.30" fill="#d9bfe0"/>
<rect x="118.40" y="20.30" width="1.18" height="2.30" fill="#d9bfe0"/>
<rect x="118.40" y="18.00" width="1.18" height="2.30" fill="#1e1e1e"/>
<rect x="118.40" y="16.16" width="1.18" height="1.84" fill="#3eae72"/>
<rect x="118.40" y="14.32" width="1.18" height="1.84" fill="#3a78bf"/>
<rect x="118.40" y="12.48" width="1.18" height="1.84" fill="#3a78bf"/>
<rect x="118.40" y="10.64" width="1.18" height="1.84" fill="#3a78bf"/>
<rect x="118.40" y="8.80" width="1.18" height="1.84" fill="#3a78bf"/>
<rect x="119.70" y="24.90" width="1.18" height="2.10" fill="#2f7f46"/>
<rect x="119.70" y="22.80" width="1.18" height="2.10" fill="#2f7f46"/>
<rect x="119.70" y="20.67" width="1.18" height="2.13" fill="#6cc0ec"/>
<rect x="119.70" y="18.53" width="1.18" height="2.13" fill="#1e1e1e"/>
<rect x="119.70" y="16.82" width="1.18" height="1.71" fill="#3eae72"/>
<rect x="119.70" y="15.12" width="1.18" height="1.71" fill="#3a78bf"/>
<rect x="119.70" y="13.41" width="1.18" height="1.71" fill="#3a78bf"/>
<rect x="119.70" y="11.70" width="1.18" height="1.71" fill="#3a78bf"/>
<rect x="121.00" y="24.90" width="1.18" height="2.10" fill="#4a86f0"/>
<rect x="121.00" y="22.30" width="1.18" height="2.60" fill="#1e1e1e"/>
<rect x="121.00" y="19.71" width="1.18" height="2.60" fill="#1e1e1e"/>
<rect x="121.00" y="17.11" width="1.18" height="2.60" fill="#1e1e1e"/>
<rect x="121.00" y="15.03" width="1.18" height="2.08" fill="#3a78bf"/>
<rect x="121.00" y="12.95" width="1.18" height="2.08" fill="#3a78bf"/>
<rect x="121.00" y="10.88" width="1.18" height="2.08" fill="#3a78bf"/>
<rect x="121.00" y="8.80" width="1.18" height="2.08" fill="#3a78bf"/>
<rect x="122.30" y="24.90" width="1.18" height="2.10" fill="#4a86f0"/>
<rect x="122.30" y="22.80" width="1.18" height="2.10" fill="#2f7f46"/>
<rect x="122.30" y="20.21" width="1.18" height="2.59" fill="#cf6cb2"/>
<rect x="122.30" y="17.61" width="1.18" height="2.59" fill="#1e1e1e"/>
<rect x="122.30" y="15.02" width="1.18" height="2.59" fill="#1e1e1e"/>
<rect x="122.30" y="12.95" width="1.18" height="2.07" fill="#3a78bf"/>
<rect x="122.30" y="10.87" width="1.18" height="2.07" fill="#3a78bf"/>
<rect x="122.30" y="8.80" width="1.18" height="2.07" fill="#3a78bf"/>
<rect x="123.60" y="24.90" width="1.18" height="2.10" fill="#2f7f46"/>
<rect x="123.60" y="22.99" width="1.18" height="1.91" fill="#6cc0ec"/>
<rect x="123.60" y="21.09" width="1.18" height="1.91" fill="#6cc0ec"/>
<rect x="123.60" y="19.18" width="1.18" height="1.91" fill="#1e1e1e"/>
<rect x="123.60" y="17.65" width="1.18" height="1.53" fill="#3a78bf"/>
<rect x="123.60" y="16.13" width="1.18" height="1.53" fill="#3a78bf"/>
<rect x="123.60" y="14.60" width="1.18" height="1.53" fill="#3a78bf"/>
<rect x="124.90" y="24.90" width="1.18" height="2.10" fill="#4a86f0"/>
<rect x="124.90" y="22.56" width="1.18" height="2.34" fill="#1e1e1e"/>
<rect x="124.90" y="20.22" width="1.18" height="2.34" fill="#1e1e1e"/>
<rect x="124.90" y="18.35" width="1.18" height="1.87" fill="#3eae72"/>
<rect x="124.90" y="16.47" width="1.18" height="1.87" fill="#3a78bf"/>
<rect x="124.90" y="14.60" width="1.18" height="1.87" fill="#3a78bf"/>
<rect x="126.20" y="24.90" width="1.18" height="2.10" fill="#2f7f46"/>
<rect x="126.20" y="22.56" width="1.18" height="2.34" fill="#1e1e1e"/>
<rect x="126.20" y="20.22" width="1.18" height="2.34" fill="#1e1e1e"/>
<rect x="126.20" y="18.35" width="1.18" height="1.87" fill="#3a78bf"/>
<rect x="126.20" y="16.47" width="1.18" height="1.87" fill="#3a78bf"/>
<rect x="126.20" y="14.60" width="1.18" height="1.87" fill="#3a78bf"/>
<rect x="127.50" y="24.90" width="1.18" height="2.10" fill="#2f7f46"/>
<rect x="127.50" y="22.04" width="1.18" height="2.86" fill="#1e1e1e"/>
<rect x="127.50" y="19.18" width="1.18" height="2.86" fill="#1e1e1e"/>
<rect x="127.50" y="16.89" width="1.18" height="2.29" fill="#3a78bf"/>
<rect x="127.50" y="14.60" width="1.18" height="2.29" fill="#3a78bf"/>
<rect x="128.80" y="24.90" width="1.18" height="2.10" fill="#e6a834"/>
<rect x="128.80" y="22.84" width="1.18" height="2.06" fill="#d9bfe0"/>
<rect x="128.80" y="20.77" width="1.18" height="2.06" fill="#d9bfe0"/>
<rect x="128.80" y="18.71" width="1.18" height="2.06" fill="#1e1e1e"/>
<rect x="128.80" y="17.06" width="1.18" height="1.65" fill="#3eae72"/>
<rect x="128.80" y="15.41" width="1.18" height="1.65" fill="#3eae72"/>
<rect x="128.80" y="13.75" width="1.18" height="1.65" fill="#3eae72"/>
<rect x="128.80" y="12.10" width="1.18" height="1.65" fill="#3a78bf"/>
<rect x="128.80" y="10.45" width="1.18" height="1.65" fill="#3a78bf"/>
<rect x="128.80" y="8.80" width="1.18" height="1.65" fill="#3a78bf"/>
<rect x="130.10" y="24.90" width="1.18" height="2.10" fill="#2f7f46"/>
<rect x="130.10" y="22.80" width="1.18" height="2.10" fill="#d9bfe0"/>
<rect x="130.10" y="20.70" width="1.18" height="2.10" fill="#6cc0ec"/>
<rect x="130.10" y="18.60" width="1.18" height="2.10" fill="#1e1e1e"/>
<rect x="130.10" y="16.92" width="1.18" height="1.68" fill="#3a78bf"/>
<rect x="130.10" y="15.24" width="1.18" height="1.68" fill="#3a78bf"/>
<rect x="130.10" y="13.56" width="1.18" height="1.68" fill="#3a78bf"/>
<rect x="130.10" y="11.88" width="1.18" height="1.68" fill="#3a78bf"/>
<rect x="130.10" y="10.20" width="1.18" height="1.68" fill="#3a78bf"/>
<rect x="131.40" y="24.90" width="1.18" height="2.10" fill="#3414a8"/>
<rect x="131.40" y="22.80" width="1.18" height="2.10" fill="#2f7f46"/>
<rect x="131.40" y="20.44" width="1.18" height="2.36" fill="#1e1e1e"/>
<rect x="131.40" y="18.07" width="1.18" height="2.36" fill="#1e1e1e"/>
<rect x="131.40" y="16.18" width="1.18" height="1.89" fill="#3eae72"/>
<rect x="131.40" y="14.29" width="1.18" height="1.89" fill="#3eae72"/>
<rect x="131.40" y="12.40" width="1.18" height="1.89" fill="#3a78bf"/>
<rect x="132.70" y="24.90" width="1.18" height="2.10" fill="#e6a834"/>
<rect x="132.70" y="22.65" width="1.18" height="2.25" fill="#1e1e1e"/>
<rect x="132.70" y="20.40" width="1.18" height="2.25" fill="#1e1e1e"/>
<rect x="132.70" y="18.60" width="1.18" height="1.80" fill="#3eae72"/>
<rect x="132.70" y="16.80" width="1.18" height="1.80" fill="#3eae72"/>
<rect x="134.00" y="24.90" width="1.18" height="2.10" fill="#2f7f46"/>
<rect x="134.00" y="22.52" width="1.18" height="2.38" fill="#1e1e1e"/>
<rect x="134.00" y="20.61" width="1.18" height="1.91" fill="#3eae72"/>
<rect x="134.00" y="18.71" width="1.18" height="1.91" fill="#3eae72"/>
<rect x="134.00" y="16.80" width="1.18" height="1.91" fill="#3a78bf"/>
<rect x="135.30" y="24.90" width="1.18" height="2.10" fill="#4a86f0"/>
<rect x="135.30" y="22.55" width="1.18" height="2.35" fill="#6cc0ec"/>
<rect x="135.30" y="20.21" width="1.18" height="2.35" fill="#1e1e1e"/>
<rect x="135.30" y="17.86" width="1.18" height="2.35" fill="#1e1e1e"/>
<rect x="135.30" y="15.98" width="1.18" height="1.88" fill="#3eae72"/>
<rect x="135.30" y="14.11" width="1.18" height="1.88" fill="#3a78bf"/>
<rect x="135.30" y="12.23" width="1.18" height="1.88" fill="#3a78bf"/>
<rect x="135.30" y="10.35" width="1.18" height="1.88" fill="#3a78bf"/>
<rect x="135.30" y="8.48" width="1.18" height="1.88" fill="#3a78bf"/>
<rect x="135.30" y="6.60" width="1.18" height="1.88" fill="#3a78bf"/>
<rect x="136.60" y="24.90" width="1.18" height="2.10" fill="#4a86f0"/>
<rect x="136.60" y="22.80" width="1.18" height="2.10" fill="#2f7f46"/>
<rect x="136.60" y="20.90" width="1.18" height="1.90" fill="#cf6cb2"/>
<rect x="136.60" y="18.99" width="1.18" height="1.90" fill="#d9bfe0"/>
<rect x="136.60" y="17.09" width="1.18" height="1.90" fill="#d9bfe0"/>
<rect x="136.60" y="15.57" width="1.18" height="1.52" fill="#3a78bf"/>
<rect x="136.60" y="14.05" width="1.18" height="1.52" fill="#3a78bf"/>
<rect x="136.60" y="12.52" width="1.18" height="1.52" fill="#3a78bf"/>
<rect x="136.60" y="11.00" width="1.18" height="1.52" fill="#3a78bf"/>
<rect x="137.90" y="24.90" width="1.18" height="2.10" fill="#ee2a24"/>
<rect x="137.90" y="20.67" width="1.18" height="4.23" fill="#d9bfe0"/>
<rect x="137.90" y="17.28" width="1.18" height="3.38" fill="#3a78bf"/>
<rect x="137.90" y="13.90" width="1.18" height="3.38" fill="#3a78bf"/>
<rect x="139.20" y="24.90" width="1.18" height="2.10" fill="#ee2a24"/>
<rect x="139.20" y="22.80" width="1.18" height="2.10" fill="#2f7f46"/>
<rect x="139.20" y="21.21" width="1.18" height="1.59" fill="#1e1e1e"/>
<rect x="139.20" y="19.62" width="1.18" height="1.59" fill="#1e1e1e"/>
<rect x="139.20" y="18.03" width="1.18" height="1.59" fill="#1e1e1e"/>
<rect x="139.20" y="16.44" width="1.18" height="1.59" fill="#1e1e1e"/>
<rect x="139.20" y="15.17" width="1.18" height="1.27" fill="#3a78bf"/>
<rect x="139.20" y="13.90" width="1.18" height="1.27" fill="#3a78bf"/>
<rect x="140.50" y="24.90" width="1.18" height="2.10" fill="#2f7f46"/>
<rect x="140.50" y="21.86" width="1.18" height="3.04" fill="#d9bfe0"/>
<rect x="140.50" y="18.81" width="1.18" height="3.04" fill="#d9bfe0"/>
<rect x="140.50" y="15.77" width="1.18" height="3.04" fill="#1e1e1e"/>
<rect x="140.50" y="13.34" width="1.18" height="2.43" fill="#3eae72"/>
<rect x="140.50" y="10.90" width="1.18" height="2.43" fill="#3eae72"/>
<rect x="140.50" y="8.47" width="1.18" height="2.43" fill="#3a78bf"/>
<rect x="140.50" y="6.03" width="1.18" height="2.43" fill="#3a78bf"/>
<rect x="140.50" y="3.60" width="1.18" height="2.43" fill="#3a78bf"/>
<rect x="141.80" y="24.90" width="1.18" height="2.10" fill="#eba48a"/>
<rect x="141.80" y="21.77" width="1.18" height="3.13" fill="#d9bfe0"/>
<rect x="141.80" y="18.64" width="1.18" height="3.13" fill="#1e1e1e"/>
<rect x="141.80" y="16.13" width="1.18" height="2.51" fill="#3eae72"/>
<rect x="141.80" y="13.62" width="1.18" height="2.51" fill="#3eae72"/>
<rect x="141.80" y="11.12" width="1.18" height="2.51" fill="#3a78bf"/>
<rect x="141.80" y="8.61" width="1.18" height="2.51" fill="#3a78bf"/>
<rect x="141.80" y="6.11" width="1.18" height="2.51" fill="#3a78bf"/>
<rect x="141.80" y="3.60" width="1.18" height="2.51" fill="#3a78bf"/>
<rect x="143.10" y="24.90" width="1.18" height="2.10" fill="#2f7f46"/>
<rect x="143.10" y="22.80" width="1.18" height="2.10" fill="#e6a834"/>
<rect x="143.10" y="19.99" width="1.18" height="2.81" fill="#1e1e1e"/>
<rect x="143.10" y="17.74" width="1.18" height="2.25" fill="#3eae72"/>
<rect x="143.10" y="15.50" width="1.18" height="2.25" fill="#3a78bf"/>
<rect x="143.10" y="13.25" width="1.18" height="2.25" fill="#3a78bf"/>
<rect x="143.10" y="11.00" width="1.18" height="2.25" fill="#3a78bf"/>
<rect x="144.40" y="24.90" width="1.18" height="2.10" fill="#7c6c4e"/>
<rect x="144.40" y="22.80" width="1.18" height="2.10" fill="#2f7f46"/>
<rect x="144.40" y="21.13" width="1.18" height="1.67" fill="#6cc0ec"/>
<rect x="144.40" y="19.79" width="1.18" height="1.34" fill="#3eae72"/>
<rect x="144.40" y="18.45" width="1.18" height="1.34" fill="#3eae72"/>
<rect x="144.40" y="17.11" width="1.18" height="1.34" fill="#3a78bf"/>
<rect x="144.40" y="15.78" width="1.18" height="1.34" fill="#3a78bf"/>
<rect x="144.40" y="14.44" width="1.18" height="1.34" fill="#3a78bf"/>
<rect x="144.40" y="13.10" width="1.18" height="1.34" fill="#3a78bf"/>
<rect x="145.70" y="24.90" width="1.18" height="2.10" fill="#2f7f46"/>
<rect x="145.70" y="22.54" width="1.18" height="2.36" fill="#6cc0ec"/>
<rect x="145.70" y="20.65" width="1.18" height="1.89" fill="#3eae72"/>
<rect x="145.70" y="18.76" width="1.18" height="1.89" fill="#3eae72"/>
<rect x="145.70" y="16.88" width="1.18" height="1.89" fill="#3a78bf"/>
<rect x="145.70" y="14.99" width="1.18" height="1.89" fill="#3a78bf"/>
<rect x="145.70" y="13.10" width="1.18" height="1.89" fill="#3a78bf"/>
<rect x="147.00" y="24.90" width="1.18" height="2.10" fill="#7c6c4e"/>
<rect x="147.00" y="22.80" width="1.18" height="2.10" fill="#7c6c4e"/>
<rect x="147.00" y="20.72" width="1.18" height="2.08" fill="#cf6cb2"/>
<rect x="147.00" y="19.06" width="1.18" height="1.66" fill="#3eae72"/>
<rect x="147.00" y="17.39" width="1.18" height="1.66" fill="#3eae72"/>
<rect x="147.00" y="15.73" width="1.18" height="1.66" fill="#3a78bf"/>
<rect x="147.00" y="14.06" width="1.18" height="1.66" fill="#3a78bf"/>
<rect x="147.00" y="12.40" width="1.18" height="1.66" fill="#3a78bf"/>
<rect x="148.30" y="24.90" width="1.18" height="2.10" fill="#2f7f46"/>
<rect x="148.30" y="22.80" width="1.18" height="2.10" fill="#2f7f46"/>
<rect x="148.30" y="20.72" width="1.18" height="2.08" fill="#cf6cb2"/>
<rect x="148.30" y="18.65" width="1.18" height="2.08" fill="#6cc0ec"/>
<rect x="148.30" y="16.57" width="1.18" height="2.08" fill="#1e1e1e"/>
<rect x="148.30" y="14.91" width="1.18" height="1.66" fill="#3a78bf"/>
<rect x="148.30" y="13.25" width="1.18" height="1.66" fill="#3a78bf"/>
<rect x="148.30" y="11.58" width="1.18" height="1.66" fill="#3a78bf"/>
<rect x="148.30" y="9.92" width="1.18" height="1.66" fill="#3a78bf"/>
<rect x="148.30" y="8.26" width="1.18" height="1.66" fill="#3a78bf"/>
<rect x="148.30" y="6.60" width="1.18" height="1.66" fill="#3a78bf"/>
<rect x="149.60" y="24.90" width="1.18" height="2.10" fill="#2f7f46"/>
<rect x="149.60" y="22.80" width="1.18" height="2.10" fill="#2f7f46"/>
<rect x="149.60" y="19.99" width="1.18" height="2.81" fill="#d9bfe0"/>
<rect x="149.60" y="17.74" width="1.18" height="2.25" fill="#3eae72"/>
<rect x="149.60" y="15.50" width="1.18" height="2.25" fill="#3eae72"/>
<rect x="149.60" y="13.25" width="1.18" height="2.25" fill="#3a78bf"/>
<rect x="149.60" y="11.00" width="1.18" height="2.25" fill="#3a78bf"/>
<rect x="150.90" y="24.90" width="1.18" height="2.10" fill="#2f7f46"/>
<rect x="150.90" y="20.96" width="1.18" height="3.94" fill="#6cc0ec"/>
<rect x="150.90" y="17.02" width="1.18" height="3.94" fill="#6cc0ec"/>
<rect x="150.90" y="13.86" width="1.18" height="3.15" fill="#3eae72"/>
<rect x="150.90" y="10.71" width="1.18" height="3.15" fill="#3a78bf"/>
<rect x="150.90" y="7.55" width="1.18" height="3.15" fill="#3a78bf"/>
<rect x="150.90" y="4.40" width="1.18" height="3.15" fill="#3a78bf"/>
<rect x="152.20" y="24.90" width="1.18" height="2.10" fill="#4a86f0"/>
<rect x="152.20" y="22.40" width="1.18" height="2.50" fill="#cf6cb2"/>
<rect x="152.20" y="19.90" width="1.18" height="2.50" fill="#cf6cb2"/>
<rect x="152.20" y="17.40" width="1.18" height="2.50" fill="#d9bfe0"/>
<rect x="152.20" y="14.90" width="1.18" height="2.50" fill="#d9bfe0"/>
<rect x="152.20" y="12.40" width="1.18" height="2.50" fill="#1e1e1e"/>
<rect x="152.20" y="10.40" width="1.18" height="2.00" fill="#3eae72"/>
<rect x="152.20" y="8.40" width="1.18" height="2.00" fill="#3a78bf"/>
<rect x="152.20" y="6.40" width="1.18" height="2.00" fill="#3a78bf"/>
<rect x="152.20" y="4.40" width="1.18" height="2.00" fill="#3a78bf"/>
<rect x="153.50" y="24.90" width="1.18" height="2.10" fill="#e6a834"/>
<rect x="153.50" y="22.80" width="1.18" height="2.10" fill="#4a86f0"/>
<rect x="153.50" y="20.77" width="1.18" height="2.03" fill="#cf6cb2"/>
<rect x="153.50" y="19.14" width="1.18" height="1.63" fill="#3eae72"/>
<rect x="153.50" y="17.51" width="1.18" height="1.63" fill="#3eae72"/>
<rect x="153.50" y="15.88" width="1.18" height="1.63" fill="#3a78bf"/>
<rect x="153.50" y="14.26" width="1.18" height="1.63" fill="#3a78bf"/>
<rect x="153.50" y="12.63" width="1.18" height="1.63" fill="#3a78bf"/>
<rect x="153.50" y="11.00" width="1.18" height="1.63" fill="#3a78bf"/>
<rect x="154.80" y="24.90" width="1.18" height="2.10" fill="#4a86f0"/>
<rect x="154.80" y="23.00" width="1.18" height="1.90" fill="#cf6cb2"/>
<rect x="154.80" y="21.09" width="1.18" height="1.90" fill="#d9bfe0"/>
<rect x="154.80" y="19.19" width="1.18" height="1.90" fill="#d9bfe0"/>
<rect x="154.80" y="17.67" width="1.18" height="1.52" fill="#3eae72"/>
<rect x="154.80" y="16.15" width="1.18" height="1.52" fill="#3eae72"/>
<rect x="154.80" y="14.62" width="1.18" height="1.52" fill="#3a78bf"/>
<rect x="154.80" y="13.10" width="1.18" height="1.52" fill="#3a78bf"/>
<rect x="156.10" y="24.90" width="1.18" height="2.10" fill="#2f7f46"/>
<rect x="156.10" y="22.80" width="1.18" height="2.10" fill="#2f7f46"/>
<rect x="156.10" y="20.24" width="1.18" height="2.56" fill="#1e1e1e"/>
<rect x="156.10" y="18.20" width="1.18" height="2.04" fill="#3a78bf"/>
<rect x="157.40" y="24.90" width="1.18" height="2.10" fill="#2f7f46"/>
<rect x="157.40" y="23.30" width="1.18" height="1.60" fill="#1e1e1e"/>
<rect x="157.40" y="22.03" width="1.18" height="1.28" fill="#3eae72"/>
<rect x="157.40" y="20.75" width="1.18" height="1.28" fill="#3a78bf"/>
<rect x="157.40" y="19.48" width="1.18" height="1.28" fill="#3a78bf"/>
<rect x="157.40" y="18.20" width="1.18" height="1.28" fill="#3a78bf"/>
<rect x="158.70" y="24.90" width="1.18" height="2.10" fill="#2f7f46"/>
<rect x="158.70" y="21.48" width="1.18" height="3.42" fill="#6cc0ec"/>
<rect x="158.70" y="18.74" width="1.18" height="2.74" fill="#3a78bf"/>
<rect x="158.70" y="16.00" width="1.18" height="2.74" fill="#3a78bf"/>
<rect x="160.00" y="24.90" width="1.18" height="2.10" fill="#2f7f46"/>
<rect x="160.00" y="22.71" width="1.18" height="2.19" fill="#d9bfe0"/>
<rect x="160.00" y="20.53" width="1.18" height="2.19" fill="#d9bfe0"/>
<rect x="160.00" y="18.34" width="1.18" height="2.19" fill="#6cc0ec"/>
<rect x="160.00" y="16.60" width="1.18" height="1.75" fill="#3eae72"/>
<rect x="160.00" y="14.85" width="1.18" height="1.75" fill="#3eae72"/>
<rect x="160.00" y="13.10" width="1.18" height="1.75" fill="#3eae72"/>
<rect x="161.30" y="24.90" width="1.18" height="2.10" fill="#4a86f0"/>
<rect x="161.30" y="22.05" width="1.18" height="2.85" fill="#cf6cb2"/>
<rect x="161.30" y="19.78" width="1.18" height="2.28" fill="#3eae72"/>
<rect x="161.30" y="17.50" width="1.18" height="2.28" fill="#3eae72"/>
<rect x="162.60" y="24.90" width="1.18" height="2.10" fill="#ee2a24"/>
<rect x="162.60" y="23.48" width="1.18" height="1.42" fill="#6cc0ec"/>
<rect x="162.60" y="22.05" width="1.18" height="1.42" fill="#1e1e1e"/>
<rect x="162.60" y="20.92" width="1.18" height="1.14" fill="#3eae72"/>
<rect x="162.60" y="19.78" width="1.18" height="1.14" fill="#3a78bf"/>
<rect x="162.60" y="18.64" width="1.18" height="1.14" fill="#3a78bf"/>
<rect x="162.60" y="17.50" width="1.18" height="1.14" fill="#3a78bf"/>
<rect x="163.90" y="24.90" width="1.18" height="2.10" fill="#4a86f0"/>
<rect x="163.90" y="22.59" width="1.18" height="2.31" fill="#6cc0ec"/>
<rect x="163.90" y="20.27" width="1.18" height="2.31" fill="#6cc0ec"/>
<rect x="163.90" y="17.96" width="1.18" height="2.31" fill="#6cc0ec"/>
<rect x="163.90" y="16.10" width="1.18" height="1.85" fill="#3eae72"/>
<rect x="163.90" y="14.25" width="1.18" height="1.85" fill="#3eae72"/>
<rect x="163.90" y="12.40" width="1.18" height="1.85" fill="#3a78bf"/>
<rect x="165.20" y="24.90" width="1.18" height="2.10" fill="#4a86f0"/>
<rect x="165.20" y="23.67" width="1.18" height="1.23" fill="#6cc0ec"/>
<rect x="165.20" y="22.45" width="1.18" height="1.23" fill="#6cc0ec"/>
<rect x="165.20" y="21.22" width="1.18" height="1.23" fill="#1e1e1e"/>
<rect x="165.20" y="19.99" width="1.18" height="1.23" fill="#1e1e1e"/>
<rect x="165.20" y="18.76" width="1.18" height="1.23" fill="#1e1e1e"/>
<rect x="165.20" y="17.78" width="1.18" height="0.98" fill="#3eae72"/>
<rect x="165.20" y="16.80" width="1.18" height="0.98" fill="#3eae72"/>
<rect x="166.50" y="24.90" width="1.18" height="2.10" fill="#2f7f46"/>
<rect x="166.50" y="23.14" width="1.18" height="1.76" fill="#cf6cb2"/>
<rect x="166.50" y="21.38" width="1.18" height="1.76" fill="#1e1e1e"/>
<rect x="166.50" y="19.62" width="1.18" height="1.76" fill="#1e1e1e"/>
<rect x="166.50" y="18.21" width="1.18" height="1.41" fill="#3eae72"/>
<rect x="166.50" y="16.80" width="1.18" height="1.41" fill="#3eae72"/>
<rect x="167.80" y="24.90" width="1.18" height="2.10" fill="#7c6c4e"/>
<rect x="167.80" y="22.19" width="1.18" height="2.71" fill="#cf6cb2"/>
<rect x="167.80" y="19.48" width="1.18" height="2.71" fill="#cf6cb2"/>
<rect x="167.80" y="16.77" width="1.18" height="2.71" fill="#1e1e1e"/>
<rect x="167.80" y="14.60" width="1.18" height="2.17" fill="#3eae72"/>
<rect x="169.10" y="24.90" width="1.18" height="2.10" fill="#2f7f46"/>
<rect x="169.10" y="22.92" width="1.18" height="1.98" fill="#1e1e1e"/>
<rect x="169.10" y="20.94" width="1.18" height="1.98" fill="#1e1e1e"/>
<rect x="169.10" y="19.35" width="1.18" height="1.58" fill="#3eae72"/>
<rect x="169.10" y="17.77" width="1.18" height="1.58" fill="#3eae72"/>
<rect x="169.10" y="16.18" width="1.18" height="1.58" fill="#3eae72"/>
<rect x="169.10" y="14.60" width="1.18" height="1.58" fill="#3a78bf"/>
<rect x="170.40" y="24.90" width="1.18" height="2.10" fill="#4a86f0"/>
<rect x="170.40" y="22.80" width="1.18" height="2.10" fill="#2f7f46"/>
<rect x="170.40" y="20.69" width="1.18" height="2.11" fill="#cf6cb2"/>
<rect x="170.40" y="18.59" width="1.18" height="2.11" fill="#1e1e1e"/>
<rect x="170.40" y="16.48" width="1.18" height="2.11" fill="#1e1e1e"/>
<rect x="170.40" y="14.37" width="1.18" height="2.11" fill="#1e1e1e"/>
<rect x="170.40" y="12.69" width="1.18" height="1.69" fill="#3eae72"/>
<rect x="170.40" y="11.00" width="1.18" height="1.69" fill="#3eae72"/>
<rect x="171.70" y="24.90" width="1.18" height="2.10" fill="#4a86f0"/>
<rect x="171.70" y="22.80" width="1.18" height="2.10" fill="#4a86f0"/>
<rect x="171.70" y="18.59" width="1.18" height="4.21" fill="#1e1e1e"/>
<rect x="171.70" y="14.37" width="1.18" height="4.21" fill="#1e1e1e"/>
<rect x="171.70" y="11.00" width="1.18" height="3.37" fill="#3eae72"/>
<rect x="173.00" y="24.90" width="1.18" height="2.10" fill="#4a86f0"/>
<rect x="173.00" y="22.87" width="1.18" height="2.03" fill="#cf6cb2"/>
<rect x="173.00" y="20.83" width="1.18" height="2.03" fill="#cf6cb2"/>
<rect x="173.00" y="18.80" width="1.18" height="2.03" fill="#cf6cb2"/>
<rect x="173.00" y="16.76" width="1.18" height="2.03" fill="#cf6cb2"/>
<rect x="173.00" y="14.73" width="1.18" height="2.03" fill="#6cc0ec"/>
<rect x="173.00" y="13.10" width="1.18" height="1.63" fill="#3eae72"/>
<rect x="174.30" y="24.90" width="1.18" height="2.10" fill="#2f7f46"/>
<rect x="174.30" y="22.80" width="1.18" height="2.10" fill="#e6a834"/>
<rect x="174.30" y="20.11" width="1.18" height="2.69" fill="#1e1e1e"/>
<rect x="174.30" y="17.41" width="1.18" height="2.69" fill="#1e1e1e"/>
<rect x="174.30" y="15.26" width="1.18" height="2.16" fill="#3eae72"/>
<rect x="174.30" y="13.10" width="1.18" height="2.16" fill="#3eae72"/>
<rect x="175.60" y="24.90" width="1.18" height="2.10" fill="#2f7f46"/>
<rect x="175.60" y="22.80" width="1.18" height="2.10" fill="#2f7f46"/>
<rect x="175.60" y="21.02" width="1.18" height="1.78" fill="#cf6cb2"/>
<rect x="175.60" y="19.23" width="1.18" height="1.78" fill="#6cc0ec"/>
<rect x="175.60" y="17.45" width="1.18" height="1.78" fill="#1e1e1e"/>
<rect x="175.60" y="16.03" width="1.18" height="1.43" fill="#3eae72"/>
<rect x="175.60" y="14.60" width="1.18" height="1.43" fill="#3eae72"/>
<rect x="176.90" y="24.90" width="1.18" height="2.10" fill="#2f7f46"/>
<rect x="176.90" y="22.19" width="1.18" height="2.71" fill="#d9bfe0"/>
<rect x="176.90" y="19.48" width="1.18" height="2.71" fill="#1e1e1e"/>
<rect x="176.90" y="16.77" width="1.18" height="2.71" fill="#1e1e1e"/>
<rect x="176.90" y="14.60" width="1.18" height="2.17" fill="#3eae72"/>
<rect x="178.20" y="24.90" width="1.18" height="2.10" fill="#2f7f46"/>
<rect x="178.20" y="22.71" width="1.18" height="2.19" fill="#1e1e1e"/>
<rect x="178.20" y="20.53" width="1.18" height="2.19" fill="#1e1e1e"/>
<rect x="178.20" y="18.34" width="1.18" height="2.19" fill="#1e1e1e"/>
<rect x="178.20" y="16.60" width="1.18" height="1.75" fill="#3eae72"/>
<rect x="178.20" y="14.85" width="1.18" height="1.75" fill="#3eae72"/>
<rect x="178.20" y="13.10" width="1.18" height="1.75" fill="#3eae72"/>
<rect x="179.50" y="24.90" width="1.18" height="2.10" fill="#2f7f46"/>
<rect x="179.50" y="23.06" width="1.18" height="1.84" fill="#6cc0ec"/>
<rect x="179.50" y="21.21" width="1.18" height="1.84" fill="#1e1e1e"/>
<rect x="179.50" y="19.37" width="1.18" height="1.84" fill="#1e1e1e"/>
<rect x="179.50" y="17.52" width="1.18" height="1.84" fill="#1e1e1e"/>
<rect x="179.50" y="16.05" width="1.18" height="1.48" fill="#3eae72"/>
<rect x="179.50" y="14.57" width="1.18" height="1.48" fill="#3eae72"/>
<rect x="179.50" y="13.10" width="1.18" height="1.47" fill="#3eae72"/>
<rect x="180.80" y="24.90" width="1.18" height="2.10" fill="#2f7f46"/>
<rect x="180.80" y="21.62" width="1.18" height="3.28" fill="#6cc0ec"/>
<rect x="180.80" y="18.34" width="1.18" height="3.28" fill="#1e1e1e"/>
<rect x="180.80" y="15.72" width="1.18" height="2.62" fill="#3eae72"/>
<rect x="180.80" y="13.10" width="1.18" height="2.62" fill="#3eae72"/>
<rect x="182.10" y="24.90" width="1.18" height="2.10" fill="#2f7f46"/>
<rect x="182.10" y="22.95" width="1.18" height="1.95" fill="#6cc0ec"/>
<rect x="182.10" y="21.01" width="1.18" height="1.95" fill="#1e1e1e"/>
<rect x="182.10" y="19.06" width="1.18" height="1.95" fill="#1e1e1e"/>
<rect x="182.10" y="17.50" width="1.18" height="1.56" fill="#3eae72"/>
<rect x="183.40" y="24.90" width="1.18" height="2.10" fill="#2f7f46"/>
<rect x="183.40" y="22.80" width="1.18" height="2.10" fill="#2f7f46"/>
<rect x="183.40" y="20.77" width="1.18" height="2.03" fill="#1e1e1e"/>
<rect x="183.40" y="18.73" width="1.18" height="2.03" fill="#1e1e1e"/>
<rect x="183.40" y="16.70" width="1.18" height="2.03" fill="#1e1e1e"/>
<rect x="183.40" y="14.66" width="1.18" height="2.03" fill="#1e1e1e"/>
<rect x="183.40" y="12.63" width="1.18" height="2.03" fill="#1e1e1e"/>
<rect x="183.40" y="11.00" width="1.18" height="1.63" fill="#3eae72"/>
<rect x="184.70" y="24.90" width="1.18" height="2.10" fill="#ee2a24"/>
<rect x="184.70" y="22.26" width="1.18" height="2.64" fill="#1e1e1e"/>
<rect x="184.70" y="19.61" width="1.18" height="2.64" fill="#1e1e1e"/>
<rect x="184.70" y="17.50" width="1.18" height="2.11" fill="#3eae72"/>
<rect x="186.00" y="24.90" width="1.18" height="2.10" fill="#2f7f46"/>
<rect x="186.00" y="22.26" width="1.18" height="2.64" fill="#1e1e1e"/>
<rect x="186.00" y="19.61" width="1.18" height="2.64" fill="#1e1e1e"/>
<rect x="186.00" y="17.50" width="1.18" height="2.11" fill="#3eae72"/>
<rect x="187.30" y="24.90" width="1.18" height="2.10" fill="#2f7f46"/>
<rect x="187.30" y="22.80" width="1.18" height="2.10" fill="#2f7f46"/>
<rect x="187.30" y="19.69" width="1.18" height="3.11" fill="#cf6cb2"/>
<rect x="187.30" y="16.59" width="1.18" height="3.11" fill="#1e1e1e"/>
<rect x="187.30" y="13.48" width="1.18" height="3.11" fill="#1e1e1e"/>
<rect x="187.30" y="11.00" width="1.18" height="2.48" fill="#3eae72"/>
<rect x="188.60" y="24.90" width="1.18" height="2.10" fill="#2f7f46"/>
<rect x="188.60" y="22.80" width="1.18" height="2.10" fill="#2f7f46"/>
<rect x="188.60" y="20.78" width="1.18" height="2.02" fill="#cf6cb2"/>
<rect x="188.60" y="18.76" width="1.18" height="2.02" fill="#cf6cb2"/>
<rect x="188.60" y="16.74" width="1.18" height="2.02" fill="#cf6cb2"/>
<rect x="188.60" y="14.72" width="1.18" height="2.02" fill="#6cc0ec"/>
<rect x="188.60" y="13.10" width="1.18" height="1.62" fill="#3a78bf"/>
<rect x="189.90" y="24.90" width="1.18" height="2.10" fill="#4a86f0"/>
<rect x="189.90" y="22.95" width="1.18" height="1.95" fill="#cf6cb2"/>
<rect x="189.90" y="21.01" width="1.18" height="1.95" fill="#6cc0ec"/>
<rect x="189.90" y="19.06" width="1.18" height="1.95" fill="#6cc0ec"/>
<rect x="189.90" y="17.50" width="1.18" height="1.56" fill="#3a78bf"/>
<rect x="191.20" y="24.90" width="1.18" height="2.10" fill="#2f7f46"/>
<rect x="191.20" y="23.36" width="1.18" height="1.54" fill="#d9bfe0"/>
<rect x="191.20" y="21.82" width="1.18" height="1.54" fill="#d9bfe0"/>
<rect x="191.20" y="20.27" width="1.18" height="1.54" fill="#6cc0ec"/>
<rect x="191.20" y="18.73" width="1.18" height="1.54" fill="#6cc0ec"/>
<rect x="191.20" y="17.50" width="1.18" height="1.23" fill="#3a78bf"/>
<rect x="192.50" y="24.90" width="1.18" height="2.10" fill="#2f7f46"/>
<rect x="192.50" y="22.80" width="1.18" height="2.10" fill="#e6a834"/>
<rect x="192.50" y="20.69" width="1.18" height="2.11" fill="#d9bfe0"/>
<rect x="192.50" y="18.58" width="1.18" height="2.11" fill="#6cc0ec"/>
<rect x="192.50" y="16.47" width="1.18" height="2.11" fill="#6cc0ec"/>
<rect x="192.50" y="14.79" width="1.18" height="1.69" fill="#3eae72"/>
<rect x="192.50" y="13.10" width="1.18" height="1.69" fill="#3eae72"/>
<rect x="193.80" y="24.90" width="1.18" height="2.10" fill="#eba48a"/>
<rect x="193.80" y="22.44" width="1.18" height="2.46" fill="#cf6cb2"/>
<rect x="193.80" y="19.98" width="1.18" height="2.46" fill="#1e1e1e"/>
<rect x="193.80" y="17.53" width="1.18" height="2.46" fill="#1e1e1e"/>
<rect x="193.80" y="15.07" width="1.18" height="2.46" fill="#1e1e1e"/>
<rect x="193.80" y="13.10" width="1.18" height="1.97" fill="#3eae72"/>
<rect x="195.10" y="24.90" width="1.18" height="2.10" fill="#2f7f46"/>
<rect x="195.10" y="22.50" width="1.18" height="2.40" fill="#d9bfe0"/>
<rect x="195.10" y="20.11" width="1.18" height="2.40" fill="#d9bfe0"/>
<rect x="195.10" y="17.71" width="1.18" height="2.40" fill="#1e1e1e"/>
<rect x="195.10" y="15.31" width="1.18" height="2.40" fill="#1e1e1e"/>
<rect x="195.10" y="12.92" width="1.18" height="2.40" fill="#1e1e1e"/>
<rect x="195.10" y="11.00" width="1.18" height="1.92" fill="#3a78bf"/>
<rect x="196.40" y="24.90" width="1.18" height="2.10" fill="#e6a834"/>
<rect x="196.40" y="22.80" width="1.18" height="2.10" fill="#ee2a24"/>
<rect x="196.40" y="20.15" width="1.18" height="2.65" fill="#1e1e1e"/>
<rect x="196.40" y="17.50" width="1.18" height="2.65" fill="#1e1e1e"/>
<rect x="197.70" y="24.90" width="1.18" height="2.10" fill="#2f7f46"/>
<rect x="197.70" y="22.33" width="1.18" height="2.57" fill="#d9bfe0"/>
<rect x="197.70" y="19.75" width="1.18" height="2.57" fill="#1e1e1e"/>
<rect x="197.70" y="17.18" width="1.18" height="2.57" fill="#1e1e1e"/>
<rect x="197.70" y="15.12" width="1.18" height="2.06" fill="#3eae72"/>
<rect x="197.70" y="13.06" width="1.18" height="2.06" fill="#3eae72"/>
<rect x="197.70" y="11.00" width="1.18" height="2.06" fill="#3eae72"/>
<rect x="199.00" y="24.90" width="1.18" height="2.10" fill="#2f7f46"/>
<rect x="199.00" y="22.33" width="1.18" height="2.57" fill="#cf6cb2"/>
<rect x="199.00" y="19.75" width="1.18" height="2.57" fill="#6cc0ec"/>
<rect x="199.00" y="17.18" width="1.18" height="2.57" fill="#1e1e1e"/>
<rect x="199.00" y="15.12" width="1.18" height="2.06" fill="#3eae72"/>
<rect x="199.00" y="13.06" width="1.18" height="2.06" fill="#3eae72"/>
<rect x="199.00" y="11.00" width="1.18" height="2.06" fill="#3eae72"/>
<rect x="200.30" y="24.90" width="1.18" height="2.10" fill="#1e1e1e"/>
<rect x="200.30" y="22.59" width="1.18" height="2.31" fill="#cf6cb2"/>
<rect x="200.30" y="20.27" width="1.18" height="2.31" fill="#cf6cb2"/>
<rect x="200.30" y="17.96" width="1.18" height="2.31" fill="#d9bfe0"/>
<rect x="200.30" y="16.10" width="1.18" height="1.85" fill="#3eae72"/>
<rect x="200.30" y="14.25" width="1.18" height="1.85" fill="#3eae72"/>
<rect x="200.30" y="12.40" width="1.18" height="1.85" fill="#3eae72"/>
<rect x="201.60" y="24.90" width="1.18" height="2.10" fill="#2f7f46"/>
<rect x="201.60" y="22.04" width="1.18" height="2.86" fill="#1e1e1e"/>
<rect x="201.60" y="19.18" width="1.18" height="2.86" fill="#1e1e1e"/>
<rect x="201.60" y="16.89" width="1.18" height="2.29" fill="#3eae72"/>
<rect x="201.60" y="14.60" width="1.18" height="2.29" fill="#3a78bf"/>
<rect x="202.90" y="24.90" width="1.18" height="2.10" fill="#2f7f46"/>
<rect x="202.90" y="22.80" width="1.18" height="2.10" fill="#1e1e1e"/>
<rect x="202.90" y="21.17" width="1.18" height="1.63" fill="#cf6cb2"/>
<rect x="202.90" y="19.54" width="1.18" height="1.63" fill="#1e1e1e"/>
<rect x="202.90" y="17.91" width="1.18" height="1.63" fill="#1e1e1e"/>
<rect x="202.90" y="16.60" width="1.18" height="1.30" fill="#3eae72"/>
<rect x="202.90" y="15.30" width="1.18" height="1.30" fill="#3eae72"/>
<rect x="204.20" y="24.90" width="1.18" height="2.10" fill="#2f7f46"/>
<rect x="204.20" y="21.47" width="1.18" height="3.43" fill="#1e1e1e"/>
<rect x="204.20" y="18.04" width="1.18" height="3.43" fill="#1e1e1e"/>
<rect x="204.20" y="15.30" width="1.18" height="2.74" fill="#3eae72"/>
<rect x="205.50" y="24.90" width="1.18" height="2.10" fill="#4a86f0"/>
<rect x="205.50" y="22.80" width="1.18" height="2.10" fill="#4a86f0"/>
<rect x="205.50" y="19.86" width="1.18" height="2.94" fill="#d9bfe0"/>
<rect x="205.50" y="17.50" width="1.18" height="2.36" fill="#3eae72"/>
<rect x="206.80" y="24.90" width="1.18" height="2.10" fill="#e6a834"/>
<rect x="206.80" y="22.80" width="1.18" height="2.10" fill="#1e1e1e"/>
<rect x="206.80" y="20.25" width="1.18" height="2.55" fill="#cf6cb2"/>
<rect x="206.80" y="17.69" width="1.18" height="2.55" fill="#cf6cb2"/>
<rect x="206.80" y="15.14" width="1.18" height="2.55" fill="#1e1e1e"/>
<rect x="206.80" y="13.10" width="1.18" height="2.04" fill="#3eae72"/>
<rect x="208.10" y="24.90" width="1.18" height="2.10" fill="#2f7f46"/>
<rect x="208.10" y="22.80" width="1.18" height="2.10" fill="#1e1e1e"/>
<rect x="208.10" y="20.78" width="1.18" height="2.02" fill="#cf6cb2"/>
<rect x="208.10" y="18.76" width="1.18" height="2.02" fill="#cf6cb2"/>
<rect x="208.10" y="16.74" width="1.18" height="2.02" fill="#6cc0ec"/>
<rect x="208.10" y="14.72" width="1.18" height="2.02" fill="#1e1e1e"/>
<rect x="208.10" y="13.10" width="1.18" height="1.62" fill="#3eae72"/>
<rect x="209.40" y="24.90" width="1.18" height="2.10" fill="#4a86f0"/>
<rect x="209.40" y="22.90" width="1.18" height="2.00" fill="#d9bfe0"/>
<rect x="209.40" y="20.90" width="1.18" height="2.00" fill="#1e1e1e"/>
<rect x="209.40" y="18.90" width="1.18" height="2.00" fill="#1e1e1e"/>
<rect x="209.40" y="16.90" width="1.18" height="2.00" fill="#1e1e1e"/>
<rect x="209.40" y="15.30" width="1.18" height="1.60" fill="#3eae72"/>
<rect x="210.70" y="24.90" width="1.18" height="2.10" fill="#2f7f46"/>
<rect x="210.70" y="22.80" width="1.18" height="2.10" fill="#2f7f46"/>
<rect x="210.70" y="20.12" width="1.18" height="2.68" fill="#1e1e1e"/>
<rect x="210.70" y="17.44" width="1.18" height="2.68" fill="#1e1e1e"/>
<rect x="210.70" y="15.30" width="1.18" height="2.14" fill="#3a78bf"/>
<rect x="212.00" y="24.90" width="1.18" height="2.10" fill="#ee2a24"/>
<rect x="212.00" y="22.93" width="1.18" height="1.97" fill="#1e1e1e"/>
<rect x="212.00" y="20.97" width="1.18" height="1.97" fill="#1e1e1e"/>
<rect x="212.00" y="19.00" width="1.18" height="1.97" fill="#1e1e1e"/>
<rect x="213.30" y="24.90" width="1.18" height="2.10" fill="#4a86f0"/>
<rect x="213.30" y="23.05" width="1.18" height="1.85" fill="#1e1e1e"/>
<rect x="213.30" y="21.20" width="1.18" height="1.85" fill="#1e1e1e"/>
<rect x="214.60" y="24.90" width="1.18" height="2.10" fill="#2f7f46"/>
<rect x="214.60" y="23.05" width="1.18" height="1.85" fill="#6cc0ec"/>
<rect x="214.60" y="21.20" width="1.18" height="1.85" fill="#1e1e1e"/>
<rect x="215.90" y="24.90" width="1.18" height="2.10" fill="#4a86f0"/>
<rect x="215.90" y="23.05" width="1.18" height="1.85" fill="#1e1e1e"/>
<rect x="215.90" y="21.20" width="1.18" height="1.85" fill="#1e1e1e"/>
<rect x="217.20" y="24.90" width="1.18" height="2.10" fill="#2f7f46"/>
<rect x="217.20" y="23.05" width="1.18" height="1.85" fill="#1e1e1e"/>
<rect x="217.20" y="21.20" width="1.18" height="1.85" fill="#1e1e1e"/>
<rect x="218.50" y="24.90" width="1.18" height="2.10" fill="#2f7f46"/>
<rect x="218.50" y="23.05" width="1.18" height="1.85" fill="#1e1e1e"/>
<rect x="218.50" y="21.20" width="1.18" height="1.85" fill="#1e1e1e"/>
<rect x="219.80" y="24.90" width="1.18" height="2.10" fill="#2f7f46"/>
<rect x="219.80" y="23.05" width="1.18" height="1.85" fill="#1e1e1e"/>
<rect x="219.80" y="21.20" width="1.18" height="1.85" fill="#1e1e1e"/>
<rect x="221.10" y="24.90" width="1.18" height="2.10" fill="#2f7f46"/>
<rect x="221.10" y="22.84" width="1.18" height="2.06" fill="#cf6cb2"/>
<rect x="221.10" y="21.20" width="1.18" height="1.64" fill="#3a78bf"/>
<rect x="222.40" y="24.90" width="1.18" height="2.10" fill="#2f7f46"/>
<rect x="222.40" y="22.80" width="1.18" height="2.10" fill="#4a86f0"/>
<rect x="222.40" y="20.78" width="1.18" height="2.02" fill="#cf6cb2"/>
<rect x="222.40" y="18.76" width="1.18" height="2.02" fill="#cf6cb2"/>
<rect x="222.40" y="16.74" width="1.18" height="2.02" fill="#cf6cb2"/>
<rect x="222.40" y="14.72" width="1.18" height="2.02" fill="#1e1e1e"/>
<rect x="222.40" y="13.10" width="1.18" height="1.62" fill="#3eae72"/>
<rect x="223.70" y="24.90" width="1.18" height="2.10" fill="#ee2a24"/>
<rect x="223.70" y="22.87" width="1.18" height="2.03" fill="#cf6cb2"/>
<rect x="223.70" y="20.83" width="1.18" height="2.03" fill="#cf6cb2"/>
<rect x="223.70" y="18.80" width="1.18" height="2.03" fill="#1e1e1e"/>
<rect x="223.70" y="16.76" width="1.18" height="2.03" fill="#1e1e1e"/>
<rect x="223.70" y="14.73" width="1.18" height="2.03" fill="#1e1e1e"/>
<rect x="223.70" y="13.10" width="1.18" height="1.63" fill="#3eae72"/>
<rect x="225.00" y="24.90" width="1.18" height="2.10" fill="#2f7f46"/>
<rect x="225.00" y="21.47" width="1.18" height="3.43" fill="#cf6cb2"/>
<rect x="225.00" y="18.04" width="1.18" height="3.43" fill="#1e1e1e"/>
<rect x="225.00" y="15.30" width="1.18" height="2.74" fill="#3eae72"/>
<rect x="226.30" y="24.90" width="1.18" height="2.10" fill="#2f7f46"/>
<rect x="226.30" y="22.80" width="1.18" height="2.10" fill="#2f7f46"/>
<rect x="226.30" y="18.26" width="1.18" height="4.54" fill="#d9bfe0"/>
<rect x="226.30" y="14.63" width="1.18" height="3.63" fill="#3eae72"/>
<rect x="226.30" y="11.00" width="1.18" height="3.63" fill="#3a78bf"/>
<rect x="227.60" y="24.90" width="1.18" height="2.10" fill="#2f7f46"/>
<rect x="227.60" y="22.80" width="1.18" height="2.10" fill="#7c6c4e"/>
<rect x="227.60" y="20.77" width="1.18" height="2.03" fill="#cf6cb2"/>
<rect x="227.60" y="18.73" width="1.18" height="2.03" fill="#cf6cb2"/>
<rect x="227.60" y="16.70" width="1.18" height="2.03" fill="#cf6cb2"/>
<rect x="227.60" y="14.66" width="1.18" height="2.03" fill="#6cc0ec"/>
<rect x="227.60" y="12.63" width="1.18" height="2.03" fill="#1e1e1e"/>
<rect x="227.60" y="11.00" width="1.18" height="1.63" fill="#3eae72"/>
<rect x="228.90" y="24.90" width="1.18" height="2.10" fill="#e6a834"/>
<rect x="228.90" y="22.80" width="1.18" height="2.10" fill="#2f7f46"/>
<rect x="228.90" y="18.63" width="1.18" height="4.17" fill="#1e1e1e"/>
<rect x="228.90" y="15.30" width="1.18" height="3.33" fill="#3eae72"/>
<rect x="230.20" y="24.90" width="1.18" height="2.10" fill="#2f7f46"/>
<rect x="230.20" y="22.08" width="1.18" height="2.82" fill="#1e1e1e"/>
<rect x="230.20" y="19.82" width="1.18" height="2.26" fill="#3eae72"/>
<rect x="230.20" y="17.56" width="1.18" height="2.26" fill="#3eae72"/>
<rect x="230.20" y="15.30" width="1.18" height="2.26" fill="#3eae72"/>
<rect x="231.50" y="24.90" width="1.18" height="2.10" fill="#2f7f46"/>
<rect x="231.50" y="22.80" width="1.18" height="2.10" fill="#2f7f46"/>
<rect x="231.50" y="20.50" width="1.18" height="2.30" fill="#3eae72"/>
<rect x="231.50" y="18.20" width="1.18" height="2.30" fill="#3eae72"/>
<rect x="232.80" y="24.90" width="1.18" height="2.10" fill="#e6a834"/>
<rect x="232.80" y="22.51" width="1.18" height="2.39" fill="#6cc0ec"/>
<rect x="232.80" y="20.11" width="1.18" height="2.39" fill="#1e1e1e"/>
<rect x="232.80" y="18.20" width="1.18" height="1.91" fill="#3eae72"/>
<rect x="234.10" y="24.90" width="1.18" height="2.10" fill="#2f7f46"/>
<rect x="234.10" y="21.22" width="1.18" height="3.68" fill="#cf6cb2"/>
<rect x="234.10" y="17.54" width="1.18" height="3.68" fill="#d9bfe0"/>
<rect x="234.10" y="14.60" width="1.18" height="2.94" fill="#3a78bf"/>
<rect x="235.40" y="24.90" width="1.18" height="2.10" fill="#2f7f46"/>
<rect x="235.40" y="22.75" width="1.18" height="2.15" fill="#6cc0ec"/>
<rect x="235.40" y="20.61" width="1.18" height="2.15" fill="#1e1e1e"/>
<rect x="235.40" y="18.46" width="1.18" height="2.15" fill="#1e1e1e"/>
<rect x="235.40" y="16.32" width="1.18" height="2.15" fill="#1e1e1e"/>
<rect x="235.40" y="14.60" width="1.18" height="1.72" fill="#3eae72"/>
<rect x="236.70" y="24.90" width="1.18" height="2.10" fill="#ee2a24"/>
<rect x="236.70" y="22.80" width="1.18" height="2.10" fill="#1e1e1e"/>
<rect x="236.70" y="19.87" width="1.18" height="2.93" fill="#1e1e1e"/>
<rect x="236.70" y="16.94" width="1.18" height="2.93" fill="#1e1e1e"/>
<rect x="236.70" y="14.60" width="1.18" height="2.34" fill="#3eae72"/>
<rect x="238.00" y="24.90" width="1.18" height="2.10" fill="#2f7f46"/>
<rect x="238.00" y="23.26" width="1.18" height="1.64" fill="#6cc0ec"/>
<rect x="238.00" y="21.62" width="1.18" height="1.64" fill="#1e1e1e"/>
<rect x="238.00" y="20.31" width="1.18" height="1.31" fill="#3eae72"/>
<rect x="238.00" y="19.00" width="1.18" height="1.31" fill="#3eae72"/>
<rect x="239.30" y="24.90" width="1.18" height="2.10" fill="#2f7f46"/>
<rect x="239.30" y="20.40" width="1.18" height="4.50" fill="#6cc0ec"/>
<rect x="239.30" y="16.80" width="1.18" height="3.60" fill="#3a78bf"/>
<rect x="240.60" y="24.90" width="1.18" height="2.10" fill="#e6a834"/>
<rect x="240.60" y="23.21" width="1.18" height="1.69" fill="#6cc0ec"/>
<rect x="240.60" y="21.52" width="1.18" height="1.69" fill="#6cc0ec"/>
<rect x="240.60" y="19.84" width="1.18" height="1.69" fill="#1e1e1e"/>
<rect x="240.60" y="18.15" width="1.18" height="1.69" fill="#1e1e1e"/>
<rect x="240.60" y="16.80" width="1.18" height="1.35" fill="#3eae72"/>
<rect x="241.90" y="24.90" width="1.18" height="2.10" fill="#2f7f46"/>
<rect x="241.90" y="22.80" width="1.18" height="2.10" fill="#4a86f0"/>
<rect x="241.90" y="19.70" width="1.18" height="3.10" fill="#d9bfe0"/>
<rect x="243.20" y="24.90" width="1.18" height="2.10" fill="#2f7f46"/>
<rect x="243.20" y="19.70" width="1.18" height="5.20" fill="#d9bfe0"/>
<rect x="244.50" y="24.90" width="1.18" height="2.10" fill="#2f7f46"/>
<rect x="244.50" y="19.70" width="1.18" height="5.20" fill="#d9bfe0"/>
<rect x="245.80" y="24.90" width="1.18" height="2.10" fill="#2f7f46"/>
<rect x="245.80" y="22.80" width="1.18" height="2.10" fill="#2f7f46"/>
<rect x="245.80" y="20.11" width="1.18" height="2.69" fill="#cf6cb2"/>
<rect x="245.80" y="17.42" width="1.18" height="2.69" fill="#1e1e1e"/>
<rect x="245.80" y="15.26" width="1.18" height="2.15" fill="#3eae72"/>
<rect x="245.80" y="13.11" width="1.18" height="2.15" fill="#3eae72"/>
<rect x="245.80" y="10.95" width="1.18" height="2.15" fill="#3a78bf"/>
<rect x="245.80" y="8.80" width="1.18" height="2.15" fill="#3a78bf"/>
<rect x="247.10" y="24.90" width="1.18" height="2.10" fill="#2f7f46"/>
<rect x="247.10" y="22.80" width="1.18" height="2.10" fill="#2f7f46"/>
<rect x="247.10" y="20.11" width="1.18" height="2.69" fill="#cf6cb2"/>
<rect x="247.10" y="17.42" width="1.18" height="2.69" fill="#1e1e1e"/>
<rect x="247.10" y="15.26" width="1.18" height="2.15" fill="#3eae72"/>
<rect x="247.10" y="13.11" width="1.18" height="2.15" fill="#3a78bf"/>
<rect x="247.10" y="10.95" width="1.18" height="2.15" fill="#3a78bf"/>
<rect x="247.10" y="8.80" width="1.18" height="2.15" fill="#3a78bf"/>
<rect x="248.40" y="24.90" width="1.18" height="2.10" fill="#1e1e1e"/>
<rect x="248.40" y="23.63" width="1.18" height="1.27" fill="#1e1e1e"/>
<rect x="248.40" y="22.37" width="1.18" height="1.27" fill="#1e1e1e"/>
<rect x="248.40" y="21.10" width="1.18" height="1.27" fill="#1e1e1e"/>
<rect x="248.40" y="19.84" width="1.18" height="1.27" fill="#1e1e1e"/>
<rect x="248.40" y="18.82" width="1.18" height="1.01" fill="#3eae72"/>
<rect x="248.40" y="17.81" width="1.18" height="1.01" fill="#3eae72"/>
<rect x="248.40" y="16.80" width="1.18" height="1.01" fill="#3eae72"/>
<rect x="249.70" y="24.90" width="1.18" height="2.10" fill="#2f7f46"/>
<rect x="249.70" y="22.93" width="1.18" height="1.97" fill="#1e1e1e"/>
<rect x="249.70" y="21.35" width="1.18" height="1.58" fill="#3eae72"/>
<rect x="249.70" y="19.78" width="1.18" height="1.58" fill="#3eae72"/>
<rect x="249.70" y="18.20" width="1.18" height="1.58" fill="#3eae72"/>
<rect x="251.00" y="24.90" width="1.18" height="2.10" fill="#2f7f46"/>
<rect x="251.00" y="22.04" width="1.18" height="2.86" fill="#cf6cb2"/>
<rect x="251.00" y="19.18" width="1.18" height="2.86" fill="#1e1e1e"/>
<rect x="251.00" y="16.89" width="1.18" height="2.29" fill="#3a78bf"/>
<rect x="251.00" y="14.60" width="1.18" height="2.29" fill="#3a78bf"/>
<rect x="252.30" y="24.90" width="1.18" height="2.10" fill="#2f7f46"/>
<rect x="252.30" y="21.87" width="1.18" height="3.03" fill="#1e1e1e"/>
<rect x="252.30" y="19.45" width="1.18" height="2.42" fill="#3a78bf"/>
<rect x="252.30" y="17.02" width="1.18" height="2.42" fill="#3a78bf"/>
<rect x="252.30" y="14.60" width="1.18" height="2.42" fill="#3a78bf"/>
<rect x="253.60" y="24.90" width="1.18" height="2.10" fill="#2f7f46"/>
<rect x="253.60" y="23.90" width="1.18" height="1.00" fill="#cf6cb2"/>
<rect x="253.60" y="22.90" width="1.18" height="1.00" fill="#cf6cb2"/>
<rect x="253.60" y="21.90" width="1.18" height="1.00" fill="#6cc0ec"/>
<rect x="253.60" y="20.90" width="1.18" height="1.00" fill="#1e1e1e"/>
<rect x="253.60" y="19.90" width="1.18" height="1.00" fill="#1e1e1e"/>
<rect x="253.60" y="19.10" width="1.18" height="0.80" fill="#3eae72"/>
<rect x="253.60" y="18.30" width="1.18" height="0.80" fill="#3eae72"/>
<rect x="253.60" y="17.50" width="1.18" height="0.80" fill="#3a78bf"/>
<rect x="254.90" y="24.90" width="1.18" height="2.10" fill="#2f7f46"/>
<rect x="254.90" y="22.80" width="1.18" height="2.10" fill="#e6a834"/>
<rect x="254.90" y="20.44" width="1.18" height="2.36" fill="#cf6cb2"/>
<rect x="254.90" y="18.07" width="1.18" height="2.36" fill="#cf6cb2"/>
<rect x="254.90" y="16.18" width="1.18" height="1.89" fill="#3a78bf"/>
<rect x="254.90" y="14.29" width="1.18" height="1.89" fill="#3a78bf"/>
<rect x="254.90" y="12.40" width="1.18" height="1.89" fill="#3a78bf"/>
<rect x="256.20" y="24.90" width="1.18" height="2.10" fill="#2f7f46"/>
<rect x="256.20" y="23.22" width="1.18" height="1.68" fill="#cf6cb2"/>
<rect x="256.20" y="21.54" width="1.18" height="1.68" fill="#cf6cb2"/>
<rect x="256.20" y="20.19" width="1.18" height="1.35" fill="#3eae72"/>
<rect x="256.20" y="18.85" width="1.18" height="1.35" fill="#3eae72"/>
<rect x="256.20" y="17.50" width="1.18" height="1.35" fill="#3a78bf"/>
<rect x="257.50" y="24.90" width="1.18" height="2.10" fill="#2f7f46"/>
<rect x="257.50" y="20.40" width="1.18" height="4.50" fill="#1e1e1e"/>
<rect x="258.80" y="24.90" width="1.18" height="2.10" fill="#2f7f46"/>
<rect x="258.80" y="20.79" width="1.18" height="4.11" fill="#cf6cb2"/>
<rect x="258.80" y="17.50" width="1.18" height="3.29" fill="#3a78bf"/>
<rect x="260.10" y="24.90" width="1.18" height="2.10" fill="#2f7f46"/>
<rect x="260.10" y="22.72" width="1.18" height="2.18" fill="#6cc0ec"/>
<rect x="260.10" y="20.98" width="1.18" height="1.74" fill="#3eae72"/>
<rect x="260.10" y="19.24" width="1.18" height="1.74" fill="#3a78bf"/>
<rect x="260.10" y="17.50" width="1.18" height="1.74" fill="#3a78bf"/>
<rect x="261.40" y="24.90" width="1.18" height="2.10" fill="#2f7f46"/>
<rect x="261.40" y="23.28" width="1.18" height="1.62" fill="#cf6cb2"/>
<rect x="261.40" y="21.67" width="1.18" height="1.62" fill="#cf6cb2"/>
<rect x="261.40" y="20.05" width="1.18" height="1.62" fill="#1e1e1e"/>
<rect x="261.40" y="18.76" width="1.18" height="1.29" fill="#3eae72"/>
<rect x="261.40" y="17.47" width="1.18" height="1.29" fill="#3eae72"/>
<rect x="261.40" y="16.17" width="1.18" height="1.29" fill="#3eae72"/>
<rect x="261.40" y="14.88" width="1.18" height="1.29" fill="#3a78bf"/>
<rect x="261.40" y="13.59" width="1.18" height="1.29" fill="#3a78bf"/>
<rect x="261.40" y="12.29" width="1.18" height="1.29" fill="#3a78bf"/>
<rect x="261.40" y="11.00" width="1.18" height="1.29" fill="#3a78bf"/>
<rect x="262.70" y="24.90" width="1.18" height="2.10" fill="#e6a834"/>
<rect x="262.70" y="22.36" width="1.18" height="2.54" fill="#cf6cb2"/>
<rect x="262.70" y="19.82" width="1.18" height="2.54" fill="#cf6cb2"/>
<rect x="262.70" y="17.28" width="1.18" height="2.54" fill="#1e1e1e"/>
<rect x="262.70" y="14.73" width="1.18" height="2.54" fill="#1e1e1e"/>
<rect x="262.70" y="12.70" width="1.18" height="2.03" fill="#3eae72"/>
<rect x="262.70" y="10.67" width="1.18" height="2.03" fill="#3a78bf"/>
<rect x="262.70" y="8.63" width="1.18" height="2.03" fill="#3a78bf"/>
<rect x="262.70" y="6.60" width="1.18" height="2.03" fill="#3a78bf"/>
<rect x="264.00" y="24.90" width="1.18" height="2.10" fill="#2f7f46"/>
<rect x="264.00" y="21.95" width="1.18" height="2.95" fill="#cf6cb2"/>
<rect x="264.00" y="19.00" width="1.18" height="2.95" fill="#d9bfe0"/>
<rect x="264.00" y="16.05" width="1.18" height="2.95" fill="#6cc0ec"/>
<rect x="264.00" y="13.68" width="1.18" height="2.36" fill="#3eae72"/>
<rect x="264.00" y="11.32" width="1.18" height="2.36" fill="#3eae72"/>
<rect x="264.00" y="8.96" width="1.18" height="2.36" fill="#3a78bf"/>
<rect x="264.00" y="6.60" width="1.18" height="2.36" fill="#3a78bf"/>
<rect x="265.30" y="24.90" width="1.18" height="2.10" fill="#2f7f46"/>
<rect x="265.30" y="22.80" width="1.18" height="2.10" fill="#2f7f46"/>
<rect x="265.30" y="20.74" width="1.18" height="2.06" fill="#6cc0ec"/>
<rect x="265.30" y="18.68" width="1.18" height="2.06" fill="#1e1e1e"/>
<rect x="265.30" y="17.04" width="1.18" height="1.65" fill="#3eae72"/>
<rect x="265.30" y="15.39" width="1.18" height="1.65" fill="#3eae72"/>
<rect x="265.30" y="13.74" width="1.18" height="1.65" fill="#3eae72"/>
<rect x="265.30" y="12.09" width="1.18" height="1.65" fill="#3a78bf"/>
<rect x="265.30" y="10.45" width="1.18" height="1.65" fill="#3a78bf"/>
<rect x="265.30" y="8.80" width="1.18" height="1.65" fill="#3a78bf"/>
<rect x="266.60" y="24.90" width="1.18" height="2.10" fill="#ee2a24"/>
<rect x="266.60" y="22.80" width="1.18" height="2.10" fill="#e6a834"/>
<rect x="266.60" y="20.77" width="1.18" height="2.03" fill="#6cc0ec"/>
<rect x="266.60" y="19.14" width="1.18" height="1.63" fill="#3eae72"/>
<rect x="266.60" y="17.51" width="1.18" height="1.63" fill="#3eae72"/>
<rect x="266.60" y="15.88" width="1.18" height="1.63" fill="#3eae72"/>
<rect x="266.60" y="14.26" width="1.18" height="1.63" fill="#3eae72"/>
<rect x="266.60" y="12.63" width="1.18" height="1.63" fill="#3a78bf"/>
<rect x="266.60" y="11.00" width="1.18" height="1.63" fill="#3a78bf"/>
<rect x="267.90" y="24.90" width="1.18" height="2.10" fill="#2f7f46"/>
<rect x="267.90" y="22.54" width="1.18" height="2.36" fill="#1e1e1e"/>
<rect x="267.90" y="20.65" width="1.18" height="1.89" fill="#3eae72"/>
<rect x="267.90" y="18.76" width="1.18" height="1.89" fill="#3eae72"/>
<rect x="267.90" y="16.88" width="1.18" height="1.89" fill="#3eae72"/>
<rect x="267.90" y="14.99" width="1.18" height="1.89" fill="#3eae72"/>
<rect x="267.90" y="13.10" width="1.18" height="1.89" fill="#3a78bf"/>
<rect x="269.20" y="24.90" width="1.18" height="2.10" fill="#7c6c4e"/>
<rect x="269.20" y="23.42" width="1.18" height="1.48" fill="#d9bfe0"/>
<rect x="269.20" y="22.24" width="1.18" height="1.18" fill="#3eae72"/>
<rect x="269.20" y="21.05" width="1.18" height="1.18" fill="#3eae72"/>
<rect x="269.20" y="19.87" width="1.18" height="1.18" fill="#3eae72"/>
<rect x="269.20" y="18.68" width="1.18" height="1.18" fill="#3eae72"/>
<rect x="269.20" y="17.50" width="1.18" height="1.18" fill="#3eae72"/>
<rect x="270.50" y="24.90" width="1.18" height="2.10" fill="#2f7f46"/>
<rect x="270.50" y="22.80" width="1.18" height="2.10" fill="#ee2a24"/>
<rect x="270.50" y="21.89" width="1.18" height="0.91" fill="#d9bfe0"/>
<rect x="270.50" y="21.16" width="1.18" height="0.73" fill="#3eae72"/>
<rect x="270.50" y="20.42" width="1.18" height="0.73" fill="#3eae72"/>
<rect x="270.50" y="19.69" width="1.18" height="0.73" fill="#3a78bf"/>
<rect x="270.50" y="18.96" width="1.18" height="0.73" fill="#3a78bf"/>
<rect x="270.50" y="18.23" width="1.18" height="0.73" fill="#3a78bf"/>
<rect x="270.50" y="17.50" width="1.18" height="0.73" fill="#3a78bf"/>
<rect x="271.80" y="24.90" width="1.18" height="2.10" fill="#2f7f46"/>
<rect x="271.80" y="21.80" width="1.18" height="3.10" fill="#6cc0ec"/>
<rect x="271.80" y="18.71" width="1.18" height="3.10" fill="#1e1e1e"/>
<rect x="271.80" y="16.23" width="1.18" height="2.48" fill="#3eae72"/>
<rect x="271.80" y="13.75" width="1.18" height="2.48" fill="#3eae72"/>
<rect x="271.80" y="11.28" width="1.18" height="2.48" fill="#3eae72"/>
<rect x="271.80" y="8.80" width="1.18" height="2.48" fill="#3eae72"/>
<rect x="273.10" y="24.90" width="1.18" height="2.10" fill="#2f7f46"/>
<rect x="273.10" y="23.12" width="1.18" height="1.78" fill="#cf6cb2"/>
<rect x="273.10" y="21.70" width="1.18" height="1.42" fill="#3eae72"/>
<rect x="273.10" y="20.27" width="1.18" height="1.42" fill="#3eae72"/>
<rect x="273.10" y="18.85" width="1.18" height="1.42" fill="#3eae72"/>
<rect x="273.10" y="17.42" width="1.18" height="1.42" fill="#3a78bf"/>
<rect x="273.10" y="16.00" width="1.18" height="1.42" fill="#3a78bf"/>
<rect x="274.40" y="24.90" width="1.18" height="2.10" fill="#2f7f46"/>
<rect x="274.40" y="22.91" width="1.18" height="1.99" fill="#d9bfe0"/>
<rect x="274.40" y="20.93" width="1.18" height="1.99" fill="#d9bfe0"/>
<rect x="274.40" y="18.94" width="1.18" height="1.99" fill="#1e1e1e"/>
<rect x="274.40" y="17.35" width="1.18" height="1.59" fill="#3eae72"/>
<rect x="274.40" y="15.77" width="1.18" height="1.59" fill="#3eae72"/>
<rect x="274.40" y="14.18" width="1.18" height="1.59" fill="#3eae72"/>
<rect x="274.40" y="12.59" width="1.18" height="1.59" fill="#3eae72"/>
<rect x="274.40" y="11.00" width="1.18" height="1.59" fill="#3eae72"/>
<rect x="275.70" y="24.90" width="1.18" height="2.10" fill="#4a86f0"/>
<rect x="275.70" y="22.23" width="1.18" height="2.67" fill="#d9bfe0"/>
<rect x="275.70" y="19.55" width="1.18" height="2.67" fill="#6cc0ec"/>
<rect x="275.70" y="17.42" width="1.18" height="2.14" fill="#3eae72"/>
<rect x="275.70" y="15.28" width="1.18" height="2.14" fill="#3eae72"/>
<rect x="275.70" y="13.14" width="1.18" height="2.14" fill="#3eae72"/>
<rect x="275.70" y="11.00" width="1.18" height="2.14" fill="#3a78bf"/>
<rect x="277.00" y="24.90" width="1.18" height="2.10" fill="#4a86f0"/>
<rect x="277.00" y="22.80" width="1.18" height="2.10" fill="#2f7f46"/>
<rect x="277.00" y="21.06" width="1.18" height="1.74" fill="#cf6cb2"/>
<rect x="277.00" y="19.33" width="1.18" height="1.74" fill="#6cc0ec"/>
<rect x="277.00" y="17.94" width="1.18" height="1.39" fill="#3eae72"/>
<rect x="277.00" y="16.55" width="1.18" height="1.39" fill="#3eae72"/>
<rect x="277.00" y="15.16" width="1.18" height="1.39" fill="#3eae72"/>
<rect x="277.00" y="13.78" width="1.18" height="1.39" fill="#3eae72"/>
<rect x="277.00" y="12.39" width="1.18" height="1.39" fill="#3eae72"/>
<rect x="277.00" y="11.00" width="1.18" height="1.39" fill="#3eae72"/>
<rect x="278.30" y="24.90" width="1.18" height="2.10" fill="#2f7f46"/>
<rect x="278.30" y="22.80" width="1.18" height="2.10" fill="#eba48a"/>
<rect x="278.30" y="20.44" width="1.18" height="2.36" fill="#6cc0ec"/>
<rect x="278.30" y="18.55" width="1.18" height="1.89" fill="#3eae72"/>
<rect x="278.30" y="16.66" width="1.18" height="1.89" fill="#3eae72"/>
<rect x="278.30" y="14.78" width="1.18" height="1.89" fill="#3eae72"/>
<rect x="278.30" y="12.89" width="1.18" height="1.89" fill="#3eae72"/>
<rect x="278.30" y="11.00" width="1.18" height="1.89" fill="#3a78bf"/>
<rect x="279.60" y="24.90" width="1.18" height="2.10" fill="#2f7f46"/>
<rect x="279.60" y="22.66" width="1.18" height="2.24" fill="#cf6cb2"/>
<rect x="279.60" y="20.42" width="1.18" height="2.24" fill="#cf6cb2"/>
<rect x="279.60" y="18.17" width="1.18" height="2.24" fill="#cf6cb2"/>
<rect x="279.60" y="16.38" width="1.18" height="1.79" fill="#3eae72"/>
<rect x="279.60" y="14.59" width="1.18" height="1.79" fill="#3eae72"/>
<rect x="279.60" y="12.79" width="1.18" height="1.79" fill="#3a78bf"/>
<rect x="279.60" y="11.00" width="1.18" height="1.79" fill="#3a78bf"/>
<rect x="280.90" y="24.90" width="1.18" height="2.10" fill="#2f7f46"/>
<rect x="280.90" y="22.78" width="1.18" height="2.12" fill="#cf6cb2"/>
<rect x="280.90" y="21.09" width="1.18" height="1.70" fill="#3eae72"/>
<rect x="280.90" y="19.39" width="1.18" height="1.70" fill="#3eae72"/>
<rect x="280.90" y="17.70" width="1.18" height="1.70" fill="#3a78bf"/>
<rect x="280.90" y="16.00" width="1.18" height="1.70" fill="#3a78bf"/>
<rect x="282.20" y="24.90" width="1.18" height="2.10" fill="#2f7f46"/>
<rect x="282.20" y="22.78" width="1.18" height="2.12" fill="#6cc0ec"/>
<rect x="282.20" y="21.09" width="1.18" height="1.70" fill="#3eae72"/>
<rect x="282.20" y="19.39" width="1.18" height="1.70" fill="#3a78bf"/>
<rect x="282.20" y="17.70" width="1.18" height="1.70" fill="#3a78bf"/>
<rect x="282.20" y="16.00" width="1.18" height="1.70" fill="#3a78bf"/>
<rect x="283.50" y="24.90" width="1.18" height="2.10" fill="#2f7f46"/>
<rect x="283.50" y="22.70" width="1.18" height="2.20" fill="#cf6cb2"/>
<rect x="283.50" y="20.94" width="1.18" height="1.76" fill="#3eae72"/>
<rect x="283.50" y="19.18" width="1.18" height="1.76" fill="#3a78bf"/>
<rect x="283.50" y="17.42" width="1.18" height="1.76" fill="#3a78bf"/>
<rect x="283.50" y="15.66" width="1.18" height="1.76" fill="#3a78bf"/>
<rect x="283.50" y="13.90" width="1.18" height="1.76" fill="#3a78bf"/>
<rect x="284.80" y="24.90" width="1.18" height="2.10" fill="#2f7f46"/>
<rect x="284.80" y="22.82" width="1.18" height="2.08" fill="#cf6cb2"/>
<rect x="284.80" y="20.74" width="1.18" height="2.08" fill="#cf6cb2"/>
<rect x="284.80" y="18.66" width="1.18" height="2.08" fill="#6cc0ec"/>
<rect x="284.80" y="16.58" width="1.18" height="2.08" fill="#1e1e1e"/>
<rect x="284.80" y="14.92" width="1.18" height="1.66" fill="#3eae72"/>
<rect x="284.80" y="13.25" width="1.18" height="1.66" fill="#3eae72"/>
<rect x="284.80" y="11.59" width="1.18" height="1.66" fill="#3eae72"/>
<rect x="284.80" y="9.93" width="1.18" height="1.66" fill="#3a78bf"/>
<rect x="284.80" y="8.26" width="1.18" height="1.66" fill="#3a78bf"/>
<rect x="284.80" y="6.60" width="1.18" height="1.66" fill="#3a78bf"/>
<rect x="286.10" y="24.90" width="1.18" height="2.10" fill="#2f7f46"/>
<rect x="286.10" y="22.80" width="1.18" height="2.10" fill="#2f7f46"/>
<rect x="286.10" y="20.65" width="1.18" height="2.15" fill="#6cc0ec"/>
<rect x="286.10" y="18.51" width="1.18" height="2.15" fill="#1e1e1e"/>
<rect x="286.10" y="16.36" width="1.18" height="2.15" fill="#1e1e1e"/>
<rect x="286.10" y="14.65" width="1.18" height="1.72" fill="#3a78bf"/>
<rect x="286.10" y="12.93" width="1.18" height="1.72" fill="#3a78bf"/>
<rect x="286.10" y="11.22" width="1.18" height="1.72" fill="#3a78bf"/>
<rect x="286.10" y="9.50" width="1.18" height="1.72" fill="#3a78bf"/>
<rect x="287.40" y="24.90" width="1.18" height="2.10" fill="#2f7f46"/>
<rect x="287.40" y="22.71" width="1.18" height="2.19" fill="#6cc0ec"/>
<rect x="287.40" y="20.53" width="1.18" height="2.19" fill="#6cc0ec"/>
<rect x="287.40" y="18.34" width="1.18" height="2.19" fill="#1e1e1e"/>
<rect x="287.40" y="16.60" width="1.18" height="1.75" fill="#3a78bf"/>
<rect x="287.40" y="14.85" width="1.18" height="1.75" fill="#3a78bf"/>
<rect x="287.40" y="13.10" width="1.18" height="1.75" fill="#3a78bf"/>
<rect x="288.70" y="24.90" width="1.18" height="2.10" fill="#2f7f46"/>
<rect x="288.70" y="22.22" width="1.18" height="2.68" fill="#6cc0ec"/>
<rect x="288.70" y="19.54" width="1.18" height="2.68" fill="#6cc0ec"/>
<rect x="288.70" y="17.39" width="1.18" height="2.15" fill="#3a78bf"/>
<rect x="288.70" y="15.25" width="1.18" height="2.15" fill="#3a78bf"/>
<rect x="288.70" y="13.10" width="1.18" height="2.15" fill="#3a78bf"/>
<rect x="290.00" y="24.90" width="1.18" height="2.10" fill="#2f7f46"/>
<rect x="290.00" y="23.42" width="1.18" height="1.48" fill="#1e1e1e"/>
<rect x="290.00" y="22.24" width="1.18" height="1.18" fill="#3eae72"/>
<rect x="290.00" y="21.05" width="1.18" height="1.18" fill="#3a78bf"/>
<rect x="290.00" y="19.87" width="1.18" height="1.18" fill="#3a78bf"/>
<rect x="290.00" y="18.68" width="1.18" height="1.18" fill="#3a78bf"/>
<rect x="290.00" y="17.50" width="1.18" height="1.18" fill="#3a78bf"/>
<rect x="291.30" y="24.90" width="1.18" height="2.10" fill="#2f7f46"/>
<rect x="291.30" y="22.80" width="1.18" height="2.10" fill="#ee2a24"/>
<rect x="291.30" y="20.16" width="1.18" height="2.64" fill="#cf6cb2"/>
<rect x="291.30" y="17.52" width="1.18" height="2.64" fill="#cf6cb2"/>
<rect x="291.30" y="14.88" width="1.18" height="2.64" fill="#6cc0ec"/>
<rect x="291.30" y="12.76" width="1.18" height="2.11" fill="#3a78bf"/>
<rect x="291.30" y="10.65" width="1.18" height="2.11" fill="#3a78bf"/>
<rect x="291.30" y="8.54" width="1.18" height="2.11" fill="#3a78bf"/>
<rect x="291.30" y="6.43" width="1.18" height="2.11" fill="#3a78bf"/>
<rect x="291.30" y="4.31" width="1.18" height="2.11" fill="#3a78bf"/>
<rect x="291.30" y="2.20" width="1.18" height="2.11" fill="#3a78bf"/>
<rect x="292.60" y="24.90" width="1.18" height="2.10" fill="#e6a834"/>
<rect x="292.60" y="22.86" width="1.18" height="2.04" fill="#cf6cb2"/>
<rect x="292.60" y="20.81" width="1.18" height="2.04" fill="#1e1e1e"/>
<rect x="292.60" y="19.18" width="1.18" height="1.64" fill="#3eae72"/>
<rect x="292.60" y="17.54" width="1.18" height="1.64" fill="#3a78bf"/>
<rect x="292.60" y="15.91" width="1.18" height="1.64" fill="#3a78bf"/>
<rect x="292.60" y="14.27" width="1.18" height="1.64" fill="#3a78bf"/>
<rect x="292.60" y="12.64" width="1.18" height="1.64" fill="#3a78bf"/>
<rect x="292.60" y="11.00" width="1.18" height="1.64" fill="#3a78bf"/>
<rect x="293.90" y="24.90" width="1.18" height="2.10" fill="#4a86f0"/>
<rect x="293.90" y="22.54" width="1.18" height="2.36" fill="#1e1e1e"/>
<rect x="293.90" y="20.65" width="1.18" height="1.89" fill="#3eae72"/>
<rect x="293.90" y="18.76" width="1.18" height="1.89" fill="#3a78bf"/>
<rect x="293.90" y="16.88" width="1.18" height="1.89" fill="#3a78bf"/>
<rect x="293.90" y="14.99" width="1.18" height="1.89" fill="#3a78bf"/>
<rect x="293.90" y="13.10" width="1.18" height="1.89" fill="#3a78bf"/>
<rect x="295.20" y="24.90" width="1.18" height="2.10" fill="#2f7f46"/>
<rect x="295.20" y="23.12" width="1.18" height="1.78" fill="#cf6cb2"/>
<rect x="295.20" y="21.70" width="1.18" height="1.42" fill="#3a78bf"/>
<rect x="295.20" y="20.27" width="1.18" height="1.42" fill="#3a78bf"/>
<rect x="295.20" y="18.85" width="1.18" height="1.42" fill="#3a78bf"/>
<rect x="295.20" y="17.42" width="1.18" height="1.42" fill="#3a78bf"/>
<rect x="295.20" y="16.00" width="1.18" height="1.42" fill="#3a78bf"/>
<rect x="296.50" y="24.90" width="1.18" height="2.10" fill="#2f7f46"/>
<rect x="296.50" y="22.84" width="1.18" height="2.06" fill="#1e1e1e"/>
<rect x="296.50" y="21.19" width="1.18" height="1.65" fill="#3eae72"/>
<rect x="296.50" y="19.54" width="1.18" height="1.65" fill="#3a78bf"/>
<rect x="296.50" y="17.90" width="1.18" height="1.65" fill="#3a78bf"/>
<rect x="296.50" y="16.25" width="1.18" height="1.65" fill="#3a78bf"/>
<rect x="296.50" y="14.60" width="1.18" height="1.65" fill="#3a78bf"/>
<rect x="297.80" y="24.90" width="1.18" height="2.10" fill="#1e1e1e"/>
<rect x="297.80" y="22.87" width="1.18" height="2.03" fill="#6cc0ec"/>
<rect x="297.80" y="21.24" width="1.18" height="1.63" fill="#3eae72"/>
<rect x="297.80" y="19.61" width="1.18" height="1.63" fill="#3a78bf"/>
<rect x="297.80" y="17.98" width="1.18" height="1.63" fill="#3a78bf"/>
<rect x="297.80" y="16.36" width="1.18" height="1.63" fill="#3a78bf"/>
<rect x="297.80" y="14.73" width="1.18" height="1.63" fill="#3a78bf"/>
<rect x="297.80" y="13.10" width="1.18" height="1.63" fill="#3a78bf"/>
<rect x="299.10" y="24.90" width="1.18" height="2.10" fill="#2f7f46"/>
<rect x="299.10" y="23.56" width="1.18" height="1.34" fill="#6cc0ec"/>
<rect x="299.10" y="22.49" width="1.18" height="1.07" fill="#3eae72"/>
<rect x="299.10" y="21.42" width="1.18" height="1.07" fill="#3eae72"/>
<rect x="299.10" y="20.34" width="1.18" height="1.07" fill="#3a78bf"/>
<rect x="299.10" y="19.27" width="1.18" height="1.07" fill="#3a78bf"/>
<rect x="299.10" y="18.20" width="1.18" height="1.07" fill="#3a78bf"/>
<rect x="300.40" y="24.90" width="1.18" height="2.10" fill="#2f7f46"/>
<rect x="300.40" y="23.74" width="1.18" height="1.16" fill="#1e1e1e"/>
<rect x="300.40" y="22.82" width="1.18" height="0.92" fill="#3eae72"/>
<rect x="300.40" y="21.90" width="1.18" height="0.92" fill="#3a78bf"/>
<rect x="300.40" y="20.97" width="1.18" height="0.92" fill="#3a78bf"/>
<rect x="300.40" y="20.05" width="1.18" height="0.92" fill="#3a78bf"/>
<rect x="300.40" y="19.12" width="1.18" height="0.92" fill="#3a78bf"/>
<rect x="300.40" y="18.20" width="1.18" height="0.92" fill="#3a78bf"/>
<rect x="301.70" y="24.90" width="1.18" height="2.10" fill="#2f7f46"/>
<rect x="301.70" y="22.45" width="1.18" height="2.45" fill="#cf6cb2"/>
<rect x="301.70" y="20.49" width="1.18" height="1.96" fill="#3a78bf"/>
<rect x="301.70" y="18.52" width="1.18" height="1.96" fill="#3a78bf"/>
<rect x="301.70" y="16.56" width="1.18" height="1.96" fill="#3a78bf"/>
<rect x="301.70" y="14.60" width="1.18" height="1.96" fill="#3a78bf"/>
<rect x="303.00" y="24.90" width="1.18" height="2.10" fill="#2f7f46"/>
<rect x="303.00" y="22.80" width="1.18" height="2.10" fill="#e6a834"/>
<rect x="303.00" y="21.01" width="1.18" height="1.79" fill="#1e1e1e"/>
<rect x="303.00" y="19.59" width="1.18" height="1.43" fill="#3a78bf"/>
<rect x="303.00" y="18.16" width="1.18" height="1.43" fill="#3a78bf"/>
<rect x="303.00" y="16.73" width="1.18" height="1.43" fill="#3a78bf"/>
<rect x="303.00" y="15.30" width="1.18" height="1.43" fill="#3a78bf"/>
<rect x="304.30" y="24.90" width="1.18" height="2.10" fill="#7c6c4e"/>
<rect x="304.30" y="22.72" width="1.18" height="2.18" fill="#cf6cb2"/>
<rect x="304.30" y="20.98" width="1.18" height="1.74" fill="#3a78bf"/>
<rect x="304.30" y="19.24" width="1.18" height="1.74" fill="#3a78bf"/>
<rect x="304.30" y="17.50" width="1.18" height="1.74" fill="#3a78bf"/>
<rect x="305.60" y="24.90" width="1.18" height="2.10" fill="#4a86f0"/>
<rect x="305.60" y="22.72" width="1.18" height="2.18" fill="#6cc0ec"/>
<rect x="305.60" y="20.98" width="1.18" height="1.74" fill="#3a78bf"/>
<rect x="305.60" y="19.24" width="1.18" height="1.74" fill="#3a78bf"/>
<rect x="305.60" y="17.50" width="1.18" height="1.74" fill="#3a78bf"/>
<rect x="306.90" y="24.90" width="1.18" height="2.10" fill="#2f7f46"/>
<rect x="306.90" y="22.93" width="1.18" height="1.97" fill="#3a78bf"/>
<rect x="306.90" y="20.97" width="1.18" height="1.97" fill="#3a78bf"/>
<rect x="306.90" y="19.00" width="1.18" height="1.97" fill="#3a78bf"/>
<rect x="308.20" y="24.90" width="1.18" height="2.10" fill="#2f7f46"/>
<rect x="308.20" y="22.80" width="1.18" height="2.10" fill="#4a86f0"/>
<rect x="308.20" y="21.01" width="1.18" height="1.79" fill="#cf6cb2"/>
<rect x="308.20" y="19.59" width="1.18" height="1.43" fill="#3eae72"/>
<rect x="308.20" y="18.16" width="1.18" height="1.43" fill="#3a78bf"/>
<rect x="308.20" y="16.73" width="1.18" height="1.43" fill="#3a78bf"/>
<rect x="308.20" y="15.30" width="1.18" height="1.43" fill="#3a78bf"/>
<rect x="309.50" y="24.90" width="1.18" height="2.10" fill="#2f7f46"/>
<rect x="309.50" y="22.80" width="1.18" height="2.10" fill="#2f7f46"/>
<rect x="309.50" y="20.60" width="1.18" height="2.20" fill="#d9bfe0"/>
<rect x="309.50" y="18.39" width="1.18" height="2.20" fill="#1e1e1e"/>
<rect x="309.50" y="16.63" width="1.18" height="1.76" fill="#3eae72"/>
<rect x="309.50" y="14.86" width="1.18" height="1.76" fill="#3a78bf"/>
<rect x="309.50" y="13.10" width="1.18" height="1.76" fill="#3a78bf"/>
<rect x="310.80" y="24.90" width="1.18" height="2.10" fill="#2f7f46"/>
<rect x="310.80" y="23.17" width="1.18" height="1.73" fill="#3eae72"/>
<rect x="310.80" y="21.43" width="1.18" height="1.73" fill="#3eae72"/>
<rect x="310.80" y="19.70" width="1.18" height="1.73" fill="#3a78bf"/>
<rect x="312.10" y="24.90" width="1.18" height="2.10" fill="#2f7f46"/>
<rect x="312.10" y="23.17" width="1.18" height="1.73" fill="#3eae72"/>
<rect x="312.10" y="21.43" width="1.18" height="1.73" fill="#3eae72"/>
<rect x="312.10" y="19.70" width="1.18" height="1.73" fill="#3a78bf"/>
<rect x="313.40" y="24.90" width="1.18" height="2.10" fill="#ee2a24"/>
<rect x="313.40" y="22.80" width="1.18" height="2.10" fill="#ee2a24"/>
<rect x="313.40" y="20.53" width="1.18" height="2.27" fill="#cf6cb2"/>
<rect x="313.40" y="18.26" width="1.18" height="2.27" fill="#6cc0ec"/>
<rect x="313.40" y="16.45" width="1.18" height="1.82" fill="#3eae72"/>
<rect x="313.40" y="14.63" width="1.18" height="1.82" fill="#3eae72"/>
<rect x="313.40" y="12.82" width="1.18" height="1.82" fill="#3a78bf"/>
<rect x="313.40" y="11.00" width="1.18" height="1.82" fill="#3a78bf"/>
<rect x="314.70" y="24.90" width="1.18" height="2.10" fill="#e6a834"/>
<rect x="314.70" y="21.95" width="1.18" height="2.95" fill="#3eae72"/>
<rect x="314.70" y="19.00" width="1.18" height="2.95" fill="#3a78bf"/>
<rect x="316.00" y="24.90" width="1.18" height="2.10" fill="#2f7f46"/>
<rect x="316.00" y="22.98" width="1.18" height="1.92" fill="#6cc0ec"/>
<rect x="316.00" y="21.44" width="1.18" height="1.54" fill="#3eae72"/>
<rect x="316.00" y="19.91" width="1.18" height="1.54" fill="#3eae72"/>
<rect x="316.00" y="18.37" width="1.18" height="1.54" fill="#3a78bf"/>
<rect x="316.00" y="16.84" width="1.18" height="1.54" fill="#3a78bf"/>
<rect x="316.00" y="15.30" width="1.18" height="1.54" fill="#3a78bf"/>
<rect x="317.30" y="24.90" width="1.18" height="2.10" fill="#2f7f46"/>
<rect x="317.30" y="22.08" width="1.18" height="2.82" fill="#cf6cb2"/>
<rect x="317.30" y="19.82" width="1.18" height="2.26" fill="#3eae72"/>
<rect x="317.30" y="17.56" width="1.18" height="2.26" fill="#3eae72"/>
<rect x="317.30" y="15.30" width="1.18" height="2.26" fill="#3a78bf"/>
<rect x="318.60" y="24.90" width="1.18" height="2.10" fill="#2f7f46"/>
<rect x="318.60" y="22.80" width="1.18" height="2.10" fill="#4a86f0"/>
<rect x="318.60" y="21.34" width="1.18" height="1.46" fill="#d9bfe0"/>
<rect x="318.60" y="20.17" width="1.18" height="1.17" fill="#3eae72"/>
<rect x="318.60" y="19.00" width="1.18" height="1.17" fill="#3a78bf"/>
<rect x="319.90" y="24.21" width="1.18" height="2.79" fill="#6cc0ec"/>
<rect x="319.90" y="21.99" width="1.18" height="2.23" fill="#3eae72"/>
<rect x="319.90" y="19.76" width="1.18" height="2.23" fill="#3eae72"/>
<rect x="319.90" y="17.53" width="1.18" height="2.23" fill="#3a78bf"/>
<rect x="319.90" y="15.30" width="1.18" height="2.23" fill="#3a78bf"/>
<rect x="321.20" y="24.90" width="1.18" height="2.10" fill="#2f7f46"/>
<rect x="321.20" y="23.77" width="1.18" height="1.13" fill="#d9bfe0"/>
<rect x="321.20" y="22.63" width="1.18" height="1.13" fill="#d9bfe0"/>
<rect x="321.20" y="21.72" width="1.18" height="0.91" fill="#3eae72"/>
<rect x="321.20" y="20.82" width="1.18" height="0.91" fill="#3eae72"/>
<rect x="321.20" y="19.91" width="1.18" height="0.91" fill="#3a78bf"/>
<rect x="321.20" y="19.00" width="1.18" height="0.91" fill="#3a78bf"/>
<rect x="322.50" y="24.90" width="1.18" height="2.10" fill="#2f7f46"/>
<rect x="322.50" y="22.58" width="1.18" height="2.32" fill="#cf6cb2"/>
<rect x="322.50" y="20.27" width="1.18" height="2.32" fill="#cf6cb2"/>
<rect x="322.50" y="18.41" width="1.18" height="1.85" fill="#3eae72"/>
<rect x="322.50" y="16.56" width="1.18" height="1.85" fill="#3a78bf"/>
<rect x="322.50" y="14.71" width="1.18" height="1.85" fill="#3a78bf"/>
<rect x="322.50" y="12.85" width="1.18" height="1.85" fill="#3a78bf"/>
<rect x="322.50" y="11.00" width="1.18" height="1.85" fill="#3a78bf"/>
<rect x="323.80" y="24.90" width="1.18" height="2.10" fill="#2f7f46"/>
<rect x="323.80" y="22.80" width="1.18" height="2.10" fill="#2f7f46"/>
<rect x="323.80" y="20.49" width="1.18" height="2.31" fill="#cf6cb2"/>
<rect x="323.80" y="18.17" width="1.18" height="2.31" fill="#d9bfe0"/>
<rect x="323.80" y="15.86" width="1.18" height="2.31" fill="#1e1e1e"/>
<rect x="323.80" y="14.01" width="1.18" height="1.85" fill="#3eae72"/>
<rect x="323.80" y="12.15" width="1.18" height="1.85" fill="#3a78bf"/>
<rect x="323.80" y="10.30" width="1.18" height="1.85" fill="#3a78bf"/>
<rect x="323.80" y="8.45" width="1.18" height="1.85" fill="#3a78bf"/>
<rect x="323.80" y="6.60" width="1.18" height="1.85" fill="#3a78bf"/>
<rect x="325.10" y="24.90" width="1.18" height="2.10" fill="#2f7f46"/>
<rect x="325.10" y="22.80" width="1.18" height="2.10" fill="#2f7f46"/>
<rect x="325.10" y="19.99" width="1.18" height="2.81" fill="#d9bfe0"/>
<rect x="325.10" y="17.74" width="1.18" height="2.25" fill="#3eae72"/>
<rect x="325.10" y="15.50" width="1.18" height="2.25" fill="#3a78bf"/>
<rect x="325.10" y="13.25" width="1.18" height="2.25" fill="#3a78bf"/>
<rect x="325.10" y="11.00" width="1.18" height="2.25" fill="#3a78bf"/>
<rect x="326.40" y="24.90" width="1.18" height="2.10" fill="#2f7f46"/>
<rect x="326.40" y="23.72" width="1.18" height="1.18" fill="#3eae72"/>
<rect x="326.40" y="22.54" width="1.18" height="1.18" fill="#3eae72"/>
<rect x="326.40" y="21.36" width="1.18" height="1.18" fill="#3a78bf"/>
<rect x="326.40" y="20.18" width="1.18" height="1.18" fill="#3a78bf"/>
<rect x="326.40" y="19.00" width="1.18" height="1.18" fill="#3a78bf"/>
<rect x="327.70" y="24.90" width="1.18" height="2.10" fill="#2f7f46"/>
<rect x="327.70" y="21.95" width="1.18" height="2.95" fill="#3a78bf"/>
<rect x="327.70" y="19.00" width="1.18" height="2.95" fill="#3a78bf"/>
<rect x="329.00" y="24.90" width="1.18" height="2.10" fill="#2f7f46"/>
<rect x="329.00" y="22.80" width="1.18" height="2.10" fill="#ee2a24"/>
<rect x="329.00" y="20.96" width="1.18" height="1.84" fill="#cf6cb2"/>
<rect x="329.00" y="19.11" width="1.18" height="1.84" fill="#d9bfe0"/>
<rect x="329.00" y="17.27" width="1.18" height="1.84" fill="#d9bfe0"/>
<rect x="329.00" y="15.42" width="1.18" height="1.84" fill="#6cc0ec"/>
<rect x="329.00" y="13.95" width="1.18" height="1.48" fill="#3eae72"/>
<rect x="329.00" y="12.47" width="1.18" height="1.48" fill="#3eae72"/>
<rect x="329.00" y="11.00" width="1.18" height="1.47" fill="#3eae72"/>
<rect x="330.30" y="24.90" width="1.18" height="2.10" fill="#2f7f46"/>
<rect x="330.30" y="22.66" width="1.18" height="2.24" fill="#cf6cb2"/>
<rect x="330.30" y="20.42" width="1.18" height="2.24" fill="#cf6cb2"/>
<rect x="330.30" y="18.17" width="1.18" height="2.24" fill="#1e1e1e"/>
<rect x="330.30" y="16.38" width="1.18" height="1.79" fill="#3eae72"/>
<rect x="330.30" y="14.59" width="1.18" height="1.79" fill="#3eae72"/>
<rect x="330.30" y="12.79" width="1.18" height="1.79" fill="#3eae72"/>
<rect x="330.30" y="11.00" width="1.18" height="1.79" fill="#3eae72"/>
<rect x="331.60" y="24.90" width="1.18" height="2.10" fill="#2f7f46"/>
<rect x="331.60" y="22.63" width="1.18" height="2.27" fill="#cf6cb2"/>
<rect x="331.60" y="20.82" width="1.18" height="1.82" fill="#3eae72"/>
<rect x="331.60" y="19.00" width="1.18" height="1.82" fill="#3eae72"/>
<rect x="332.90" y="24.90" width="1.18" height="2.10" fill="#2f7f46"/>
<rect x="332.90" y="21.62" width="1.18" height="3.28" fill="#cf6cb2"/>
<rect x="332.90" y="19.00" width="1.18" height="2.62" fill="#3eae72"/>
<rect x="334.20" y="24.90" width="1.18" height="2.10" fill="#2f7f46"/>
<rect x="334.20" y="23.23" width="1.18" height="1.67" fill="#cf6cb2"/>
<rect x="334.20" y="21.90" width="1.18" height="1.33" fill="#3eae72"/>
<rect x="335.50" y="24.90" width="1.18" height="2.10" fill="#ee2a24"/>
<rect x="335.50" y="21.90" width="1.18" height="3.00" fill="#cf6cb2"/>
<rect x="336.80" y="24.90" width="1.18" height="2.10" fill="#2f7f46"/>
<rect x="336.80" y="22.80" width="1.18" height="2.10" fill="#e6a834"/>
<rect x="336.80" y="20.59" width="1.18" height="2.21" fill="#cf6cb2"/>
<rect x="336.80" y="18.83" width="1.18" height="1.76" fill="#3eae72"/>
<rect x="336.80" y="17.06" width="1.18" height="1.76" fill="#3a78bf"/>
<rect x="336.80" y="15.30" width="1.18" height="1.76" fill="#3a78bf"/>
<rect x="338.10" y="24.90" width="1.18" height="2.10" fill="#2f7f46"/>
<rect x="338.10" y="22.80" width="1.18" height="2.10" fill="#4a86f0"/>
<rect x="338.10" y="21.94" width="1.18" height="0.86" fill="#6cc0ec"/>
<rect x="338.10" y="21.09" width="1.18" height="0.86" fill="#6cc0ec"/>
<rect x="338.10" y="20.40" width="1.18" height="0.69" fill="#3a78bf"/>
<rect x="339.40" y="24.90" width="1.18" height="2.10" fill="#2f7f46"/>
<rect x="339.40" y="22.80" width="1.18" height="2.10" fill="#2f7f46"/>
<rect x="339.40" y="20.40" width="1.18" height="2.40" fill="#d9bfe0"/>
<rect x="340.70" y="24.90" width="1.18" height="2.10" fill="#4a86f0"/>
<rect x="340.70" y="21.90" width="1.18" height="3.00" fill="#1e1e1e"/>
<rect x="342.00" y="24.90" width="1.18" height="2.10" fill="#2f7f46"/>
<rect x="342.00" y="21.90" width="1.18" height="3.00" fill="#1e1e1e"/>
<rect x="343.30" y="24.90" width="1.18" height="2.10" fill="#4a86f0"/>
<rect x="343.30" y="22.86" width="1.18" height="2.04" fill="#6cc0ec"/>
<rect x="343.30" y="20.81" width="1.18" height="2.04" fill="#1e1e1e"/>
<rect x="343.30" y="19.18" width="1.18" height="1.64" fill="#3eae72"/>
<rect x="343.30" y="17.54" width="1.18" height="1.64" fill="#3a78bf"/>
<rect x="343.30" y="15.91" width="1.18" height="1.64" fill="#3a78bf"/>
<rect x="343.30" y="14.27" width="1.18" height="1.64" fill="#3a78bf"/>
<rect x="343.30" y="12.64" width="1.18" height="1.64" fill="#3a78bf"/>
<rect x="343.30" y="11.00" width="1.18" height="1.64" fill="#3a78bf"/>
<rect x="344.60" y="24.90" width="1.18" height="2.10" fill="#2f7f46"/>
<rect x="344.60" y="20.79" width="1.18" height="4.11" fill="#1e1e1e"/>
<rect x="344.60" y="17.50" width="1.18" height="3.29" fill="#3a78bf"/>
<rect x="345.90" y="24.90" width="1.18" height="2.10" fill="#e6a834"/>
<rect x="345.90" y="22.80" width="1.18" height="2.10" fill="#7c6c4e"/>
<rect x="345.90" y="20.52" width="1.18" height="2.28" fill="#6cc0ec"/>
<rect x="345.90" y="18.24" width="1.18" height="2.28" fill="#1e1e1e"/>
<rect x="345.90" y="16.42" width="1.18" height="1.82" fill="#3a78bf"/>
<rect x="345.90" y="14.60" width="1.18" height="1.82" fill="#3a78bf"/>
<rect x="347.20" y="24.90" width="1.18" height="2.10" fill="#2f7f46"/>
<rect x="347.20" y="21.22" width="1.18" height="3.68" fill="#6cc0ec"/>
<rect x="347.20" y="17.54" width="1.18" height="3.68" fill="#1e1e1e"/>
<rect x="347.20" y="14.60" width="1.18" height="2.94" fill="#3eae72"/>
<rect x="348.50" y="24.90" width="1.18" height="2.10" fill="#4a86f0"/>
<rect x="348.50" y="21.90" width="1.18" height="3.00" fill="#3eae72"/>
<rect x="349.80" y="24.90" width="1.18" height="2.10" fill="#2f7f46"/>
<rect x="349.80" y="21.90" width="1.18" height="3.00" fill="#3eae72"/>
<rect x="351.10" y="24.90" width="1.18" height="2.10" fill="#4a86f0"/>
<rect x="351.10" y="22.53" width="1.18" height="2.37" fill="#d9bfe0"/>
<rect x="351.10" y="20.16" width="1.18" height="2.37" fill="#1e1e1e"/>
<rect x="351.10" y="18.27" width="1.18" height="1.89" fill="#3eae72"/>
<rect x="351.10" y="16.38" width="1.18" height="1.89" fill="#3a78bf"/>
<rect x="351.10" y="14.48" width="1.18" height="1.89" fill="#3a78bf"/>
<rect x="351.10" y="12.59" width="1.18" height="1.89" fill="#3a78bf"/>
<rect x="351.10" y="10.69" width="1.18" height="1.89" fill="#3a78bf"/>
<rect x="351.10" y="8.80" width="1.18" height="1.89" fill="#3a78bf"/>
<rect x="352.40" y="24.90" width="1.18" height="2.10" fill="#2f7f46"/>
<rect x="352.40" y="22.80" width="1.18" height="2.10" fill="#eba48a"/>
<rect x="352.40" y="20.90" width="1.18" height="1.90" fill="#cf6cb2"/>
<rect x="352.40" y="18.99" width="1.18" height="1.90" fill="#cf6cb2"/>
<rect x="352.40" y="17.09" width="1.18" height="1.90" fill="#d9bfe0"/>
<rect x="352.40" y="15.57" width="1.18" height="1.52" fill="#3eae72"/>
<rect x="352.40" y="14.05" width="1.18" height="1.52" fill="#3eae72"/>
<rect x="352.40" y="12.52" width="1.18" height="1.52" fill="#3a78bf"/>
<rect x="352.40" y="11.00" width="1.18" height="1.52" fill="#3a78bf"/>
<rect x="353.70" y="24.90" width="1.18" height="2.10" fill="#2f7f46"/>
<rect x="353.70" y="22.33" width="1.18" height="2.57" fill="#cf6cb2"/>
<rect x="353.70" y="19.75" width="1.18" height="2.57" fill="#6cc0ec"/>
<rect x="353.70" y="17.18" width="1.18" height="2.57" fill="#1e1e1e"/>
<rect x="353.70" y="15.12" width="1.18" height="2.06" fill="#3eae72"/>
<rect x="353.70" y="13.06" width="1.18" height="2.06" fill="#3eae72"/>
<rect x="353.70" y="11.00" width="1.18" height="2.06" fill="#3a78bf"/>
<rect x="355.00" y="24.90" width="1.18" height="2.10" fill="#2f7f46"/>
<rect x="355.00" y="22.26" width="1.18" height="2.64" fill="#d9bfe0"/>
<rect x="355.00" y="19.61" width="1.18" height="2.64" fill="#1e1e1e"/>
<rect x="355.00" y="17.50" width="1.18" height="2.11" fill="#3eae72"/>
<rect x="356.30" y="24.90" width="1.18" height="2.10" fill="#ee2a24"/>
<rect x="356.30" y="23.23" width="1.18" height="1.67" fill="#6cc0ec"/>
<rect x="356.30" y="21.90" width="1.18" height="1.33" fill="#3eae72"/>
<rect x="357.60" y="24.90" width="1.18" height="2.10" fill="#4a86f0"/>
<rect x="357.60" y="23.23" width="1.18" height="1.67" fill="#1e1e1e"/>
<rect x="357.60" y="21.90" width="1.18" height="1.33" fill="#3eae72"/>
<rect x="358.90" y="24.90" width="1.18" height="2.10" fill="#2f7f46"/>
<rect x="358.90" y="21.43" width="1.18" height="3.47" fill="#cf6cb2"/>
<rect x="358.90" y="18.65" width="1.18" height="2.78" fill="#3eae72"/>
<rect x="358.90" y="15.88" width="1.18" height="2.78" fill="#3a78bf"/>
<rect x="358.90" y="13.10" width="1.18" height="2.78" fill="#3a78bf"/>
<rect x="360.20" y="24.90" width="1.18" height="2.10" fill="#2f7f46"/>
<rect x="360.20" y="22.80" width="1.18" height="2.10" fill="#2f7f46"/>
<rect x="360.20" y="19.07" width="1.18" height="3.73" fill="#1e1e1e"/>
<rect x="360.20" y="16.08" width="1.18" height="2.98" fill="#3eae72"/>
<rect x="360.20" y="13.10" width="1.18" height="2.98" fill="#3eae72"/>
<rect x="361.50" y="24.90" width="1.18" height="2.10" fill="#2f7f46"/>
<rect x="361.50" y="22.81" width="1.18" height="2.09" fill="#cf6cb2"/>
<rect x="361.50" y="20.73" width="1.18" height="2.09" fill="#d9bfe0"/>
<rect x="361.50" y="18.64" width="1.18" height="2.09" fill="#1e1e1e"/>
<rect x="361.50" y="16.97" width="1.18" height="1.67" fill="#3eae72"/>
<rect x="361.50" y="15.30" width="1.18" height="1.67" fill="#3eae72"/>
<rect x="362.80" y="24.90" width="1.18" height="2.10" fill="#2f7f46"/>
<rect x="362.80" y="22.93" width="1.18" height="1.97" fill="#cf6cb2"/>
<rect x="362.80" y="21.35" width="1.18" height="1.58" fill="#3eae72"/>
<rect x="362.80" y="19.78" width="1.18" height="1.58" fill="#3eae72"/>
<rect x="362.80" y="18.20" width="1.18" height="1.58" fill="#3eae72"/>
<rect x="364.10" y="24.90" width="1.18" height="2.10" fill="#4a86f0"/>
<rect x="364.10" y="23.04" width="1.18" height="1.86" fill="#cf6cb2"/>
<rect x="364.10" y="21.18" width="1.18" height="1.86" fill="#1e1e1e"/>
<rect x="364.10" y="19.69" width="1.18" height="1.49" fill="#3eae72"/>
<rect x="364.10" y="18.20" width="1.18" height="1.49" fill="#3eae72"/>
<rect x="365.40" y="24.90" width="1.18" height="2.10" fill="#2f7f46"/>
<rect x="365.40" y="23.17" width="1.18" height="1.73" fill="#d9bfe0"/>
<rect x="365.40" y="21.78" width="1.18" height="1.38" fill="#3eae72"/>
<rect x="365.40" y="20.40" width="1.18" height="1.38" fill="#3eae72"/>
<rect x="366.70" y="24.90" width="1.18" height="2.10" fill="#2f7f46"/>
<rect x="366.70" y="22.80" width="1.18" height="2.10" fill="#2f7f46"/>
<rect x="366.70" y="21.60" width="1.18" height="1.20" fill="#3eae72"/>
<rect x="366.70" y="20.40" width="1.18" height="1.20" fill="#3eae72"/>
<rect x="368.00" y="24.90" width="1.18" height="2.10" fill="#2f7f46"/>
<rect x="368.00" y="23.40" width="1.18" height="1.50" fill="#3eae72"/>
<rect x="368.00" y="21.90" width="1.18" height="1.50" fill="#3eae72"/>
<rect x="369.30" y="24.90" width="1.18" height="2.10" fill="#4a86f0"/>
<rect x="369.30" y="22.80" width="1.18" height="2.10" fill="#2f7f46"/>
<rect x="369.30" y="20.69" width="1.18" height="2.11" fill="#cf6cb2"/>
<rect x="369.30" y="18.58" width="1.18" height="2.11" fill="#cf6cb2"/>
<rect x="369.30" y="16.47" width="1.18" height="2.11" fill="#1e1e1e"/>
<rect x="369.30" y="14.79" width="1.18" height="1.69" fill="#3eae72"/>
<rect x="369.30" y="13.10" width="1.18" height="1.69" fill="#3eae72"/>
<rect x="370.60" y="24.90" width="1.18" height="2.10" fill="#3414a8"/>
<rect x="370.60" y="23.04" width="1.18" height="1.86" fill="#cf6cb2"/>
<rect x="370.60" y="21.19" width="1.18" height="1.86" fill="#cf6cb2"/>
<rect x="370.60" y="19.70" width="1.18" height="1.49" fill="#3eae72"/>
<rect x="371.90" y="24.90" width="1.18" height="2.10" fill="#2f7f46"/>
<rect x="371.90" y="22.01" width="1.18" height="2.89" fill="#d9bfe0"/>
<rect x="371.90" y="19.70" width="1.18" height="2.31" fill="#3eae72"/>
<rect x="373.20" y="24.90" width="1.18" height="2.10" fill="#2f7f46"/>
<rect x="373.20" y="23.23" width="1.18" height="1.67" fill="#d9bfe0"/>
<rect x="373.20" y="21.90" width="1.18" height="1.33" fill="#3eae72"/>
<rect x="374.50" y="24.90" width="1.18" height="2.10" fill="#2f7f46"/>
<rect x="374.50" y="22.80" width="1.18" height="2.10" fill="#4a86f0"/>
<rect x="374.50" y="21.90" width="1.18" height="0.90" fill="#3eae72"/>
<rect x="375.80" y="24.90" width="1.18" height="2.10" fill="#2f7f46"/>
<rect x="375.80" y="22.80" width="1.18" height="2.10" fill="#2f7f46"/>
<rect x="375.80" y="19.00" width="1.18" height="3.80" fill="#3eae72"/>
<rect x="377.10" y="24.90" width="1.18" height="2.10" fill="#2f7f46"/>
<rect x="377.10" y="22.84" width="1.18" height="2.06" fill="#6cc0ec"/>
<rect x="377.10" y="21.20" width="1.18" height="1.64" fill="#3eae72"/>
<rect x="378.40" y="24.90" width="1.18" height="2.10" fill="#7c6c4e"/>
<rect x="378.40" y="22.84" width="1.18" height="2.06" fill="#d9bfe0"/>
<rect x="378.40" y="21.20" width="1.18" height="1.64" fill="#3eae72"/>
<rect x="379.70" y="24.90" width="1.18" height="2.10" fill="#2f7f46"/>
<rect x="379.70" y="22.60" width="1.18" height="2.30" fill="#3eae72"/>
<rect x="381.00" y="24.90" width="1.18" height="2.10" fill="#2f7f46"/>
<rect x="381.00" y="22.60" width="1.18" height="2.30" fill="#3eae72"/>
<rect x="382.30" y="24.90" width="1.18" height="2.10" fill="#2f7f46"/>
<rect x="382.30" y="22.60" width="1.18" height="2.30" fill="#3eae72"/>
<rect x="383.60" y="24.90" width="1.18" height="2.10" fill="#2f7f46"/>
<rect x="383.60" y="22.60" width="1.18" height="2.30" fill="#3eae72"/>
<rect x="384.90" y="24.90" width="1.18" height="2.10" fill="#7c6c4e"/>
<rect x="384.90" y="22.80" width="1.18" height="2.10" fill="#e6a834"/>
<rect x="384.90" y="20.19" width="1.18" height="2.61" fill="#cf6cb2"/>
<rect x="384.90" y="17.57" width="1.18" height="2.61" fill="#cf6cb2"/>
<rect x="384.90" y="14.96" width="1.18" height="2.61" fill="#1e1e1e"/>
<rect x="384.90" y="12.87" width="1.18" height="2.09" fill="#3a78bf"/>
<rect x="384.90" y="10.78" width="1.18" height="2.09" fill="#3a78bf"/>
<rect x="384.90" y="8.69" width="1.18" height="2.09" fill="#3a78bf"/>
<rect x="384.90" y="6.60" width="1.18" height="2.09" fill="#3a78bf"/>
<rect x="386.20" y="24.90" width="1.18" height="2.10" fill="#2f7f46"/>
<rect x="386.20" y="23.16" width="1.18" height="1.74" fill="#d9bfe0"/>
<rect x="386.20" y="21.78" width="1.18" height="1.39" fill="#3a78bf"/>
<rect x="386.20" y="20.39" width="1.18" height="1.39" fill="#3a78bf"/>
<rect x="386.20" y="19.00" width="1.18" height="1.39" fill="#3a78bf"/>
<rect x="387.50" y="24.90" width="1.18" height="2.10" fill="#2f7f46"/>
<rect x="387.50" y="23.16" width="1.18" height="1.74" fill="#cf6cb2"/>
<rect x="387.50" y="21.78" width="1.18" height="1.39" fill="#3a78bf"/>
<rect x="387.50" y="20.39" width="1.18" height="1.39" fill="#3a78bf"/>
<rect x="387.50" y="19.00" width="1.18" height="1.39" fill="#3a78bf"/>
<rect x="388.80" y="24.90" width="1.18" height="2.10" fill="#2f7f46"/>
<rect x="388.80" y="22.80" width="1.18" height="2.10" fill="#e6a834"/>
<rect x="388.80" y="20.34" width="1.18" height="2.46" fill="#cf6cb2"/>
<rect x="388.80" y="17.88" width="1.18" height="2.46" fill="#cf6cb2"/>
<rect x="388.80" y="15.42" width="1.18" height="2.46" fill="#d9bfe0"/>
<rect x="388.80" y="12.97" width="1.18" height="2.46" fill="#1e1e1e"/>
<rect x="388.80" y="11.00" width="1.18" height="1.97" fill="#3a78bf"/>
<rect x="390.10" y="24.90" width="1.18" height="2.10" fill="#2f7f46"/>
<rect x="390.10" y="21.62" width="1.18" height="3.28" fill="#1e1e1e"/>
<rect x="390.10" y="19.00" width="1.18" height="2.62" fill="#3a78bf"/>
<rect x="391.40" y="24.90" width="1.18" height="2.10" fill="#2f7f46"/>
<rect x="391.40" y="23.26" width="1.18" height="1.64" fill="#d9bfe0"/>
<rect x="391.40" y="21.62" width="1.18" height="1.64" fill="#1e1e1e"/>
<rect x="391.40" y="20.31" width="1.18" height="1.31" fill="#3eae72"/>
<rect x="391.40" y="19.00" width="1.18" height="1.31" fill="#3a78bf"/>
<rect x="392.70" y="24.90" width="1.18" height="2.10" fill="#2f7f46"/>
<rect x="392.70" y="22.90" width="1.18" height="2.00" fill="#1e1e1e"/>
<rect x="392.70" y="21.30" width="1.18" height="1.60" fill="#3eae72"/>
<rect x="392.70" y="19.70" width="1.18" height="1.60" fill="#3a78bf"/>
<rect x="394.00" y="24.90" width="1.18" height="2.10" fill="#e6a834"/>
<rect x="394.00" y="19.70" width="1.18" height="5.20" fill="#3a78bf"/>
<rect x="395.30" y="24.90" width="1.18" height="2.10" fill="#2f7f46"/>
<rect x="395.30" y="23.04" width="1.18" height="1.86" fill="#d9bfe0"/>
<rect x="395.30" y="21.19" width="1.18" height="1.86" fill="#6cc0ec"/>
<rect x="395.30" y="19.70" width="1.18" height="1.49" fill="#3a78bf"/>
<rect x="396.60" y="24.90" width="1.18" height="2.10" fill="#7c6c4e"/>
<rect x="396.60" y="23.58" width="1.18" height="1.32" fill="#6cc0ec"/>
<rect x="396.60" y="22.26" width="1.18" height="1.32" fill="#6cc0ec"/>
<rect x="396.60" y="21.20" width="1.18" height="1.06" fill="#3a78bf"/>
<rect x="397.90" y="24.90" width="1.18" height="2.10" fill="#2f7f46"/>
<rect x="397.90" y="23.05" width="1.18" height="1.85" fill="#3eae72"/>
<rect x="397.90" y="21.20" width="1.18" height="1.85" fill="#3a78bf"/>
<rect x="399.20" y="24.90" width="1.18" height="2.10" fill="#2f7f46"/>
<rect x="399.20" y="22.66" width="1.18" height="2.24" fill="#d9bfe0"/>
<rect x="399.20" y="20.42" width="1.18" height="2.24" fill="#1e1e1e"/>
<rect x="399.20" y="18.17" width="1.18" height="2.24" fill="#1e1e1e"/>
<rect x="399.20" y="16.38" width="1.18" height="1.79" fill="#3eae72"/>
<rect x="399.20" y="14.59" width="1.18" height="1.79" fill="#3a78bf"/>
<rect x="399.20" y="12.79" width="1.18" height="1.79" fill="#3a78bf"/>
<rect x="399.20" y="11.00" width="1.18" height="1.79" fill="#3a78bf"/>
<rect x="400.50" y="24.90" width="1.18" height="2.10" fill="#4a86f0"/>
<rect x="400.50" y="22.66" width="1.18" height="2.24" fill="#cf6cb2"/>
<rect x="400.50" y="20.42" width="1.18" height="2.24" fill="#d9bfe0"/>
<rect x="400.50" y="18.17" width="1.18" height="2.24" fill="#d9bfe0"/>
<rect x="400.50" y="16.38" width="1.18" height="1.79" fill="#3eae72"/>
<rect x="400.50" y="14.59" width="1.18" height="1.79" fill="#3eae72"/>
<rect x="400.50" y="12.79" width="1.18" height="1.79" fill="#3a78bf"/>
<rect x="400.50" y="11.00" width="1.18" height="1.79" fill="#3a78bf"/>
<rect x="401.80" y="24.90" width="1.18" height="2.10" fill="#2f7f46"/>
<rect x="401.80" y="22.80" width="1.18" height="2.10" fill="#4a86f0"/>
<rect x="401.80" y="20.18" width="1.18" height="2.62" fill="#cf6cb2"/>
<rect x="401.80" y="18.09" width="1.18" height="2.09" fill="#3eae72"/>
<rect x="401.80" y="15.99" width="1.18" height="2.09" fill="#3a78bf"/>
<rect x="401.80" y="13.90" width="1.18" height="2.09" fill="#3a78bf"/>
<rect x="403.10" y="24.90" width="1.18" height="2.10" fill="#4a86f0"/>
<rect x="403.10" y="22.80" width="1.18" height="2.10" fill="#4a86f0"/>
<rect x="403.10" y="20.90" width="1.18" height="1.90" fill="#3a78bf"/>
<rect x="403.10" y="19.00" width="1.18" height="1.90" fill="#3a78bf"/>
<rect x="404.40" y="24.90" width="1.18" height="2.10" fill="#ee2a24"/>
<rect x="404.40" y="22.80" width="1.18" height="2.10" fill="#1e1e1e"/>
<rect x="404.40" y="20.72" width="1.18" height="2.08" fill="#cf6cb2"/>
<rect x="404.40" y="18.63" width="1.18" height="2.08" fill="#1e1e1e"/>
<rect x="404.40" y="16.97" width="1.18" height="1.67" fill="#3a78bf"/>
<rect x="404.40" y="15.30" width="1.18" height="1.67" fill="#3a78bf"/>
<rect x="405.70" y="24.90" width="1.18" height="2.10" fill="#2f7f46"/>
<rect x="405.70" y="22.05" width="1.18" height="2.85" fill="#cf6cb2"/>
<rect x="405.70" y="19.78" width="1.18" height="2.28" fill="#3a78bf"/>
<rect x="405.70" y="17.50" width="1.18" height="2.28" fill="#3a78bf"/>
<rect x="407.00" y="24.90" width="1.18" height="2.10" fill="#4a86f0"/>
<rect x="407.00" y="22.84" width="1.18" height="2.06" fill="#cf6cb2"/>
<rect x="407.00" y="20.79" width="1.18" height="2.06" fill="#6cc0ec"/>
<rect x="407.00" y="19.14" width="1.18" height="1.64" fill="#3a78bf"/>
<rect x="407.00" y="17.50" width="1.18" height="1.64" fill="#3a78bf"/>
<rect x="408.30" y="24.90" width="1.18" height="2.10" fill="#2f7f46"/>
<rect x="408.30" y="22.65" width="1.18" height="2.25" fill="#3a78bf"/>
<rect x="408.30" y="20.40" width="1.18" height="2.25" fill="#3a78bf"/>
<rect x="409.60" y="24.90" width="1.18" height="2.10" fill="#eba48a"/>
<rect x="409.60" y="22.80" width="1.18" height="2.10" fill="#e6a834"/>
<rect x="409.60" y="17.50" width="1.18" height="5.30" fill="#3eae72"/>
<rect x="410.90" y="24.90" width="1.18" height="2.10" fill="#2f7f46"/>
<rect x="410.90" y="22.80" width="1.18" height="2.10" fill="#4a86f0"/>
<rect x="410.90" y="21.08" width="1.18" height="1.72" fill="#d9bfe0"/>
<rect x="410.90" y="19.70" width="1.18" height="1.38" fill="#3eae72"/>
<rect x="412.20" y="24.90" width="1.18" height="2.10" fill="#2f7f46"/>
<rect x="412.20" y="22.80" width="1.18" height="2.10" fill="#1e1e1e"/>
<rect x="412.20" y="19.87" width="1.18" height="2.93" fill="#d9bfe0"/>
<rect x="412.20" y="16.94" width="1.18" height="2.93" fill="#6cc0ec"/>
<rect x="412.20" y="14.60" width="1.18" height="2.34" fill="#3eae72"/>
<rect x="413.50" y="24.90" width="1.18" height="2.10" fill="#2f7f46"/>
<rect x="413.50" y="22.80" width="1.18" height="2.10" fill="#2f7f46"/>
<rect x="413.50" y="19.87" width="1.18" height="2.93" fill="#1e1e1e"/>
<rect x="413.50" y="16.94" width="1.18" height="2.93" fill="#1e1e1e"/>
<rect x="413.50" y="14.60" width="1.18" height="2.34" fill="#3eae72"/>
<rect x="414.80" y="24.90" width="1.18" height="2.10" fill="#e6a834"/>
<rect x="414.80" y="22.80" width="1.18" height="2.10" fill="#e6a834"/>
<rect x="414.80" y="19.07" width="1.18" height="3.73" fill="#6cc0ec"/>
<rect x="414.80" y="16.08" width="1.18" height="2.98" fill="#3eae72"/>
<rect x="414.80" y="13.10" width="1.18" height="2.98" fill="#3a78bf"/>
<rect x="416.10" y="24.90" width="1.18" height="2.10" fill="#4a86f0"/>
<rect x="416.10" y="20.40" width="1.18" height="4.50" fill="#3eae72"/>
<rect x="417.40" y="24.90" width="1.18" height="2.10" fill="#2f7f46"/>
<rect x="417.40" y="22.80" width="1.18" height="2.10" fill="#2f7f46"/>
<rect x="417.40" y="20.15" width="1.18" height="2.65" fill="#d9bfe0"/>
<rect x="417.40" y="17.50" width="1.18" height="2.65" fill="#1e1e1e"/>
<rect x="418.70" y="24.90" width="1.18" height="2.10" fill="#2f7f46"/>
<rect x="418.70" y="23.77" width="1.18" height="1.13" fill="#d9bfe0"/>
<rect x="418.70" y="22.65" width="1.18" height="1.13" fill="#6cc0ec"/>
<rect x="418.70" y="21.52" width="1.18" height="1.13" fill="#6cc0ec"/>
<rect x="418.70" y="20.40" width="1.18" height="1.12" fill="#6cc0ec"/>
<rect x="420.00" y="24.90" width="1.18" height="2.10" fill="#e6a834"/>
<rect x="420.00" y="22.65" width="1.18" height="2.25" fill="#cf6cb2"/>
<rect x="420.00" y="20.40" width="1.18" height="2.25" fill="#1e1e1e"/>
<rect x="421.30" y="24.90" width="1.18" height="2.10" fill="#2f7f46"/>
<rect x="421.30" y="21.90" width="1.18" height="3.00" fill="#6cc0ec"/>
<rect x="422.60" y="24.90" width="1.18" height="2.10" fill="#2f7f46"/>
<rect x="422.60" y="22.80" width="1.18" height="2.10" fill="#e6a834"/>
<rect x="422.60" y="21.90" width="1.18" height="0.90" fill="#1e1e1e"/>
<rect x="423.90" y="24.90" width="1.18" height="2.10" fill="#4a86f0"/>
<rect x="423.90" y="20.40" width="1.18" height="4.50" fill="#1e1e1e"/>
<rect x="425.20" y="24.90" width="1.18" height="2.10" fill="#e6a834"/>
<rect x="425.20" y="22.80" width="1.18" height="2.10" fill="#ee2a24"/>
<rect x="425.20" y="19.00" width="1.18" height="3.80" fill="#cf6cb2"/>
<rect x="426.50" y="24.90" width="1.18" height="2.10" fill="#2f7f46"/>
<rect x="426.50" y="21.20" width="1.18" height="3.70" fill="#1e1e1e"/>
<rect x="427.80" y="24.90" width="1.18" height="2.10" fill="#2f7f46"/>
<rect x="427.80" y="22.90" width="1.18" height="2.00" fill="#6cc0ec"/>
<rect x="427.80" y="20.90" width="1.18" height="2.00" fill="#6cc0ec"/>
<rect x="427.80" y="18.90" width="1.18" height="2.00" fill="#1e1e1e"/>
<rect x="427.80" y="16.90" width="1.18" height="2.00" fill="#1e1e1e"/>
<rect x="427.80" y="15.30" width="1.18" height="1.60" fill="#3eae72"/>
<rect x="429.10" y="24.90" width="1.18" height="2.10" fill="#2f7f46"/>
<rect x="429.10" y="22.80" width="1.18" height="2.10" fill="#e6a834"/>
<rect x="429.10" y="21.90" width="1.18" height="0.90" fill="#1e1e1e"/>
<rect x="430.40" y="24.90" width="1.18" height="2.10" fill="#e6a834"/>
<rect x="430.40" y="21.90" width="1.18" height="3.00" fill="#d9bfe0"/>
<rect x="431.70" y="24.90" width="1.18" height="2.10" fill="#2f7f46"/>
<rect x="431.70" y="22.63" width="1.18" height="2.27" fill="#6cc0ec"/>
<rect x="431.70" y="20.36" width="1.18" height="2.27" fill="#1e1e1e"/>
<rect x="431.70" y="18.55" width="1.18" height="1.82" fill="#3eae72"/>
<rect x="431.70" y="16.73" width="1.18" height="1.82" fill="#3eae72"/>
<rect x="431.70" y="14.92" width="1.18" height="1.82" fill="#3eae72"/>
<rect x="431.70" y="13.10" width="1.18" height="1.82" fill="#3a78bf"/>
<rect x="433.00" y="24.90" width="1.18" height="2.10" fill="#4a86f0"/>
<rect x="433.00" y="22.72" width="1.18" height="2.18" fill="#d9bfe0"/>
<rect x="433.00" y="20.98" width="1.18" height="1.74" fill="#3eae72"/>
<rect x="433.00" y="19.24" width="1.18" height="1.74" fill="#3a78bf"/>
<rect x="433.00" y="17.50" width="1.18" height="1.74" fill="#3a78bf"/>
<rect x="434.30" y="24.90" width="1.18" height="2.10" fill="#4a86f0"/>
<rect x="434.30" y="23.42" width="1.18" height="1.48" fill="#3eae72"/>
<rect x="434.30" y="21.95" width="1.18" height="1.48" fill="#3a78bf"/>
<rect x="434.30" y="20.47" width="1.18" height="1.48" fill="#3a78bf"/>
<rect x="434.30" y="19.00" width="1.18" height="1.47" fill="#3a78bf"/>
<rect x="435.60" y="24.90" width="1.18" height="2.10" fill="#2f7f46"/>
<rect x="435.60" y="22.52" width="1.18" height="2.38" fill="#6cc0ec"/>
<rect x="435.60" y="20.61" width="1.18" height="1.91" fill="#3eae72"/>
<rect x="435.60" y="18.71" width="1.18" height="1.91" fill="#3a78bf"/>
<rect x="435.60" y="16.80" width="1.18" height="1.91" fill="#3a78bf"/>
<rect x="436.90" y="24.90" width="1.18" height="2.10" fill="#2f7f46"/>
<rect x="436.90" y="22.80" width="1.18" height="2.10" fill="#4a86f0"/>
<rect x="436.90" y="20.49" width="1.18" height="2.31" fill="#d9bfe0"/>
<rect x="436.90" y="18.65" width="1.18" height="1.85" fill="#3a78bf"/>
<rect x="436.90" y="16.80" width="1.18" height="1.85" fill="#3a78bf"/>
<rect x="438.20" y="24.90" width="1.18" height="2.10" fill="#2f7f46"/>
<rect x="438.20" y="22.56" width="1.18" height="2.34" fill="#cf6cb2"/>
<rect x="438.20" y="20.22" width="1.18" height="2.34" fill="#cf6cb2"/>
<rect x="438.20" y="18.35" width="1.18" height="1.87" fill="#3a78bf"/>
<rect x="438.20" y="16.47" width="1.18" height="1.87" fill="#3a78bf"/>
<rect x="438.20" y="14.60" width="1.18" height="1.87" fill="#3a78bf"/>
<rect x="439.50" y="24.90" width="1.18" height="2.10" fill="#2f7f46"/>
<rect x="439.50" y="22.93" width="1.18" height="1.97" fill="#3a78bf"/>
<rect x="439.50" y="20.97" width="1.18" height="1.97" fill="#3a78bf"/>
<rect x="439.50" y="19.00" width="1.18" height="1.97" fill="#3a78bf"/>
<rect x="440.80" y="24.90" width="1.18" height="2.10" fill="#2f7f46"/>
<rect x="440.80" y="22.75" width="1.18" height="2.15" fill="#1e1e1e"/>
<rect x="440.80" y="21.02" width="1.18" height="1.72" fill="#3a78bf"/>
<rect x="440.80" y="19.30" width="1.18" height="1.72" fill="#3a78bf"/>
<rect x="442.10" y="24.90" width="1.18" height="2.10" fill="#eba48a"/>
<rect x="442.10" y="22.75" width="1.18" height="2.15" fill="#6cc0ec"/>
<rect x="442.10" y="21.02" width="1.18" height="1.72" fill="#3a78bf"/>
<rect x="442.10" y="19.30" width="1.18" height="1.72" fill="#3a78bf"/>
<rect x="443.40" y="24.90" width="1.18" height="2.10" fill="#2f7f46"/>
<rect x="443.40" y="22.10" width="1.18" height="2.80" fill="#3a78bf"/>
<rect x="443.40" y="19.30" width="1.18" height="2.80" fill="#3a78bf"/>
<rect x="444.70" y="24.90" width="1.18" height="2.10" fill="#2f7f46"/>
<rect x="444.70" y="23.25" width="1.18" height="1.65" fill="#3a78bf"/>
<rect x="444.70" y="21.60" width="1.18" height="1.65" fill="#3a78bf"/>
<rect x="446.00" y="24.90" width="1.18" height="2.10" fill="#e6a834"/>
<rect x="446.00" y="23.07" width="1.18" height="1.83" fill="#d9bfe0"/>
<rect x="446.00" y="21.60" width="1.18" height="1.47" fill="#3a78bf"/>
<rect x="447.30" y="24.90" width="1.18" height="2.10" fill="#2f7f46"/>
<rect x="447.30" y="22.80" width="1.18" height="2.10" fill="#2f7f46"/>
<rect x="447.30" y="19.86" width="1.18" height="2.94" fill="#d9bfe0"/>
<rect x="447.30" y="17.50" width="1.18" height="2.36" fill="#3eae72"/>
<rect x="448.60" y="24.90" width="1.18" height="2.10" fill="#2f7f46"/>
<rect x="448.60" y="22.95" width="1.18" height="1.95" fill="#1e1e1e"/>
<rect x="448.60" y="21.01" width="1.18" height="1.95" fill="#1e1e1e"/>
<rect x="448.60" y="19.06" width="1.18" height="1.95" fill="#1e1e1e"/>
<rect x="448.60" y="17.50" width="1.18" height="1.56" fill="#3eae72"/>
<rect x="449.90" y="24.90" width="1.18" height="2.10" fill="#4a86f0"/>
<rect x="449.90" y="23.07" width="1.18" height="1.83" fill="#1e1e1e"/>
<rect x="449.90" y="21.60" width="1.18" height="1.47" fill="#3eae72"/>
<rect x="451.20" y="24.90" width="1.18" height="2.10" fill="#2f7f46"/>
<rect x="451.20" y="22.80" width="1.18" height="2.10" fill="#e6a834"/>
<rect x="451.20" y="17.00" width="1.18" height="5.80" fill="#1e1e1e"/>
<rect x="452.50" y="24.90" width="1.18" height="2.10" fill="#ee2a24"/>
<rect x="452.50" y="23.55" width="1.18" height="1.35" fill="#cf6cb2"/>
<rect x="452.50" y="22.20" width="1.18" height="1.35" fill="#cf6cb2"/>
<rect x="453.80" y="24.90" width="1.18" height="2.10" fill="#2f7f46"/>
<rect x="453.80" y="22.20" width="1.18" height="2.70" fill="#cf6cb2"/>
<rect x="455.10" y="24.90" width="1.18" height="2.10" fill="#e6a834"/>
<rect x="455.10" y="21.79" width="1.18" height="3.11" fill="#1e1e1e"/>
<rect x="455.10" y="19.30" width="1.18" height="2.49" fill="#3eae72"/>
<rect x="456.40" y="24.90" width="1.18" height="2.10" fill="#2f7f46"/>
<rect x="456.40" y="23.25" width="1.18" height="1.65" fill="#cf6cb2"/>
<rect x="456.40" y="21.60" width="1.18" height="1.65" fill="#cf6cb2"/>
<rect x="457.70" y="24.90" width="1.18" height="2.10" fill="#2f7f46"/>
<rect x="457.70" y="21.60" width="1.18" height="3.30" fill="#1e1e1e"/>
<rect x="459.00" y="23.40" width="1.18" height="3.60" fill="#e6a834"/>
<rect x="460.30" y="24.90" width="1.18" height="2.10" fill="#2f7f46"/>
<rect x="460.30" y="24.00" width="1.18" height="0.90" fill="#1e1e1e"/>
<rect x="461.60" y="24.90" width="1.18" height="2.10" fill="#2f7f46"/>
<rect x="461.60" y="24.00" width="1.18" height="0.90" fill="#6cc0ec"/>
<rect x="462.90" y="24.90" width="1.18" height="2.10" fill="#2f7f46"/>
<rect x="462.90" y="24.00" width="1.18" height="0.90" fill="#6cc0ec"/>
<rect x="464.20" y="24.90" width="1.18" height="2.10" fill="#2f7f46"/>
<rect x="464.20" y="24.00" width="1.18" height="0.90" fill="#1e1e1e"/>
<rect x="465.50" y="24.90" width="1.18" height="2.10" fill="#4a86f0"/>
<rect x="465.50" y="22.95" width="1.18" height="1.95" fill="#1e1e1e"/>
<rect x="465.50" y="21.00" width="1.18" height="1.95" fill="#1e1e1e"/>
<rect x="466.80" y="24.90" width="1.18" height="2.10" fill="#2f7f46"/>
<rect x="466.80" y="24.00" width="1.18" height="0.90" fill="#6cc0ec"/>
<rect x="468.10" y="24.90" width="1.18" height="2.10" fill="#e6a834"/>
<rect x="468.10" y="24.00" width="1.18" height="0.90" fill="#d9bfe0"/>
<rect x="469.40" y="24.90" width="1.18" height="2.10" fill="#2f7f46"/>
<rect x="469.40" y="24.00" width="1.18" height="0.90" fill="#d9bfe0"/>
<rect x="470.70" y="24.90" width="1.18" height="2.10" fill="#2f7f46"/>
<rect x="470.70" y="22.73" width="1.18" height="2.17" fill="#1e1e1e"/>
<rect x="470.70" y="21.00" width="1.18" height="1.73" fill="#3a78bf"/>
<rect x="472.00" y="24.90" width="1.18" height="2.10" fill="#ee2a24"/>
<rect x="472.00" y="21.00" width="1.18" height="3.90" fill="#1e1e1e"/>
<rect x="473.30" y="24.90" width="1.18" height="2.10" fill="#2f7f46"/>
<rect x="473.30" y="22.95" width="1.18" height="1.95" fill="#cf6cb2"/>
<rect x="473.30" y="21.00" width="1.18" height="1.95" fill="#cf6cb2"/>
<rect x="474.60" y="24.90" width="1.18" height="2.10" fill="#e6a834"/>
<rect x="474.60" y="22.80" width="1.18" height="2.10" fill="#2f7f46"/>
<rect x="474.60" y="21.90" width="1.18" height="0.90" fill="#6cc0ec"/>
<rect x="474.60" y="21.00" width="1.18" height="0.90" fill="#6cc0ec"/>
<rect x="475.90" y="24.90" width="1.18" height="2.10" fill="#2f7f46"/>
<rect x="475.90" y="22.80" width="1.18" height="2.10" fill="#4a86f0"/>
<rect x="475.90" y="21.00" width="1.18" height="1.80" fill="#d9bfe0"/>
<rect x="477.20" y="22.80" width="1.18" height="4.20" fill="#ee2a24"/>
<rect x="478.50" y="24.90" width="1.18" height="2.10" fill="#2f7f46"/>
<rect x="478.50" y="21.60" width="1.18" height="3.30" fill="#1e1e1e"/>
<rect x="479.80" y="24.90" width="1.18" height="2.10" fill="#2f7f46"/>
<rect x="479.80" y="23.40" width="1.18" height="1.50" fill="#1e1e1e"/>
<rect x="481.10" y="24.90" width="1.18" height="2.10" fill="#ee2a24"/>
<rect x="481.10" y="23.40" width="1.18" height="1.50" fill="#d9bfe0"/>
<rect x="482.40" y="24.90" width="1.18" height="2.10" fill="#4a86f0"/>
<rect x="482.40" y="22.95" width="1.18" height="1.95" fill="#1e1e1e"/>
<rect x="482.40" y="21.00" width="1.18" height="1.95" fill="#1e1e1e"/>
<rect x="483.70" y="24.90" width="1.18" height="2.10" fill="#2f7f46"/>
<rect x="483.70" y="23.40" width="1.18" height="1.50" fill="#d9bfe0"/>
<rect x="485.00" y="25.00" width="1.18" height="2.00" fill="#7c6c4e"/>
<rect x="486.30" y="25.00" width="1.18" height="2.00" fill="#7c6c4e"/>
<rect x="487.60" y="25.00" width="1.18" height="2.00" fill="#2f7f46"/>
<rect x="488.90" y="25.00" width="1.18" height="2.00" fill="#ee2a24"/>
<rect x="490.20" y="25.00" width="1.18" height="2.00" fill="#2f7f46"/>
<rect x="491.50" y="25.00" width="1.18" height="2.00" fill="#2f7f46"/>
<rect x="492.80" y="25.00" width="1.18" height="2.00" fill="#2f7f46"/>
<rect x="494.10" y="25.00" width="1.18" height="2.00" fill="#2f7f46"/>
<rect x="495.40" y="25.00" width="1.18" height="2.00" fill="#4a86f0"/>
<rect x="496.70" y="25.00" width="1.18" height="2.00" fill="#2f7f46"/>
<rect x="498.00" y="25.00" width="1.18" height="2.00" fill="#2f7f46"/>
<rect x="499.30" y="25.00" width="1.18" height="2.00" fill="#2f7f46"/>
<rect x="500.60" y="25.00" width="1.18" height="2.00" fill="#7c6c4e"/>
<rect x="501.90" y="24.90" width="1.18" height="2.10" fill="#4a86f0"/>
<rect x="501.90" y="21.63" width="1.18" height="3.27" fill="#cf6cb2"/>
<rect x="501.90" y="18.37" width="1.18" height="3.27" fill="#6cc0ec"/>
<rect x="501.90" y="15.10" width="1.18" height="3.27" fill="#1e1e1e"/>
<rect x="501.90" y="11.84" width="1.18" height="3.27" fill="#1e1e1e"/>
<rect x="501.90" y="9.22" width="1.18" height="2.61" fill="#3eae72"/>
<rect x="501.90" y="6.61" width="1.18" height="2.61" fill="#3eae72"/>
<rect x="501.90" y="4.00" width="1.18" height="2.61" fill="#3a78bf"/>
<rect x="503.20" y="24.87" width="1.18" height="2.13" fill="#cf6cb2"/>
<rect x="503.20" y="22.74" width="1.18" height="2.13" fill="#d9bfe0"/>
<rect x="503.20" y="20.61" width="1.18" height="2.13" fill="#1e1e1e"/>
<rect x="503.20" y="18.48" width="1.18" height="2.13" fill="#1e1e1e"/>
<rect x="503.20" y="16.35" width="1.18" height="2.13" fill="#1e1e1e"/>
<rect x="503.20" y="14.22" width="1.18" height="2.13" fill="#1e1e1e"/>
<rect x="503.20" y="12.52" width="1.18" height="1.70" fill="#3eae72"/>
<rect x="503.20" y="10.81" width="1.18" height="1.70" fill="#3a78bf"/>
<rect x="503.20" y="9.11" width="1.18" height="1.70" fill="#3a78bf"/>
<rect x="503.20" y="7.41" width="1.18" height="1.70" fill="#3a78bf"/>
<rect x="503.20" y="5.70" width="1.18" height="1.70" fill="#3a78bf"/>
<rect x="503.20" y="4.00" width="1.18" height="1.70" fill="#3a78bf"/>
<rect x="504.50" y="23.81" width="1.18" height="3.19" fill="#cf6cb2"/>
<rect x="504.50" y="21.25" width="1.18" height="2.55" fill="#3eae72"/>
<rect x="504.50" y="18.70" width="1.18" height="2.55" fill="#3a78bf"/>
<rect x="505.80" y="24.90" width="1.18" height="2.10" fill="#ee2a24"/>
<rect x="505.80" y="21.46" width="1.18" height="3.44" fill="#1e1e1e"/>
<rect x="505.80" y="18.70" width="1.18" height="2.76" fill="#3a78bf"/>
<rect x="507.10" y="22.80" width="1.18" height="4.20" fill="#d9bfe0"/>
<rect x="508.40" y="25.00" width="1.18" height="2.00" fill="#cf6cb2"/>
<rect x="508.40" y="23.00" width="1.18" height="2.00" fill="#cf6cb2"/>
<rect x="508.40" y="21.00" width="1.18" height="2.00" fill="#6cc0ec"/>
<rect x="509.70" y="22.80" width="1.18" height="4.20" fill="#1e1e1e"/>
<text x="79.80" y="36.00" font-size="7.3" text-anchor="end" fill="#1a1a1a" font-weight="normal" stroke="#1a1a1a" stroke-width="0.3">TP53</text>
<text x="79.80" y="45.30" font-size="7.3" text-anchor="end" fill="#1a1a1a" font-weight="normal" stroke="#1a1a1a" stroke-width="0.3">CEP89</text>
<text x="79.80" y="54.60" font-size="7.3" text-anchor="end" fill="#1a1a1a" font-weight="normal" stroke="#1a1a1a" stroke-width="0.3">CCNE1</text>
<text x="79.80" y="63.90" font-size="7.3" text-anchor="end" fill="#1a1a1a" font-weight="normal" stroke="#1a1a1a" stroke-width="0.3">NF1</text>
<text x="79.80" y="73.20" font-size="7.3" text-anchor="end" fill="#1a1a1a" font-weight="normal" stroke="#1a1a1a" stroke-width="0.3">PTEN</text>
<text x="79.80" y="82.50" font-size="7.3" text-anchor="end" fill="#1a1a1a" font-weight="normal" stroke="#1a1a1a" stroke-width="0.3">RB1</text>
<text x="79.80" y="91.80" font-size="7.3" text-anchor="end" fill="#1a1a1a" font-weight="normal" stroke="#1a1a1a" stroke-width="0.3">BRCA1</text>
<text x="79.80" y="101.10" font-size="7.3" text-anchor="end" fill="#1a1a1a" font-weight="normal" stroke="#1a1a1a" stroke-width="0.3">CDK12</text>
<text x="79.80" y="110.40" font-size="7.3" text-anchor="end" fill="#1a1a1a" font-weight="normal" stroke="#1a1a1a" stroke-width="0.3">TAS2R43</text>
<text x="79.80" y="119.70" font-size="7.3" text-anchor="end" fill="#1a1a1a" font-weight="normal" stroke="#1a1a1a" stroke-width="0.3">SLC35G5</text>
<text x="79.80" y="129.00" font-size="7.3" text-anchor="end" fill="#1a1a1a" font-weight="normal" stroke="#1a1a1a" stroke-width="0.3">BRCA2</text>
<text x="79.80" y="145.25" font-size="7.3" text-anchor="end" fill="#1a1a1a" font-weight="normal" stroke="#1a1a1a" stroke-width="0.3">LEPROTL1</text>
<text x="79.80" y="154.60" font-size="7.3" text-anchor="end" fill="#1a1a1a" font-weight="normal" stroke="#1a1a1a" stroke-width="0.3">WRN</text>
<text x="79.80" y="163.95" font-size="7.3" text-anchor="end" fill="#1a1a1a" font-weight="normal" stroke="#1a1a1a" stroke-width="0.3">TCEA1</text>
<text x="79.80" y="173.30" font-size="7.3" text-anchor="end" fill="#1a1a1a" font-weight="normal" stroke="#1a1a1a" stroke-width="0.3">PCM1</text>
<text x="79.80" y="182.65" font-size="7.3" text-anchor="end" fill="#1a1a1a" font-weight="normal" stroke="#1a1a1a" stroke-width="0.3">ARID1B</text>
<text x="79.80" y="192.00" font-size="7.3" text-anchor="end" fill="#1a1a1a" font-weight="normal" stroke="#1a1a1a" stroke-width="0.3">DNMT3A</text>
<text x="79.80" y="201.35" font-size="7.3" text-anchor="end" fill="#1a1a1a" font-weight="normal" stroke="#1a1a1a" stroke-width="0.3">CEP43</text>
<text x="79.80" y="210.70" font-size="7.3" text-anchor="end" fill="#1a1a1a" font-weight="normal" stroke="#1a1a1a" stroke-width="0.3">AXIN1</text>
<text x="512.20" y="36.00" font-size="7.3" text-anchor="start" fill="#1a1a1a" font-weight="normal" stroke="#1a1a1a" stroke-width="0.22">88%</text>
<text x="530.00" y="36.00" font-size="7.3" text-anchor="start" fill="#1a1a1a" font-weight="normal" stroke="#1a1a1a" stroke-width="0.22">(98%)</text>
<text x="512.20" y="45.30" font-size="7.3" text-anchor="start" fill="#1a1a1a" font-weight="normal" stroke="#1a1a1a" stroke-width="0.22">18%</text>
<text x="530.00" y="45.30" font-size="7.3" text-anchor="start" fill="#1a1a1a" font-weight="normal" stroke="#1a1a1a" stroke-width="0.22">(35%)</text>
<text x="512.20" y="54.60" font-size="7.3" text-anchor="start" fill="#1a1a1a" font-weight="normal" stroke="#1a1a1a" stroke-width="0.22">19%</text>
<text x="530.00" y="54.60" font-size="7.3" text-anchor="start" fill="#1a1a1a" font-weight="normal" stroke="#1a1a1a" stroke-width="0.22">(33%)</text>
<text x="512.20" y="63.90" font-size="7.3" text-anchor="start" fill="#1a1a1a" font-weight="normal" stroke="#1a1a1a" stroke-width="0.22">15%</text>
<text x="530.00" y="63.90" font-size="7.3" text-anchor="start" fill="#1a1a1a" font-weight="normal" stroke="#1a1a1a" stroke-width="0.22">(29%)</text>
<text x="512.20" y="73.20" font-size="7.3" text-anchor="start" fill="#1a1a1a" font-weight="normal" stroke="#1a1a1a" stroke-width="0.22">14%</text>
<text x="530.00" y="73.20" font-size="7.3" text-anchor="start" fill="#1a1a1a" font-weight="normal" stroke="#1a1a1a" stroke-width="0.22">(23%)</text>
<text x="512.20" y="82.50" font-size="7.3" text-anchor="start" fill="#1a1a1a" font-weight="normal" stroke="#1a1a1a" stroke-width="0.22">14%</text>
<text x="530.00" y="82.50" font-size="7.3" text-anchor="start" fill="#1a1a1a" font-weight="normal" stroke="#1a1a1a" stroke-width="0.22">(21%)</text>
<text x="512.20" y="91.80" font-size="7.3" text-anchor="start" fill="#1a1a1a" font-weight="normal" stroke="#1a1a1a" stroke-width="0.22">10%</text>
<text x="530.00" y="91.80" font-size="7.3" text-anchor="start" fill="#1a1a1a" font-weight="normal" stroke="#1a1a1a" stroke-width="0.22">(17%)</text>
<text x="512.20" y="101.10" font-size="7.3" text-anchor="start" fill="#1a1a1a" font-weight="normal" stroke="#1a1a1a" stroke-width="0.22">9%</text>
<text x="530.00" y="101.10" font-size="7.3" text-anchor="start" fill="#1a1a1a" font-weight="normal" stroke="#1a1a1a" stroke-width="0.22">(16%)</text>
<text x="512.20" y="110.40" font-size="7.3" text-anchor="start" fill="#1a1a1a" font-weight="normal" stroke="#1a1a1a" stroke-width="0.22">6%</text>
<text x="530.00" y="110.40" font-size="7.3" text-anchor="start" fill="#1a1a1a" font-weight="normal" stroke="#1a1a1a" stroke-width="0.22">(16%)</text>
<text x="512.20" y="119.70" font-size="7.3" text-anchor="start" fill="#1a1a1a" font-weight="normal" stroke="#1a1a1a" stroke-width="0.22">4%</text>
<text x="530.00" y="119.70" font-size="7.3" text-anchor="start" fill="#1a1a1a" font-weight="normal" stroke="#1a1a1a" stroke-width="0.22">(13%)</text>
<text x="512.20" y="129.00" font-size="7.3" text-anchor="start" fill="#1a1a1a" font-weight="normal" stroke="#1a1a1a" stroke-width="0.22">7%</text>
<text x="530.00" y="129.00" font-size="7.3" text-anchor="start" fill="#1a1a1a" font-weight="normal" stroke="#1a1a1a" stroke-width="0.22">(12%)</text>
<text x="512.20" y="145.25" font-size="7.3" text-anchor="start" fill="#1a1a1a" font-weight="normal" stroke="#1a1a1a" stroke-width="0.22">26%</text>
<text x="530.00" y="145.25" font-size="7.3" text-anchor="start" fill="#1a1a1a" font-weight="normal" stroke="#1a1a1a" stroke-width="0.22">(34%)</text>
<text x="512.20" y="154.60" font-size="7.3" text-anchor="start" fill="#1a1a1a" font-weight="normal" stroke="#1a1a1a" stroke-width="0.22">21%</text>
<text x="530.00" y="154.60" font-size="7.3" text-anchor="start" fill="#1a1a1a" font-weight="normal" stroke="#1a1a1a" stroke-width="0.22">(32%)</text>
<text x="512.20" y="163.95" font-size="7.3" text-anchor="start" fill="#1a1a1a" font-weight="normal" stroke="#1a1a1a" stroke-width="0.22">31%</text>
<text x="530.00" y="163.95" font-size="7.3" text-anchor="start" fill="#1a1a1a" font-weight="normal" stroke="#1a1a1a" stroke-width="0.22">(31%)</text>
<text x="512.20" y="173.30" font-size="7.3" text-anchor="start" fill="#1a1a1a" font-weight="normal" stroke="#1a1a1a" stroke-width="0.22">25%</text>
<text x="530.00" y="173.30" font-size="7.3" text-anchor="start" fill="#1a1a1a" font-weight="normal" stroke="#1a1a1a" stroke-width="0.22">(30%)</text>
<text x="512.20" y="182.65" font-size="7.3" text-anchor="start" fill="#1a1a1a" font-weight="normal" stroke="#1a1a1a" stroke-width="0.22">17%</text>
<text x="530.00" y="182.65" font-size="7.3" text-anchor="start" fill="#1a1a1a" font-weight="normal" stroke="#1a1a1a" stroke-width="0.22">(25%)</text>
<text x="512.20" y="192.00" font-size="7.3" text-anchor="start" fill="#1a1a1a" font-weight="normal" stroke="#1a1a1a" stroke-width="0.22">24%</text>
<text x="530.00" y="192.00" font-size="7.3" text-anchor="start" fill="#1a1a1a" font-weight="normal" stroke="#1a1a1a" stroke-width="0.22">(25%)</text>
<text x="512.20" y="201.35" font-size="7.3" text-anchor="start" fill="#1a1a1a" font-weight="normal" stroke="#1a1a1a" stroke-width="0.22">16%</text>
<text x="530.00" y="201.35" font-size="7.3" text-anchor="start" fill="#1a1a1a" font-weight="normal" stroke="#1a1a1a" stroke-width="0.22">(24%)</text>
<text x="512.20" y="210.70" font-size="7.3" text-anchor="start" fill="#1a1a1a" font-weight="normal" stroke="#1a1a1a" stroke-width="0.22">10%</text>
<text x="530.00" y="210.70" font-size="7.3" text-anchor="start" fill="#1a1a1a" font-weight="normal" stroke="#1a1a1a" stroke-width="0.22">(19%)</text>
<text x="0" y="0" font-size="6.0" text-anchor="middle" fill="#1a1a1a" stroke="#1a1a1a" stroke-width="0.2" transform="translate(37.6,79.6) rotate(-90)">SNV / SV</text>
<text x="0" y="0" font-size="6.0" text-anchor="middle" fill="#1a1a1a" stroke="#1a1a1a" stroke-width="0.2" transform="translate(37.6,172.4) rotate(-90)">CNA</text>
<text x="302.00" y="224.60" font-size="6.7" text-anchor="middle" fill="#1a1a1a" font-weight="normal" stroke="#1a1a1a" stroke-width="0.22">Samples</text>
<line x1="81.50" y1="1.50" x2="81.50" y2="27.20" stroke="#555" stroke-width="0.7"/>
<line x1="80.30" y1="27.20" x2="81.50" y2="27.20" stroke="#555" stroke-width="0.5"/>
<text x="79.60" y="28.60" font-size="4" text-anchor="end" fill="#333" font-weight="normal">0</text>
<line x1="80.30" y1="16.70" x2="81.50" y2="16.70" stroke="#555" stroke-width="0.5"/>
<text x="79.60" y="18.10" font-size="4" text-anchor="end" fill="#333" font-weight="normal">5</text>
<line x1="80.30" y1="6.20" x2="81.50" y2="6.20" stroke="#555" stroke-width="0.5"/>
<text x="79.60" y="7.60" font-size="4" text-anchor="end" fill="#333" font-weight="normal">10</text>
<line x1="553.60" y1="28.50" x2="584.60" y2="28.50" stroke="#555" stroke-width="0.7"/>
<line x1="553.60" y1="27.00" x2="553.60" y2="28.50" stroke="#555" stroke-width="0.5"/>
<text x="553.60" y="26.00" font-size="3.7" text-anchor="middle" fill="#555" font-weight="normal">0</text>
<line x1="562.20" y1="27.00" x2="562.20" y2="28.50" stroke="#555" stroke-width="0.5"/>
<text x="562.20" y="26.00" font-size="3.7" text-anchor="middle" fill="#555" font-weight="normal">100</text>
<line x1="570.80" y1="27.00" x2="570.80" y2="28.50" stroke="#555" stroke-width="0.5"/>
<text x="570.80" y="26.00" font-size="3.7" text-anchor="middle" fill="#555" font-weight="normal">200</text>
<line x1="579.40" y1="27.00" x2="579.40" y2="28.50" stroke="#555" stroke-width="0.5"/>
<text x="579.40" y="26.00" font-size="3.7" text-anchor="middle" fill="#555" font-weight="normal">300</text>
<rect x="553.80" y="29.90" width="16.10" height="7.0" fill="#2f7f46"/>
<rect x="569.90" y="29.90" width="4.10" height="7.0" fill="#4a86f0"/>
<rect x="574.00" y="29.90" width="2.90" height="7.0" fill="#e6a834"/>
<rect x="576.90" y="29.90" width="1.90" height="7.0" fill="#ee2a24"/>
<rect x="578.80" y="29.90" width="1.60" height="7.0" fill="#7c6c4e"/>
<rect x="580.40" y="29.90" width="1.10" height="7.0" fill="#3414a8"/>
<rect x="581.50" y="29.90" width="1.70" height="7.0" fill="#1e1e1e"/>
<rect x="553.80" y="39.20" width="2.50" height="7.0" fill="#cf6cb2"/>
<rect x="556.30" y="39.20" width="2.40" height="7.0" fill="#6cc0ec"/>
<rect x="558.70" y="39.20" width="5.20" height="7.0" fill="#1e1e1e"/>
<rect x="553.80" y="48.50" width="2.50" height="7.0" fill="#cf6cb2"/>
<rect x="556.30" y="48.50" width="1.70" height="7.0" fill="#6cc0ec"/>
<rect x="558.00" y="48.50" width="5.00" height="7.0" fill="#1e1e1e"/>
<rect x="553.80" y="57.80" width="0.70" height="7.0" fill="#e6a834"/>
<rect x="554.50" y="57.80" width="0.50" height="7.0" fill="#4a86f0"/>
<rect x="555.00" y="57.80" width="2.00" height="7.0" fill="#cf6cb2"/>
<rect x="557.00" y="57.80" width="1.00" height="7.0" fill="#eba48a"/>
<rect x="558.00" y="57.80" width="1.50" height="7.0" fill="#d9bfe0"/>
<rect x="559.50" y="57.80" width="1.00" height="7.0" fill="#6cc0ec"/>
<rect x="560.50" y="57.80" width="1.40" height="7.0" fill="#1e1e1e"/>
<rect x="553.80" y="67.10" width="0.70" height="7.0" fill="#d9bfe0"/>
<rect x="554.50" y="67.10" width="2.50" height="7.0" fill="#cf6cb2"/>
<rect x="557.00" y="67.10" width="0.80" height="7.0" fill="#d9bfe0"/>
<rect x="557.80" y="67.10" width="0.70" height="7.0" fill="#6cc0ec"/>
<rect x="558.50" y="67.10" width="1.50" height="7.0" fill="#1e1e1e"/>
<rect x="553.80" y="76.40" width="0.70" height="7.0" fill="#e6a834"/>
<rect x="554.50" y="76.40" width="2.00" height="7.0" fill="#cf6cb2"/>
<rect x="556.50" y="76.40" width="1.50" height="7.0" fill="#d9bfe0"/>
<rect x="558.00" y="76.40" width="1.00" height="7.0" fill="#6cc0ec"/>
<rect x="559.00" y="76.40" width="0.80" height="7.0" fill="#1e1e1e"/>
<rect x="553.80" y="85.70" width="1.00" height="7.0" fill="#4a86f0"/>
<rect x="554.80" y="85.70" width="0.70" height="7.0" fill="#6cc0ec"/>
<rect x="555.50" y="85.70" width="1.00" height="7.0" fill="#4a86f0"/>
<rect x="556.50" y="85.70" width="2.00" height="7.0" fill="#1e1e1e"/>
<rect x="553.80" y="95.00" width="1.00" height="7.0" fill="#2f7f46"/>
<rect x="554.80" y="95.00" width="1.70" height="7.0" fill="#cf6cb2"/>
<rect x="556.50" y="95.00" width="2.40" height="7.0" fill="#1e1e1e"/>
<rect x="553.80" y="104.30" width="1.00" height="7.0" fill="#2f7f46"/>
<rect x="554.80" y="104.30" width="1.70" height="7.0" fill="#6cc0ec"/>
<rect x="556.50" y="104.30" width="1.80" height="7.0" fill="#1e1e1e"/>
<rect x="553.80" y="113.60" width="1.70" height="7.0" fill="#2f7f46"/>
<rect x="555.50" y="113.60" width="1.30" height="7.0" fill="#6cc0ec"/>
<rect x="556.80" y="113.60" width="1.10" height="7.0" fill="#1e1e1e"/>
<rect x="553.80" y="122.90" width="1.20" height="7.0" fill="#cf6cb2"/>
<rect x="555.00" y="122.90" width="1.00" height="7.0" fill="#4a86f0"/>
<rect x="556.00" y="122.90" width="1.00" height="7.0" fill="#6cc0ec"/>
<rect x="557.00" y="122.90" width="0.90" height="7.0" fill="#1e1e1e"/>
<rect x="553.8" y="139.05" width="2.20" height="7.2" fill="#3eae72"/>
<rect x="556.00" y="139.05" width="6.90" height="7.2" fill="#3a78bf"/>
<rect x="553.8" y="148.40" width="3.20" height="7.2" fill="#3eae72"/>
<rect x="557.00" y="148.40" width="5.90" height="7.2" fill="#3a78bf"/>
<rect x="553.8" y="157.75" width="8.70" height="7.2" fill="#3eae72"/>
<rect x="562.50" y="157.75" width="0.40" height="7.2" fill="#3a78bf"/>
<rect x="553.8" y="167.10" width="1.20" height="7.2" fill="#3eae72"/>
<rect x="555.00" y="167.10" width="6.90" height="7.2" fill="#3a78bf"/>
<rect x="553.8" y="176.45" width="2.20" height="7.2" fill="#3eae72"/>
<rect x="556.00" y="176.45" width="4.80" height="7.2" fill="#3a78bf"/>
<rect x="553.8" y="185.80" width="7.00" height="7.2" fill="#3eae72"/>
<rect x="553.8" y="195.15" width="2.20" height="7.2" fill="#3eae72"/>
<rect x="556.00" y="195.15" width="4.40" height="7.2" fill="#3a78bf"/>
<rect x="553.8" y="204.50" width="1.20" height="7.2" fill="#3eae72"/>
<rect x="555.00" y="204.50" width="4.10" height="7.2" fill="#3a78bf"/>
<line x1="571.40" y1="40.80" x2="571.40" y2="46.00" stroke="#111" stroke-width="1.05"/>
<line x1="569.15" y1="42.10" x2="573.65" y2="44.70" stroke="#111" stroke-width="1.05"/>
<line x1="573.65" y1="42.10" x2="569.15" y2="44.70" stroke="#111" stroke-width="1.05"/>
<line x1="571.40" y1="49.20" x2="571.40" y2="54.40" stroke="#111" stroke-width="1.05"/>
<line x1="569.15" y1="50.50" x2="573.65" y2="53.10" stroke="#111" stroke-width="1.05"/>
<line x1="573.65" y1="50.50" x2="569.15" y2="53.10" stroke="#111" stroke-width="1.05"/>
<line x1="571.40" y1="158.25" x2="571.40" y2="163.45" stroke="#111" stroke-width="1.05"/>
<line x1="569.15" y1="159.55" x2="573.65" y2="162.15" stroke="#111" stroke-width="1.05"/>
<line x1="573.65" y1="159.55" x2="569.15" y2="162.15" stroke="#111" stroke-width="1.05"/>
<line x1="571.40" y1="186.80" x2="571.40" y2="192.00" stroke="#111" stroke-width="1.05"/>
<line x1="569.15" y1="188.10" x2="573.65" y2="190.70" stroke="#111" stroke-width="1.05"/>
<line x1="573.65" y1="188.10" x2="569.15" y2="190.70" stroke="#111" stroke-width="1.05"/>
<text x="611.90" y="28.30" font-size="8" text-anchor="start" fill="#111" font-weight="bold" stroke="#111" stroke-width="0.22">SNV</text>
<rect x="611.90" y="33.00" width="8.40" height="8.60" fill="#2f7f46"/>
<text x="622.70" y="40.25" font-size="8.2" text-anchor="start" fill="#1a1a1a" font-weight="normal" stroke="#1a1a1a" stroke-width="0.12">Missense</text>
<rect x="611.90" y="42.23" width="8.40" height="8.60" fill="#4a86f0"/>
<text x="622.70" y="49.48" font-size="8.2" text-anchor="start" fill="#1a1a1a" font-weight="normal" stroke="#1a1a1a" stroke-width="0.12">Frameshift</text>
<rect x="611.90" y="51.46" width="8.40" height="8.60" fill="#e6a834"/>
<text x="622.70" y="58.71" font-size="8.2" text-anchor="start" fill="#1a1a1a" font-weight="normal" stroke="#1a1a1a" stroke-width="0.12">Stop Gained</text>
<rect x="611.90" y="60.69" width="8.40" height="8.60" fill="#ee2a24"/>
<text x="622.70" y="67.94" font-size="8.2" text-anchor="start" fill="#1a1a1a" font-weight="normal" stroke="#1a1a1a" stroke-width="0.12">Splice−Acceptor</text>
<rect x="611.90" y="69.92" width="8.40" height="8.60" fill="#eba48a"/>
<text x="622.70" y="77.17" font-size="8.2" text-anchor="start" fill="#1a1a1a" font-weight="normal" stroke="#1a1a1a" stroke-width="0.12">Inframe Deletion</text>
<rect x="611.90" y="79.15" width="8.40" height="8.60" fill="#3414a8"/>
<text x="622.70" y="86.40" font-size="8.2" text-anchor="start" fill="#1a1a1a" font-weight="normal" stroke="#1a1a1a" stroke-width="0.12">Inframe Insertion</text>
<rect x="611.90" y="88.38" width="8.40" height="8.60" fill="#7c6c4e"/>
<text x="622.70" y="95.63" font-size="8.2" text-anchor="start" fill="#1a1a1a" font-weight="normal" stroke="#1a1a1a" stroke-width="0.12">Splice Donor</text>
<rect x="611.90" y="97.61" width="8.40" height="8.60" fill="#1e1e1e"/>
<text x="622.70" y="104.86" font-size="8.2" text-anchor="start" fill="#1a1a1a" font-weight="normal" stroke="#1a1a1a" stroke-width="0.12">SNV Multi−hit</text>
<text x="611.90" y="121.60" font-size="8" text-anchor="start" fill="#111" font-weight="bold" stroke="#111" stroke-width="0.22">SV</text>
<rect x="611.90" y="126.60" width="8.40" height="8.60" fill="#f3f3f3"/>
<rect x="611.90" y="130.00" width="8.40" height="1.80" fill="#cf6cb2"/>
<text x="622.70" y="133.85" font-size="8.2" text-anchor="start" fill="#1a1a1a" font-weight="normal" stroke="#1a1a1a" stroke-width="0.12">Duplication</text>
<rect x="611.90" y="135.75" width="8.40" height="8.60" fill="#f3f3f3"/>
<rect x="611.90" y="139.15" width="8.40" height="1.80" fill="#d9bfe0"/>
<text x="622.70" y="143.00" font-size="8.2" text-anchor="start" fill="#1a1a1a" font-weight="normal" stroke="#1a1a1a" stroke-width="0.12">Deletion</text>
<rect x="611.90" y="144.90" width="8.40" height="8.60" fill="#f3f3f3"/>
<rect x="611.90" y="148.30" width="8.40" height="1.80" fill="#6cc0ec"/>
<text x="622.70" y="152.15" font-size="8.2" text-anchor="start" fill="#1a1a1a" font-weight="normal" stroke="#1a1a1a" stroke-width="0.12">Inversion</text>
<rect x="611.90" y="154.05" width="8.40" height="8.60" fill="#f3f3f3"/>
<rect x="611.90" y="157.45" width="8.40" height="1.80" fill="#e2a02a"/>
<text x="622.70" y="161.30" font-size="8.2" text-anchor="start" fill="#1a1a1a" font-weight="normal" stroke="#1a1a1a" stroke-width="0.12">Translocation</text>
<rect x="611.90" y="163.20" width="8.40" height="8.60" fill="#f3f3f3"/>
<rect x="611.90" y="166.60" width="8.40" height="1.80" fill="#1e1e1e"/>
<text x="622.70" y="170.45" font-size="8.2" text-anchor="start" fill="#1a1a1a" font-weight="normal" stroke="#1a1a1a" stroke-width="0.12">SV Multi−hit</text>
<text x="611.90" y="188.60" font-size="8" text-anchor="start" fill="#111" font-weight="bold" stroke="#111" stroke-width="0.22">CNA</text>
<rect x="611.90" y="192.90" width="8.40" height="8.60" fill="#f3f3f3"/>
<rect x="611.90" y="195.90" width="8.40" height="2.60" fill="#3eae72"/>
<text x="622.70" y="200.15" font-size="8.2" text-anchor="start" fill="#1a1a1a" font-weight="normal" stroke="#1a1a1a" stroke-width="0.12">Duplication</text>
<rect x="611.90" y="202.05" width="8.40" height="8.60" fill="#f3f3f3"/>
<rect x="611.90" y="205.05" width="8.40" height="2.60" fill="#3a78bf"/>
<text x="622.70" y="209.30" font-size="8.2" text-anchor="start" fill="#1a1a1a" font-weight="normal" stroke="#1a1a1a" stroke-width="0.12">Deletion</text>
<text x="0" y="0" font-size="12.6" fill="#111" stroke="#111" stroke-width="0.15" transform="translate(1.2,246.8) scale(0.85,1)">B</text>
<line x1="76.60" y1="234.00" x2="76.60" y2="363.80" stroke="#555" stroke-width="0.85"/>
<line x1="76.20" y1="363.40" x2="177.60" y2="363.40" stroke="#555" stroke-width="0.85"/>
<rect x="81.80" y="237.35" width="83.16" height="18.70" fill="#c472b4"/>
<text x="155.16" y="248.80" font-size="6.0" text-anchor="middle" fill="#fff" font-weight="normal" stroke="#fff" stroke-width="0.1">90</text>
<line x1="74.90" y1="246.70" x2="76.60" y2="246.70" stroke="#555" stroke-width="0.6"/>
<text x="73.70" y="249.10" font-size="6.7" text-anchor="end" fill="#222" font-weight="normal" stroke="#222" stroke-width="0.22">Coding SNV/INDEL</text>
<rect x="81.80" y="258.10" width="37.88" height="18.70" fill="#6cbde8"/>
<text x="109.88" y="269.55" font-size="6.0" text-anchor="middle" fill="#fff" font-weight="normal" stroke="#fff" stroke-width="0.1">41</text>
<line x1="74.90" y1="267.45" x2="76.60" y2="267.45" stroke="#555" stroke-width="0.6"/>
<text x="73.70" y="269.85" font-size="6.7" text-anchor="end" fill="#222" font-weight="normal" stroke="#222" stroke-width="0.22">Simple SV</text>
<rect x="81.80" y="278.85" width="21.25" height="18.70" fill="#e0a02a"/>
<text x="93.25" y="290.30" font-size="6.0" text-anchor="middle" fill="#fff" font-weight="normal" stroke="#fff" stroke-width="0.1">23</text>
<line x1="74.90" y1="288.20" x2="76.60" y2="288.20" stroke="#555" stroke-width="0.6"/>
<text x="73.70" y="290.60" font-size="6.7" text-anchor="end" fill="#222" font-weight="normal" stroke="#222" stroke-width="0.22">Clustered SV</text>
<rect x="81.80" y="299.60" width="40.66" height="18.70" fill="#3daa78"/>
<text x="112.66" y="311.05" font-size="6.0" text-anchor="middle" fill="#fff" font-weight="normal" stroke="#fff" stroke-width="0.1">44</text>
<line x1="74.90" y1="308.95" x2="76.60" y2="308.95" stroke="#555" stroke-width="0.6"/>
<text x="68.80" y="311.35" font-size="6.7" text-anchor="end" fill="#222" font-weight="normal" stroke="#222" stroke-width="0.22">CNA duplication</text>
<rect x="81.80" y="320.35" width="40.66" height="18.70" fill="#3a79b9"/>
<text x="112.66" y="331.80" font-size="6.0" text-anchor="middle" fill="#fff" font-weight="normal" stroke="#fff" stroke-width="0.1">44</text>
<line x1="74.90" y1="329.70" x2="76.60" y2="329.70" stroke="#555" stroke-width="0.6"/>
<text x="68.80" y="332.10" font-size="6.7" text-anchor="end" fill="#222" font-weight="normal" stroke="#222" stroke-width="0.22">CNA deletion</text>
<rect x="81.80" y="341.10" width="91.48" height="18.70" fill="#222222"/>
<text x="163.48" y="352.55" font-size="6.0" text-anchor="middle" fill="#fff" font-weight="normal" stroke="#fff" stroke-width="0.1">99</text>
<line x1="74.90" y1="350.45" x2="76.60" y2="350.45" stroke="#555" stroke-width="0.6"/>
<text x="73.70" y="352.85" font-size="6.7" text-anchor="end" fill="#222" font-weight="normal" stroke="#222" stroke-width="0.22">Any</text>
<line x1="81.50" y1="363.40" x2="81.50" y2="365.00" stroke="#555" stroke-width="0.6"/>
<text x="81.50" y="369.30" font-size="4.6" text-anchor="middle" fill="#444" font-weight="normal">0</text>
<line x1="104.50" y1="363.40" x2="104.50" y2="365.00" stroke="#555" stroke-width="0.6"/>
<text x="104.50" y="369.30" font-size="4.6" text-anchor="middle" fill="#444" font-weight="normal">25</text>
<line x1="127.50" y1="363.40" x2="127.50" y2="365.00" stroke="#555" stroke-width="0.6"/>
<text x="127.50" y="369.30" font-size="4.6" text-anchor="middle" fill="#444" font-weight="normal">50</text>
<line x1="150.50" y1="363.40" x2="150.50" y2="365.00" stroke="#555" stroke-width="0.6"/>
<text x="150.50" y="369.30" font-size="4.6" text-anchor="middle" fill="#444" font-weight="normal">75</text>
<line x1="173.50" y1="363.40" x2="173.50" y2="365.00" stroke="#555" stroke-width="0.6"/>
<text x="173.50" y="369.30" font-size="4.6" text-anchor="middle" fill="#444" font-weight="normal">100</text>
<text x="75.90" y="376.80" font-size="6.7" text-anchor="start" fill="#111" font-weight="normal" stroke="#111" stroke-width="0.22">Patients with candidate drivers (%)</text>
<line x1="187.40" y1="234.00" x2="187.40" y2="363.80" stroke="#555" stroke-width="0.85"/>
<line x1="187.00" y1="363.40" x2="288.20" y2="363.40" stroke="#555" stroke-width="0.85"/>
<line x1="185.70" y1="246.70" x2="187.40" y2="246.70" stroke="#555" stroke-width="0.6"/>
<line x1="204.75" y1="246.70" x2="222.10" y2="246.70" stroke="#e3b4da" stroke-width="1.0"/>
<circle cx="212.75" cy="246.70" r="1.9" fill="#c472b4"/>
<text x="0" y="0" font-size="6.7" text-anchor="middle" fill="#c472b4" stroke="#c472b4" stroke-width="0.12" transform="translate(212.75,243.20) scale(0.86,1)">1.3</text>
<line x1="185.70" y1="267.45" x2="187.40" y2="267.45" stroke="#555" stroke-width="0.6"/>
<line x1="202.08" y1="267.45" x2="229.44" y2="267.45" stroke="#9fd4f0" stroke-width="1.0"/>
<circle cx="215.43" cy="267.45" r="1.9" fill="#6cbde8"/>
<text x="0" y="0" font-size="6.7" text-anchor="middle" fill="#6cbde8" stroke="#6cbde8" stroke-width="0.12" transform="translate(215.43,263.95) scale(0.86,1)">1.5</text>
<line x1="185.70" y1="288.20" x2="187.40" y2="288.20" stroke="#555" stroke-width="0.6"/>
<line x1="191.40" y1="288.20" x2="283.51" y2="288.20" stroke="#e8b860" stroke-width="1.0"/>
<circle cx="238.12" cy="288.20" r="1.9" fill="#e0a02a"/>
<text x="0" y="0" font-size="6.7" text-anchor="middle" fill="#e0a02a" stroke="#e0a02a" stroke-width="0.12" transform="translate(238.12,284.70) scale(0.86,1)">3.2</text>
<line x1="185.70" y1="308.95" x2="187.40" y2="308.95" stroke="#555" stroke-width="0.6"/>
<line x1="207.42" y1="308.95" x2="217.43" y2="308.95" stroke="#7cc8a0" stroke-width="1.0"/>
<circle cx="212.75" cy="308.95" r="1.9" fill="#3daa78"/>
<text x="0" y="0" font-size="6.7" text-anchor="middle" fill="#3daa78" stroke="#3daa78" stroke-width="0.12" transform="translate(212.75,305.45) scale(0.86,1)">1.3</text>
<line x1="185.70" y1="329.70" x2="187.40" y2="329.70" stroke="#555" stroke-width="0.6"/>
<line x1="214.09" y1="329.70" x2="247.47" y2="329.70" stroke="#a8c8ea" stroke-width="1.0"/>
<circle cx="230.11" cy="329.70" r="1.9" fill="#3a79b9"/>
<text x="0" y="0" font-size="6.7" text-anchor="middle" fill="#3a79b9" stroke="#3a79b9" stroke-width="0.12" transform="translate(230.11,326.20) scale(0.86,1)">2.6</text>
<line x1="185.70" y1="350.45" x2="187.40" y2="350.45" stroke="#555" stroke-width="0.6"/>
<line x1="219.43" y1="350.45" x2="272.16" y2="350.45" stroke="#777" stroke-width="1.0"/>
<circle cx="246.13" cy="350.45" r="1.9" fill="#222222"/>
<text x="0" y="0" font-size="6.7" text-anchor="middle" fill="#222222" stroke="#222222" stroke-width="0.12" transform="translate(246.13,346.95) scale(0.86,1)">3.8</text>
<line x1="195.40" y1="363.40" x2="195.40" y2="365.00" stroke="#555" stroke-width="0.6"/>
<text x="195.40" y="369.30" font-size="4.6" text-anchor="middle" fill="#444" font-weight="normal">0</text>
<line x1="222.10" y1="363.40" x2="222.10" y2="365.00" stroke="#555" stroke-width="0.6"/>
<text x="222.10" y="369.30" font-size="4.6" text-anchor="middle" fill="#444" font-weight="normal">2</text>
<line x1="248.80" y1="363.40" x2="248.80" y2="365.00" stroke="#555" stroke-width="0.6"/>
<text x="248.80" y="369.30" font-size="4.6" text-anchor="middle" fill="#444" font-weight="normal">4</text>
<line x1="275.50" y1="363.40" x2="275.50" y2="365.00" stroke="#555" stroke-width="0.6"/>
<text x="275.50" y="369.30" font-size="4.6" text-anchor="middle" fill="#444" font-weight="normal">6</text>
<text x="195.20" y="376.50" font-size="6.7" text-anchor="start" fill="#111" font-weight="normal" stroke="#111" stroke-width="0.22">Number of candidate drivers</text>
<text x="0" y="0" font-size="12.6" fill="#111" stroke="#111" stroke-width="0.15" transform="translate(326.0,244.8) scale(0.85,1)">C</text>
<line x1="367.50" y1="239.00" x2="367.50" y2="332.60" stroke="#555" stroke-width="0.85"/>
<line x1="367.10" y1="332.20" x2="604.60" y2="332.20" stroke="#555" stroke-width="0.85"/>
<line x1="365.80" y1="327.80" x2="367.50" y2="327.80" stroke="#555" stroke-width="0.6"/>
<text x="365.00" y="330.00" font-size="6.4" text-anchor="end" fill="#333" font-weight="normal" stroke="#333" stroke-width="0.22">0</text>
<line x1="365.80" y1="303.80" x2="367.50" y2="303.80" stroke="#555" stroke-width="0.6"/>
<text x="365.00" y="306.00" font-size="6.4" text-anchor="end" fill="#333" font-weight="normal" stroke="#333" stroke-width="0.22">100</text>
<line x1="365.80" y1="279.80" x2="367.50" y2="279.80" stroke="#555" stroke-width="0.6"/>
<text x="365.00" y="282.00" font-size="6.4" text-anchor="end" fill="#333" font-weight="normal" stroke="#333" stroke-width="0.22">200</text>
<line x1="365.80" y1="255.80" x2="367.50" y2="255.80" stroke="#555" stroke-width="0.6"/>
<text x="365.00" y="258.00" font-size="6.4" text-anchor="end" fill="#333" font-weight="normal" stroke="#333" stroke-width="0.22">300</text>
<text x="0" y="0" font-size="8.6" text-anchor="middle" fill="#111" stroke="#111" stroke-width="0.22" transform="translate(351.8,285.8) rotate(-90)">Number of patients</text>
<rect x="373.00" y="306.00" width="10.90" height="21.80" fill="#050505"/>
<rect x="373.00" y="251.60" width="10.90" height="54.40" fill="#c472b4"/>
<rect x="373.00" y="250.10" width="10.90" height="1.50" fill="#3a79b9"/>
<rect x="373.00" y="305.85" width="10.90" height="0.3" fill="#fff"/>
<text x="0" y="0" font-size="7.3" fill="#111" stroke="#111" stroke-width="0.38" transform="translate(375.20,249.30) rotate(-42) scale(0.88,1)">99%</text>
<rect x="385.05" y="317.70" width="10.90" height="10.10" fill="#6cbde8"/>
<rect x="385.05" y="308.80" width="10.90" height="8.90" fill="#050505"/>
<rect x="385.05" y="291.90" width="10.90" height="16.90" fill="#3daa78"/>
<rect x="385.05" y="286.80" width="10.90" height="5.10" fill="#e0a02a"/>
<rect x="385.05" y="317.55" width="10.90" height="0.3" fill="#fff"/>
<rect x="385.05" y="308.65" width="10.90" height="0.3" fill="#fff"/>
<rect x="385.05" y="291.75" width="10.90" height="0.3" fill="#fff"/>
<text x="0" y="0" font-size="7.3" fill="#111" stroke="#111" stroke-width="0.38" transform="translate(387.25,286.00) rotate(-42) scale(0.88,1)">52%</text>
<rect x="397.10" y="320.90" width="10.90" height="6.90" fill="#6cbde8"/>
<rect x="397.10" y="317.30" width="10.90" height="3.60" fill="#050505"/>
<rect x="397.10" y="312.60" width="10.90" height="4.70" fill="#3daa78"/>
<rect x="397.10" y="294.40" width="10.90" height="18.20" fill="#3a79b9"/>
<rect x="397.10" y="293.00" width="10.90" height="1.40" fill="#e0a02a"/>
<rect x="397.10" y="320.75" width="10.90" height="0.3" fill="#fff"/>
<rect x="397.10" y="317.15" width="10.90" height="0.3" fill="#fff"/>
<rect x="397.10" y="312.45" width="10.90" height="0.3" fill="#fff"/>
<text x="0" y="0" font-size="7.3" fill="#111" stroke="#111" stroke-width="0.38" transform="translate(399.30,292.20) rotate(-42) scale(0.88,1)">44%</text>
<rect x="409.15" y="320.90" width="10.90" height="6.90" fill="#6cbde8"/>
<rect x="409.15" y="316.30" width="10.90" height="4.60" fill="#050505"/>
<rect x="409.15" y="309.90" width="10.90" height="6.40" fill="#3daa78"/>
<rect x="409.15" y="295.50" width="10.90" height="14.40" fill="#3a79b9"/>
<rect x="409.15" y="294.20" width="10.90" height="1.30" fill="#e0a02a"/>
<rect x="409.15" y="320.75" width="10.90" height="0.3" fill="#fff"/>
<rect x="409.15" y="316.15" width="10.90" height="0.3" fill="#fff"/>
<rect x="409.15" y="309.75" width="10.90" height="0.3" fill="#fff"/>
<text x="0" y="0" font-size="7.3" fill="#111" stroke="#111" stroke-width="0.38" transform="translate(411.35,293.40) rotate(-42) scale(0.88,1)">43%</text>
<rect x="421.20" y="324.40" width="10.90" height="3.40" fill="#6cbde8"/>
<rect x="421.20" y="321.40" width="10.90" height="3.00" fill="#050505"/>
<rect x="421.20" y="318.80" width="10.90" height="2.60" fill="#c472b4"/>
<rect x="421.20" y="313.90" width="10.90" height="4.90" fill="#3daa78"/>
<rect x="421.20" y="297.00" width="10.90" height="16.90" fill="#3a79b9"/>
<rect x="421.20" y="296.00" width="10.90" height="1.00" fill="#e0a02a"/>
<rect x="421.20" y="324.25" width="10.90" height="0.3" fill="#fff"/>
<rect x="421.20" y="321.25" width="10.90" height="0.3" fill="#fff"/>
<rect x="421.20" y="318.65" width="10.90" height="0.3" fill="#fff"/>
<rect x="421.20" y="313.75" width="10.90" height="0.3" fill="#fff"/>
<text x="0" y="0" font-size="7.3" fill="#111" stroke="#111" stroke-width="0.38" transform="translate(423.40,295.20) rotate(-42) scale(0.88,1)">42%</text>
<rect x="433.25" y="323.00" width="10.90" height="4.80" fill="#6cbde8"/>
<rect x="433.25" y="311.90" width="10.90" height="11.10" fill="#050505"/>
<rect x="433.25" y="308.10" width="10.90" height="3.80" fill="#c472b4"/>
<rect x="433.25" y="306.70" width="10.90" height="1.40" fill="#3daa78"/>
<rect x="433.25" y="298.60" width="10.90" height="8.10" fill="#3a79b9"/>
<rect x="433.25" y="296.80" width="10.90" height="1.80" fill="#e0a02a"/>
<rect x="433.25" y="322.85" width="10.90" height="0.3" fill="#fff"/>
<rect x="433.25" y="311.75" width="10.90" height="0.3" fill="#fff"/>
<rect x="433.25" y="307.95" width="10.90" height="0.3" fill="#fff"/>
<rect x="433.25" y="306.55" width="10.90" height="0.3" fill="#fff"/>
<rect x="433.25" y="298.45" width="10.90" height="0.3" fill="#fff"/>
<text x="0" y="0" font-size="7.3" fill="#111" stroke="#111" stroke-width="0.38" transform="translate(435.45,296.00) rotate(-42) scale(0.88,1)">40%</text>
<rect x="445.30" y="322.00" width="10.90" height="5.80" fill="#6cbde8"/>
<rect x="445.30" y="320.40" width="10.90" height="1.60" fill="#050505"/>
<rect x="445.30" y="319.40" width="10.90" height="1.00" fill="#c472b4"/>
<rect x="445.30" y="316.00" width="10.90" height="3.40" fill="#3daa78"/>
<rect x="445.30" y="298.60" width="10.90" height="17.40" fill="#3a79b9"/>
<rect x="445.30" y="297.00" width="10.90" height="1.60" fill="#e0a02a"/>
<rect x="445.30" y="321.85" width="10.90" height="0.3" fill="#fff"/>
<rect x="445.30" y="320.25" width="10.90" height="0.3" fill="#fff"/>
<rect x="445.30" y="319.25" width="10.90" height="0.3" fill="#fff"/>
<rect x="445.30" y="315.85" width="10.90" height="0.3" fill="#fff"/>
<rect x="445.30" y="298.45" width="10.90" height="0.3" fill="#fff"/>
<text x="0" y="0" font-size="7.3" fill="#111" stroke="#111" stroke-width="0.38" transform="translate(447.50,296.20) rotate(-42) scale(0.88,1)">40%</text>
<rect x="457.35" y="321.40" width="10.90" height="6.40" fill="#6cbde8"/>
<rect x="457.35" y="316.00" width="10.90" height="5.40" fill="#050505"/>
<rect x="457.35" y="301.00" width="10.90" height="15.00" fill="#3daa78"/>
<rect x="457.35" y="300.20" width="10.90" height="0.80" fill="#3a79b9"/>
<rect x="457.35" y="298.80" width="10.90" height="1.40" fill="#e0a02a"/>
<rect x="457.35" y="321.25" width="10.90" height="0.3" fill="#fff"/>
<rect x="457.35" y="315.85" width="10.90" height="0.3" fill="#fff"/>
<rect x="457.35" y="300.85" width="10.90" height="0.3" fill="#fff"/>
<text x="0" y="0" font-size="7.3" fill="#111" stroke="#111" stroke-width="0.38" transform="translate(459.55,298.00) rotate(-42) scale(0.88,1)">38%</text>
<rect x="469.40" y="323.00" width="10.90" height="4.80" fill="#6cbde8"/>
<rect x="469.40" y="319.80" width="10.90" height="3.20" fill="#050505"/>
<rect x="469.40" y="318.40" width="10.90" height="1.40" fill="#c472b4"/>
<rect x="469.40" y="304.60" width="10.90" height="13.80" fill="#3daa78"/>
<rect x="469.40" y="302.60" width="10.90" height="2.00" fill="#3a79b9"/>
<rect x="469.40" y="300.20" width="10.90" height="2.40" fill="#e0a02a"/>
<rect x="469.40" y="322.85" width="10.90" height="0.3" fill="#fff"/>
<rect x="469.40" y="319.65" width="10.90" height="0.3" fill="#fff"/>
<rect x="469.40" y="318.25" width="10.90" height="0.3" fill="#fff"/>
<rect x="469.40" y="304.45" width="10.90" height="0.3" fill="#fff"/>
<rect x="469.40" y="302.45" width="10.90" height="0.3" fill="#fff"/>
<text x="0" y="0" font-size="7.3" fill="#111" stroke="#111" stroke-width="0.38" transform="translate(471.60,299.40) rotate(-42) scale(0.88,1)">36%</text>
<rect x="481.45" y="318.00" width="10.90" height="9.80" fill="#6cbde8"/>
<rect x="481.45" y="313.90" width="10.90" height="4.10" fill="#050505"/>
<rect x="481.45" y="313.30" width="10.90" height="0.60" fill="#c472b4"/>
<rect x="481.45" y="300.60" width="10.90" height="12.70" fill="#e0a02a"/>
<rect x="481.45" y="317.85" width="10.90" height="0.3" fill="#fff"/>
<rect x="481.45" y="313.75" width="10.90" height="0.3" fill="#fff"/>
<rect x="481.45" y="313.15" width="10.90" height="0.3" fill="#fff"/>
<text x="0" y="0" font-size="7.3" fill="#111" stroke="#111" stroke-width="0.38" transform="translate(483.65,299.80) rotate(-42) scale(0.88,1)">35%</text>
<rect x="493.50" y="323.40" width="10.90" height="4.40" fill="#6cbde8"/>
<rect x="493.50" y="318.80" width="10.90" height="4.60" fill="#050505"/>
<rect x="493.50" y="312.50" width="10.90" height="6.30" fill="#3daa78"/>
<rect x="493.50" y="302.00" width="10.90" height="10.50" fill="#3a79b9"/>
<rect x="493.50" y="301.00" width="10.90" height="1.00" fill="#e0a02a"/>
<rect x="493.50" y="323.25" width="10.90" height="0.3" fill="#fff"/>
<rect x="493.50" y="318.65" width="10.90" height="0.3" fill="#fff"/>
<rect x="493.50" y="312.35" width="10.90" height="0.3" fill="#fff"/>
<text x="0" y="0" font-size="7.3" fill="#111" stroke="#111" stroke-width="0.38" transform="translate(495.70,300.20) rotate(-42) scale(0.88,1)">35%</text>
<rect x="505.55" y="323.40" width="10.90" height="4.40" fill="#6cbde8"/>
<rect x="505.55" y="319.80" width="10.90" height="3.60" fill="#050505"/>
<rect x="505.55" y="317.40" width="10.90" height="2.40" fill="#c472b4"/>
<rect x="505.55" y="315.80" width="10.90" height="1.60" fill="#3daa78"/>
<rect x="505.55" y="302.60" width="10.90" height="13.20" fill="#3a79b9"/>
<rect x="505.55" y="301.20" width="10.90" height="1.40" fill="#e0a02a"/>
<rect x="505.55" y="323.25" width="10.90" height="0.3" fill="#fff"/>
<rect x="505.55" y="319.65" width="10.90" height="0.3" fill="#fff"/>
<rect x="505.55" y="317.25" width="10.90" height="0.3" fill="#fff"/>
<rect x="505.55" y="315.65" width="10.90" height="0.3" fill="#fff"/>
<text x="0" y="0" font-size="7.3" fill="#111" stroke="#111" stroke-width="0.38" transform="translate(507.75,300.40) rotate(-42) scale(0.88,1)">34%</text>
<rect x="517.60" y="320.40" width="10.90" height="7.40" fill="#6cbde8"/>
<rect x="517.60" y="314.50" width="10.90" height="5.90" fill="#050505"/>
<rect x="517.60" y="313.00" width="10.90" height="1.50" fill="#c472b4"/>
<rect x="517.60" y="309.50" width="10.90" height="3.50" fill="#3daa78"/>
<rect x="517.60" y="303.20" width="10.90" height="6.30" fill="#3a79b9"/>
<rect x="517.60" y="301.60" width="10.90" height="1.60" fill="#e0a02a"/>
<rect x="517.60" y="320.25" width="10.90" height="0.3" fill="#fff"/>
<rect x="517.60" y="314.35" width="10.90" height="0.3" fill="#fff"/>
<rect x="517.60" y="312.85" width="10.90" height="0.3" fill="#fff"/>
<rect x="517.60" y="309.35" width="10.90" height="0.3" fill="#fff"/>
<rect x="517.60" y="303.05" width="10.90" height="0.3" fill="#fff"/>
<text x="0" y="0" font-size="7.3" fill="#111" stroke="#111" stroke-width="0.38" transform="translate(519.80,300.80) rotate(-42) scale(0.88,1)">34%</text>
<rect x="529.65" y="321.00" width="10.90" height="6.80" fill="#6cbde8"/>
<rect x="529.65" y="312.50" width="10.90" height="8.50" fill="#050505"/>
<rect x="529.65" y="303.60" width="10.90" height="8.90" fill="#3daa78"/>
<rect x="529.65" y="302.40" width="10.90" height="1.20" fill="#e0a02a"/>
<rect x="529.65" y="320.85" width="10.90" height="0.3" fill="#fff"/>
<rect x="529.65" y="312.35" width="10.90" height="0.3" fill="#fff"/>
<text x="0" y="0" font-size="7.3" fill="#111" stroke="#111" stroke-width="0.38" transform="translate(531.85,301.60) rotate(-42) scale(0.88,1)">33%</text>
<rect x="541.70" y="317.80" width="10.90" height="10.00" fill="#6cbde8"/>
<rect x="541.70" y="313.90" width="10.90" height="3.90" fill="#050505"/>
<rect x="541.70" y="302.60" width="10.90" height="11.30" fill="#e0a02a"/>
<rect x="541.70" y="317.65" width="10.90" height="0.3" fill="#fff"/>
<rect x="541.70" y="313.75" width="10.90" height="0.3" fill="#fff"/>
<text x="0" y="0" font-size="7.3" fill="#111" stroke="#111" stroke-width="0.38" transform="translate(543.90,301.80) rotate(-42) scale(0.88,1)">33%</text>
<rect x="553.75" y="323.80" width="10.90" height="4.00" fill="#6cbde8"/>
<rect x="553.75" y="320.40" width="10.90" height="3.40" fill="#050505"/>
<rect x="553.75" y="318.40" width="10.90" height="2.00" fill="#c472b4"/>
<rect x="553.75" y="316.40" width="10.90" height="2.00" fill="#3daa78"/>
<rect x="553.75" y="306.00" width="10.90" height="10.40" fill="#3a79b9"/>
<rect x="553.75" y="304.00" width="10.90" height="2.00" fill="#e0a02a"/>
<rect x="553.75" y="323.65" width="10.90" height="0.3" fill="#fff"/>
<rect x="553.75" y="320.25" width="10.90" height="0.3" fill="#fff"/>
<rect x="553.75" y="318.25" width="10.90" height="0.3" fill="#fff"/>
<rect x="553.75" y="316.25" width="10.90" height="0.3" fill="#fff"/>
<rect x="553.75" y="305.85" width="10.90" height="0.3" fill="#fff"/>
<text x="0" y="0" font-size="7.3" fill="#111" stroke="#111" stroke-width="0.38" transform="translate(555.95,303.20) rotate(-42) scale(0.88,1)">31%</text>
<rect x="565.80" y="327.00" width="10.90" height="0.80" fill="#6cbde8"/>
<rect x="565.80" y="326.00" width="10.90" height="1.00" fill="#050505"/>
<rect x="565.80" y="319.10" width="10.90" height="6.90" fill="#3daa78"/>
<rect x="565.80" y="308.00" width="10.90" height="11.10" fill="#3a79b9"/>
<rect x="565.80" y="307.20" width="10.90" height="0.80" fill="#e0a02a"/>
<rect x="565.80" y="326.85" width="10.90" height="0.3" fill="#fff"/>
<rect x="565.80" y="325.85" width="10.90" height="0.3" fill="#fff"/>
<rect x="565.80" y="318.95" width="10.90" height="0.3" fill="#fff"/>
<text x="0" y="0" font-size="7.3" fill="#111" stroke="#111" stroke-width="0.38" transform="translate(568.00,306.40) rotate(-42) scale(0.88,1)">28%</text>
<rect x="577.85" y="325.00" width="10.90" height="2.80" fill="#6cbde8"/>
<rect x="577.85" y="321.90" width="10.90" height="3.10" fill="#050505"/>
<rect x="577.85" y="319.50" width="10.90" height="2.40" fill="#c472b4"/>
<rect x="577.85" y="315.50" width="10.90" height="4.00" fill="#3daa78"/>
<rect x="577.85" y="309.00" width="10.90" height="6.50" fill="#3a79b9"/>
<rect x="577.85" y="308.00" width="10.90" height="1.00" fill="#e0a02a"/>
<rect x="577.85" y="324.85" width="10.90" height="0.3" fill="#fff"/>
<rect x="577.85" y="321.75" width="10.90" height="0.3" fill="#fff"/>
<rect x="577.85" y="319.35" width="10.90" height="0.3" fill="#fff"/>
<rect x="577.85" y="315.35" width="10.90" height="0.3" fill="#fff"/>
<text x="0" y="0" font-size="7.3" fill="#111" stroke="#111" stroke-width="0.38" transform="translate(580.05,307.20) rotate(-42) scale(0.88,1)">26%</text>
<rect x="589.90" y="327.40" width="10.90" height="0.40" fill="#6cbde8"/>
<rect x="589.90" y="326.00" width="10.90" height="1.40" fill="#c472b4"/>
<rect x="589.90" y="319.00" width="10.90" height="7.00" fill="#3daa78"/>
<rect x="589.90" y="311.20" width="10.90" height="7.80" fill="#3a79b9"/>
<rect x="589.90" y="327.25" width="10.90" height="0.3" fill="#fff"/>
<rect x="589.90" y="325.85" width="10.90" height="0.3" fill="#fff"/>
<rect x="589.90" y="318.85" width="10.90" height="0.3" fill="#fff"/>
<text x="0" y="0" font-size="7.3" fill="#111" stroke="#111" stroke-width="0.38" transform="translate(592.10,310.40) rotate(-42) scale(0.88,1)">21%</text>
<line x1="378.45" y1="332.20" x2="378.45" y2="334.40" stroke="#555" stroke-width="0.6"/>
<text x="0" y="0" font-size="6.9" text-anchor="end" fill="#2a2a2a" stroke="#2a2a2a" stroke-width="0.1" transform="translate(380.95,338.30) rotate(-45)">TP53</text>
<line x1="390.50" y1="332.20" x2="390.50" y2="334.40" stroke="#555" stroke-width="0.6"/>
<text x="0" y="0" font-size="6.9" text-anchor="end" fill="#2a2a2a" stroke="#2a2a2a" stroke-width="0.1" transform="translate(393.00,338.30) rotate(-45)">TCEA1</text>
<line x1="402.55" y1="332.20" x2="402.55" y2="334.40" stroke="#555" stroke-width="0.6"/>
<text x="0" y="0" font-size="6.9" text-anchor="end" fill="#2a2a2a" stroke="#2a2a2a" stroke-width="0.1" transform="translate(405.05,338.30) rotate(-45)">LEPROTL1</text>
<line x1="414.60" y1="332.20" x2="414.60" y2="334.40" stroke="#555" stroke-width="0.6"/>
<text x="0" y="0" font-size="6.9" text-anchor="end" fill="#2a2a2a" stroke="#2a2a2a" stroke-width="0.1" transform="translate(417.10,338.30) rotate(-45)">WRN</text>
<line x1="426.65" y1="332.20" x2="426.65" y2="334.40" stroke="#555" stroke-width="0.6"/>
<text x="0" y="0" font-size="6.9" text-anchor="end" fill="#2a2a2a" stroke="#2a2a2a" stroke-width="0.1" transform="translate(429.15,338.30) rotate(-45)">SLC35G5</text>
<line x1="438.70" y1="332.20" x2="438.70" y2="334.40" stroke="#555" stroke-width="0.6"/>
<text x="0" y="0" font-size="6.9" text-anchor="end" fill="#2a2a2a" stroke="#2a2a2a" stroke-width="0.1" transform="translate(441.20,338.30) rotate(-45)">NF1</text>
<line x1="450.75" y1="332.20" x2="450.75" y2="334.40" stroke="#555" stroke-width="0.6"/>
<text x="0" y="0" font-size="6.9" text-anchor="end" fill="#2a2a2a" stroke="#2a2a2a" stroke-width="0.1" transform="translate(453.25,338.30) rotate(-45)">PCM1</text>
<line x1="462.80" y1="332.20" x2="462.80" y2="334.40" stroke="#555" stroke-width="0.6"/>
<text x="0" y="0" font-size="6.9" text-anchor="end" fill="#2a2a2a" stroke="#2a2a2a" stroke-width="0.1" transform="translate(465.30,338.30) rotate(-45)">DNMT3A</text>
<line x1="474.85" y1="332.20" x2="474.85" y2="334.40" stroke="#555" stroke-width="0.6"/>
<text x="0" y="0" font-size="6.9" text-anchor="end" fill="#2a2a2a" stroke="#2a2a2a" stroke-width="0.1" transform="translate(477.35,338.30) rotate(-45)">TAS2R43</text>
<line x1="486.90" y1="332.20" x2="486.90" y2="334.40" stroke="#555" stroke-width="0.6"/>
<text x="0" y="0" font-size="6.9" text-anchor="end" fill="#2a2a2a" stroke="#2a2a2a" stroke-width="0.1" transform="translate(489.40,338.30) rotate(-45)">CEP89</text>
<line x1="498.95" y1="332.20" x2="498.95" y2="334.40" stroke="#555" stroke-width="0.6"/>
<text x="0" y="0" font-size="6.9" text-anchor="end" fill="#2a2a2a" stroke="#2a2a2a" stroke-width="0.1" transform="translate(501.45,338.30) rotate(-45)">ARID1B</text>
<line x1="511.00" y1="332.20" x2="511.00" y2="334.40" stroke="#555" stroke-width="0.6"/>
<text x="0" y="0" font-size="6.9" text-anchor="end" fill="#2a2a2a" stroke="#2a2a2a" stroke-width="0.1" transform="translate(513.50,338.30) rotate(-45)">CDK12</text>
<line x1="523.05" y1="332.20" x2="523.05" y2="334.40" stroke="#555" stroke-width="0.6"/>
<text x="0" y="0" font-size="6.9" text-anchor="end" fill="#2a2a2a" stroke="#2a2a2a" stroke-width="0.1" transform="translate(525.55,338.30) rotate(-45)">RB1</text>
<line x1="535.10" y1="332.20" x2="535.10" y2="334.40" stroke="#555" stroke-width="0.6"/>
<text x="0" y="0" font-size="6.9" text-anchor="end" fill="#2a2a2a" stroke="#2a2a2a" stroke-width="0.1" transform="translate(537.60,338.30) rotate(-45)">PTEN</text>
<line x1="547.15" y1="332.20" x2="547.15" y2="334.40" stroke="#555" stroke-width="0.6"/>
<text x="0" y="0" font-size="6.9" text-anchor="end" fill="#2a2a2a" stroke="#2a2a2a" stroke-width="0.1" transform="translate(549.65,338.30) rotate(-45)">CCNE1</text>
<line x1="559.20" y1="332.20" x2="559.20" y2="334.40" stroke="#555" stroke-width="0.6"/>
<text x="0" y="0" font-size="6.9" text-anchor="end" fill="#2a2a2a" stroke="#2a2a2a" stroke-width="0.1" transform="translate(561.70,338.30) rotate(-45)">BRCA1</text>
<line x1="571.25" y1="332.20" x2="571.25" y2="334.40" stroke="#555" stroke-width="0.6"/>
<text x="0" y="0" font-size="6.9" text-anchor="end" fill="#2a2a2a" stroke="#2a2a2a" stroke-width="0.1" transform="translate(573.75,338.30) rotate(-45)">CEP43</text>
<line x1="583.30" y1="332.20" x2="583.30" y2="334.40" stroke="#555" stroke-width="0.6"/>
<text x="0" y="0" font-size="6.9" text-anchor="end" fill="#2a2a2a" stroke="#2a2a2a" stroke-width="0.1" transform="translate(585.80,338.30) rotate(-45)">BRCA2</text>
<line x1="595.35" y1="332.20" x2="595.35" y2="334.40" stroke="#555" stroke-width="0.6"/>
<text x="0" y="0" font-size="6.9" text-anchor="end" fill="#2a2a2a" stroke="#2a2a2a" stroke-width="0.1" transform="translate(597.85,338.30) rotate(-45)">AXIN1</text>
<text x="443.90" y="371.00" font-size="8.6" text-anchor="start" fill="#111" font-weight="normal" stroke="#111" stroke-width="0.22">Candidate driver gene</text>
<text x="613.60" y="262.00" font-size="7" text-anchor="start" fill="#111" font-weight="bold" stroke="#111" stroke-width="0.22">Category</text>
<rect x="613.00" y="266.45" width="8.10" height="7.90" fill="#3a79b9"/>
<text x="624.90" y="272.80" font-size="6.75" text-anchor="start" fill="#222" font-weight="normal" stroke="#222" stroke-width="0.22">CNA deletion</text>
<rect x="613.00" y="274.70" width="8.10" height="7.90" fill="#3daa78"/>
<text x="624.90" y="281.05" font-size="6.75" text-anchor="start" fill="#222" font-weight="normal" stroke="#222" stroke-width="0.22">CNA duplication</text>
<rect x="613.00" y="282.95" width="8.10" height="7.90" fill="#c472b4"/>
<text x="624.90" y="289.30" font-size="6.75" text-anchor="start" fill="#222" font-weight="normal" stroke="#222" stroke-width="0.22">Coding SNV/INDEL</text>
<rect x="613.00" y="291.20" width="8.10" height="7.90" fill="#e0a02a"/>
<text x="624.90" y="297.55" font-size="6.75" text-anchor="start" fill="#222" font-weight="normal" stroke="#222" stroke-width="0.22">Clustered SV</text>
<rect x="613.00" y="299.45" width="8.10" height="7.90" fill="#6cbde8"/>
<text x="624.90" y="305.80" font-size="6.75" text-anchor="start" fill="#222" font-weight="normal" stroke="#222" stroke-width="0.22">Simple SV</text>
<rect x="613.00" y="307.70" width="8.10" height="7.90" fill="#000000"/>
<text x="624.90" y="314.05" font-size="6.75" text-anchor="start" fill="#222" font-weight="normal" stroke="#222" stroke-width="0.22">Multi−hit</text>
</svg></body></html>
